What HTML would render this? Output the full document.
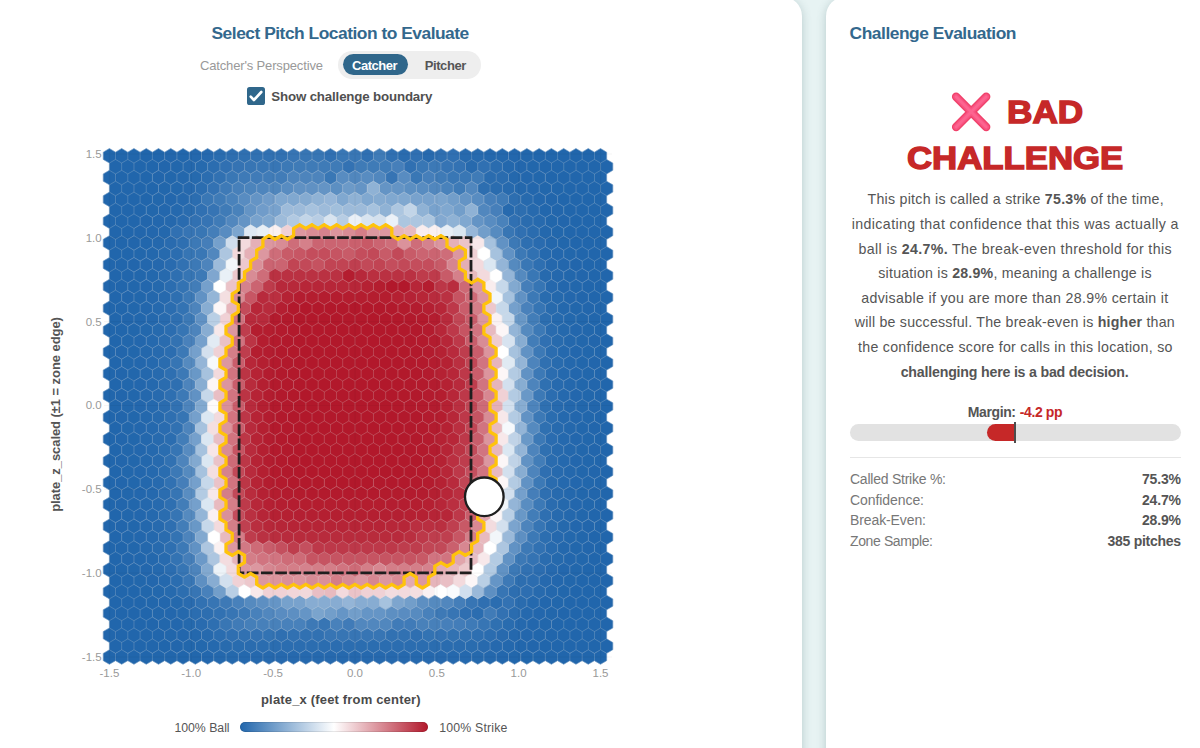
<!DOCTYPE html>
<html><head><meta charset="utf-8"><title>Challenge Evaluation</title>
<style>
html,body{margin:0;padding:0}
body{width:1200px;height:748px;overflow:hidden;position:relative;background:#e7f3f3;font-family:"Liberation Sans",sans-serif}
.card{position:absolute;background:#fff;border-radius:19px;box-shadow:0 2px 10px rgba(70,110,112,.3)}
#c1{left:-120px;top:-3px;width:922px;height:800px}
#c2{left:826px;top:-3px;width:420px;height:800px}
.t{position:absolute;white-space:nowrap;line-height:1;margin:0}
.t b{font-weight:700}
#pill{position:absolute;left:338.3px;top:51px;width:142.4px;height:27.6px;border-radius:14px;background:#eeeeee}
#act{position:absolute;left:342.7px;top:54px;width:65px;height:20.7px;border-radius:10.4px;background:#30678b}
#cb{position:absolute;left:247.1px;top:87.1px;width:17.6px;height:17.6px;border-radius:2.6px;background:#30678b}
#bar{position:absolute;left:850px;top:424px;width:331px;height:17px;border-radius:9px;background:#e2e2e2;overflow:hidden}
#fill{position:absolute;left:137px;top:0;width:28px;height:17px;border-radius:9px 0 0 9px;background:#c62828}
#mark{position:absolute;left:1013.9px;top:422.3px;width:2.2px;height:20.4px;background:#4d4d4d}
#hr{position:absolute;left:850px;top:457px;width:331px;height:1px;background:#e6e6e6}
#lg{position:absolute;left:240px;top:722px;width:188px;height:10.2px;border-radius:5.1px;box-shadow:inset 0 0 0 0.8px rgba(0,0,0,.13);background:linear-gradient(90deg,#2166ac,#ffffff 50%,#b2182b)}
svg{position:absolute;left:0;top:0}
</style></head><body>
<div class="card" id="c1"></div>
<div class="card" id="c2"></div>
<div id="pill"></div><div id="act"></div>
<div id="cb"></div>
<svg width="1200" height="748" viewBox="0 0 1200 748">
<g stroke-width="0.5" stroke-linejoin="round">
<path fill="#2166ac" stroke="#2166ac" d="M109.40 148.53l6.14 3.63v7.26l-6.14 3.63l-6.14 -3.63v-7.26zM121.68 148.53l6.14 3.63v7.26l-6.14 3.63l-6.14 -3.63v-7.26zM133.95 148.53l6.14 3.63v7.26l-6.14 3.63l-6.14 -3.63v-7.26zM146.23 148.53l6.14 3.63v7.26l-6.14 3.63l-6.14 -3.63v-7.26zM158.51 148.53l6.14 3.63v7.26l-6.14 3.63l-6.14 -3.63v-7.26zM539.11 148.53l6.14 3.63v7.26l-6.14 3.63l-6.14 -3.63v-7.26zM551.39 148.53l6.14 3.63v7.26l-6.14 3.63l-6.14 -3.63v-7.26zM563.67 148.53l6.14 3.63v7.26l-6.14 3.63l-6.14 -3.63v-7.26zM575.94 148.53l6.14 3.63v7.26l-6.14 3.63l-6.14 -3.63v-7.26zM588.22 148.53l6.14 3.63v7.26l-6.14 3.63l-6.14 -3.63v-7.26zM600.50 148.53l6.14 3.63v7.26l-6.14 3.63l-6.14 -3.63v-7.26zM115.54 159.43l6.14 3.63v7.26l-6.14 3.63l-6.14 -3.63v-7.26zM127.82 159.43l6.14 3.63v7.26l-6.14 3.63l-6.14 -3.63v-7.26zM140.09 159.43l6.14 3.63v7.26l-6.14 3.63l-6.14 -3.63v-7.26zM152.37 159.43l6.14 3.63v7.26l-6.14 3.63l-6.14 -3.63v-7.26zM545.25 159.43l6.14 3.63v7.26l-6.14 3.63l-6.14 -3.63v-7.26zM557.53 159.43l6.14 3.63v7.26l-6.14 3.63l-6.14 -3.63v-7.26zM569.81 159.43l6.14 3.63v7.26l-6.14 3.63l-6.14 -3.63v-7.26zM582.08 159.43l6.14 3.63v7.26l-6.14 3.63l-6.14 -3.63v-7.26zM594.36 159.43l6.14 3.63v7.26l-6.14 3.63l-6.14 -3.63v-7.26zM606.64 159.43l6.14 3.63v7.26l-6.14 3.63l-6.14 -3.63v-7.26zM109.40 170.32l6.14 3.63v7.26l-6.14 3.63l-6.14 -3.63v-7.26zM121.68 170.32l6.14 3.63v7.26l-6.14 3.63l-6.14 -3.63v-7.26zM133.95 170.32l6.14 3.63v7.26l-6.14 3.63l-6.14 -3.63v-7.26zM146.23 170.32l6.14 3.63v7.26l-6.14 3.63l-6.14 -3.63v-7.26zM551.39 170.32l6.14 3.63v7.26l-6.14 3.63l-6.14 -3.63v-7.26zM563.67 170.32l6.14 3.63v7.26l-6.14 3.63l-6.14 -3.63v-7.26zM575.94 170.32l6.14 3.63v7.26l-6.14 3.63l-6.14 -3.63v-7.26zM588.22 170.32l6.14 3.63v7.26l-6.14 3.63l-6.14 -3.63v-7.26zM600.50 170.32l6.14 3.63v7.26l-6.14 3.63l-6.14 -3.63v-7.26zM115.54 181.22l6.14 3.63v7.26l-6.14 3.63l-6.14 -3.63v-7.26zM127.82 181.22l6.14 3.63v7.26l-6.14 3.63l-6.14 -3.63v-7.26zM140.09 181.22l6.14 3.63v7.26l-6.14 3.63l-6.14 -3.63v-7.26zM152.37 181.22l6.14 3.63v7.26l-6.14 3.63l-6.14 -3.63v-7.26zM557.53 181.22l6.14 3.63v7.26l-6.14 3.63l-6.14 -3.63v-7.26zM569.81 181.22l6.14 3.63v7.26l-6.14 3.63l-6.14 -3.63v-7.26zM582.08 181.22l6.14 3.63v7.26l-6.14 3.63l-6.14 -3.63v-7.26zM594.36 181.22l6.14 3.63v7.26l-6.14 3.63l-6.14 -3.63v-7.26zM606.64 181.22l6.14 3.63v7.26l-6.14 3.63l-6.14 -3.63v-7.26zM109.40 192.11l6.14 3.63v7.26l-6.14 3.63l-6.14 -3.63v-7.26zM121.68 192.11l6.14 3.63v7.26l-6.14 3.63l-6.14 -3.63v-7.26zM133.95 192.11l6.14 3.63v7.26l-6.14 3.63l-6.14 -3.63v-7.26zM146.23 192.11l6.14 3.63v7.26l-6.14 3.63l-6.14 -3.63v-7.26zM563.67 192.11l6.14 3.63v7.26l-6.14 3.63l-6.14 -3.63v-7.26zM575.94 192.11l6.14 3.63v7.26l-6.14 3.63l-6.14 -3.63v-7.26zM588.22 192.11l6.14 3.63v7.26l-6.14 3.63l-6.14 -3.63v-7.26zM600.50 192.11l6.14 3.63v7.26l-6.14 3.63l-6.14 -3.63v-7.26zM115.54 203.01l6.14 3.63v7.26l-6.14 3.63l-6.14 -3.63v-7.26zM127.82 203.01l6.14 3.63v7.26l-6.14 3.63l-6.14 -3.63v-7.26zM140.09 203.01l6.14 3.63v7.26l-6.14 3.63l-6.14 -3.63v-7.26zM569.81 203.01l6.14 3.63v7.26l-6.14 3.63l-6.14 -3.63v-7.26zM582.08 203.01l6.14 3.63v7.26l-6.14 3.63l-6.14 -3.63v-7.26zM594.36 203.01l6.14 3.63v7.26l-6.14 3.63l-6.14 -3.63v-7.26zM606.64 203.01l6.14 3.63v7.26l-6.14 3.63l-6.14 -3.63v-7.26zM109.40 213.91l6.14 3.63v7.26l-6.14 3.63l-6.14 -3.63v-7.26zM121.68 213.91l6.14 3.63v7.26l-6.14 3.63l-6.14 -3.63v-7.26zM133.95 213.91l6.14 3.63v7.26l-6.14 3.63l-6.14 -3.63v-7.26zM575.94 213.91l6.14 3.63v7.26l-6.14 3.63l-6.14 -3.63v-7.26zM588.22 213.91l6.14 3.63v7.26l-6.14 3.63l-6.14 -3.63v-7.26zM600.50 213.91l6.14 3.63v7.26l-6.14 3.63l-6.14 -3.63v-7.26zM115.54 224.80l6.14 3.63v7.26l-6.14 3.63l-6.14 -3.63v-7.26zM127.82 224.80l6.14 3.63v7.26l-6.14 3.63l-6.14 -3.63v-7.26zM569.81 224.80l6.14 3.63v7.26l-6.14 3.63l-6.14 -3.63v-7.26zM582.08 224.80l6.14 3.63v7.26l-6.14 3.63l-6.14 -3.63v-7.26zM594.36 224.80l6.14 3.63v7.26l-6.14 3.63l-6.14 -3.63v-7.26zM606.64 224.80l6.14 3.63v7.26l-6.14 3.63l-6.14 -3.63v-7.26zM109.40 235.70l6.14 3.63v7.26l-6.14 3.63l-6.14 -3.63v-7.26zM121.68 235.70l6.14 3.63v7.26l-6.14 3.63l-6.14 -3.63v-7.26zM575.94 235.70l6.14 3.63v7.26l-6.14 3.63l-6.14 -3.63v-7.26zM588.22 235.70l6.14 3.63v7.26l-6.14 3.63l-6.14 -3.63v-7.26zM600.50 235.70l6.14 3.63v7.26l-6.14 3.63l-6.14 -3.63v-7.26zM115.54 246.59l6.14 3.63v7.26l-6.14 3.63l-6.14 -3.63v-7.26zM127.82 246.59l6.14 3.63v7.26l-6.14 3.63l-6.14 -3.63v-7.26zM582.08 246.59l6.14 3.63v7.26l-6.14 3.63l-6.14 -3.63v-7.26zM594.36 246.59l6.14 3.63v7.26l-6.14 3.63l-6.14 -3.63v-7.26zM606.64 246.59l6.14 3.63v7.26l-6.14 3.63l-6.14 -3.63v-7.26zM109.40 257.49l6.14 3.63v7.26l-6.14 3.63l-6.14 -3.63v-7.26zM121.68 257.49l6.14 3.63v7.26l-6.14 3.63l-6.14 -3.63v-7.26zM588.22 257.49l6.14 3.63v7.26l-6.14 3.63l-6.14 -3.63v-7.26zM600.50 257.49l6.14 3.63v7.26l-6.14 3.63l-6.14 -3.63v-7.26zM115.54 268.39l6.14 3.63v7.26l-6.14 3.63l-6.14 -3.63v-7.26zM127.82 268.39l6.14 3.63v7.26l-6.14 3.63l-6.14 -3.63v-7.26zM594.36 268.39l6.14 3.63v7.26l-6.14 3.63l-6.14 -3.63v-7.26zM606.64 268.39l6.14 3.63v7.26l-6.14 3.63l-6.14 -3.63v-7.26zM109.40 279.28l6.14 3.63v7.26l-6.14 3.63l-6.14 -3.63v-7.26zM121.68 279.28l6.14 3.63v7.26l-6.14 3.63l-6.14 -3.63v-7.26zM588.22 279.28l6.14 3.63v7.26l-6.14 3.63l-6.14 -3.63v-7.26zM600.50 279.28l6.14 3.63v7.26l-6.14 3.63l-6.14 -3.63v-7.26zM115.54 290.18l6.14 3.63v7.26l-6.14 3.63l-6.14 -3.63v-7.26zM594.36 290.18l6.14 3.63v7.26l-6.14 3.63l-6.14 -3.63v-7.26zM606.64 290.18l6.14 3.63v7.26l-6.14 3.63l-6.14 -3.63v-7.26zM109.40 301.07l6.14 3.63v7.26l-6.14 3.63l-6.14 -3.63v-7.26zM121.68 301.07l6.14 3.63v7.26l-6.14 3.63l-6.14 -3.63v-7.26zM600.50 301.07l6.14 3.63v7.26l-6.14 3.63l-6.14 -3.63v-7.26zM115.54 311.97l6.14 3.63v7.26l-6.14 3.63l-6.14 -3.63v-7.26zM594.36 311.97l6.14 3.63v7.26l-6.14 3.63l-6.14 -3.63v-7.26zM606.64 311.97l6.14 3.63v7.26l-6.14 3.63l-6.14 -3.63v-7.26zM109.40 322.87l6.14 3.63v7.26l-6.14 3.63l-6.14 -3.63v-7.26zM121.68 322.87l6.14 3.63v7.26l-6.14 3.63l-6.14 -3.63v-7.26zM600.50 322.87l6.14 3.63v7.26l-6.14 3.63l-6.14 -3.63v-7.26zM115.54 333.76l6.14 3.63v7.26l-6.14 3.63l-6.14 -3.63v-7.26zM606.64 333.76l6.14 3.63v7.26l-6.14 3.63l-6.14 -3.63v-7.26zM109.40 344.66l6.14 3.63v7.26l-6.14 3.63l-6.14 -3.63v-7.26zM600.50 344.66l6.14 3.63v7.26l-6.14 3.63l-6.14 -3.63v-7.26zM115.54 355.55l6.14 3.63v7.26l-6.14 3.63l-6.14 -3.63v-7.26zM606.64 355.55l6.14 3.63v7.26l-6.14 3.63l-6.14 -3.63v-7.26zM109.40 366.45l6.14 3.63v7.26l-6.14 3.63l-6.14 -3.63v-7.26zM600.50 366.45l6.14 3.63v7.26l-6.14 3.63l-6.14 -3.63v-7.26zM115.54 377.35l6.14 3.63v7.26l-6.14 3.63l-6.14 -3.63v-7.26zM606.64 377.35l6.14 3.63v7.26l-6.14 3.63l-6.14 -3.63v-7.26zM109.40 388.24l6.14 3.63v7.26l-6.14 3.63l-6.14 -3.63v-7.26zM600.50 388.24l6.14 3.63v7.26l-6.14 3.63l-6.14 -3.63v-7.26zM115.54 399.14l6.14 3.63v7.26l-6.14 3.63l-6.14 -3.63v-7.26zM606.64 399.14l6.14 3.63v7.26l-6.14 3.63l-6.14 -3.63v-7.26zM109.40 410.03l6.14 3.63v7.26l-6.14 3.63l-6.14 -3.63v-7.26zM600.50 410.03l6.14 3.63v7.26l-6.14 3.63l-6.14 -3.63v-7.26zM115.54 420.93l6.14 3.63v7.26l-6.14 3.63l-6.14 -3.63v-7.26zM606.64 420.93l6.14 3.63v7.26l-6.14 3.63l-6.14 -3.63v-7.26zM109.40 431.83l6.14 3.63v7.26l-6.14 3.63l-6.14 -3.63v-7.26zM600.50 431.83l6.14 3.63v7.26l-6.14 3.63l-6.14 -3.63v-7.26zM115.54 442.72l6.14 3.63v7.26l-6.14 3.63l-6.14 -3.63v-7.26zM606.64 442.72l6.14 3.63v7.26l-6.14 3.63l-6.14 -3.63v-7.26zM109.40 453.62l6.14 3.63v7.26l-6.14 3.63l-6.14 -3.63v-7.26zM600.50 453.62l6.14 3.63v7.26l-6.14 3.63l-6.14 -3.63v-7.26zM115.54 464.51l6.14 3.63v7.26l-6.14 3.63l-6.14 -3.63v-7.26zM606.64 464.51l6.14 3.63v7.26l-6.14 3.63l-6.14 -3.63v-7.26zM109.40 475.41l6.14 3.63v7.26l-6.14 3.63l-6.14 -3.63v-7.26zM600.50 475.41l6.14 3.63v7.26l-6.14 3.63l-6.14 -3.63v-7.26zM115.54 486.31l6.14 3.63v7.26l-6.14 3.63l-6.14 -3.63v-7.26zM606.64 486.31l6.14 3.63v7.26l-6.14 3.63l-6.14 -3.63v-7.26zM109.40 497.20l6.14 3.63v7.26l-6.14 3.63l-6.14 -3.63v-7.26zM600.50 497.20l6.14 3.63v7.26l-6.14 3.63l-6.14 -3.63v-7.26zM115.54 508.10l6.14 3.63v7.26l-6.14 3.63l-6.14 -3.63v-7.26zM594.36 508.10l6.14 3.63v7.26l-6.14 3.63l-6.14 -3.63v-7.26zM606.64 508.10l6.14 3.63v7.26l-6.14 3.63l-6.14 -3.63v-7.26zM109.40 519.00l6.14 3.63v7.26l-6.14 3.63l-6.14 -3.63v-7.26zM600.50 519.00l6.14 3.63v7.26l-6.14 3.63l-6.14 -3.63v-7.26zM115.54 529.89l6.14 3.63v7.26l-6.14 3.63l-6.14 -3.63v-7.26zM594.36 529.89l6.14 3.63v7.26l-6.14 3.63l-6.14 -3.63v-7.26zM606.64 529.89l6.14 3.63v7.26l-6.14 3.63l-6.14 -3.63v-7.26zM109.40 540.79l6.14 3.63v7.26l-6.14 3.63l-6.14 -3.63v-7.26zM121.68 540.79l6.14 3.63v7.26l-6.14 3.63l-6.14 -3.63v-7.26zM600.50 540.79l6.14 3.63v7.26l-6.14 3.63l-6.14 -3.63v-7.26zM115.54 551.68l6.14 3.63v7.26l-6.14 3.63l-6.14 -3.63v-7.26zM594.36 551.68l6.14 3.63v7.26l-6.14 3.63l-6.14 -3.63v-7.26zM606.64 551.68l6.14 3.63v7.26l-6.14 3.63l-6.14 -3.63v-7.26zM109.40 562.58l6.14 3.63v7.26l-6.14 3.63l-6.14 -3.63v-7.26zM121.68 562.58l6.14 3.63v7.26l-6.14 3.63l-6.14 -3.63v-7.26zM588.22 562.58l6.14 3.63v7.26l-6.14 3.63l-6.14 -3.63v-7.26zM600.50 562.58l6.14 3.63v7.26l-6.14 3.63l-6.14 -3.63v-7.26zM115.54 573.47l6.14 3.63v7.26l-6.14 3.63l-6.14 -3.63v-7.26zM127.82 573.47l6.14 3.63v7.26l-6.14 3.63l-6.14 -3.63v-7.26zM582.08 573.47l6.14 3.63v7.26l-6.14 3.63l-6.14 -3.63v-7.26zM594.36 573.47l6.14 3.63v7.26l-6.14 3.63l-6.14 -3.63v-7.26zM606.64 573.47l6.14 3.63v7.26l-6.14 3.63l-6.14 -3.63v-7.26zM109.40 584.37l6.14 3.63v7.26l-6.14 3.63l-6.14 -3.63v-7.26zM121.68 584.37l6.14 3.63v7.26l-6.14 3.63l-6.14 -3.63v-7.26zM133.95 584.37l6.14 3.63v7.26l-6.14 3.63l-6.14 -3.63v-7.26zM575.94 584.37l6.14 3.63v7.26l-6.14 3.63l-6.14 -3.63v-7.26zM588.22 584.37l6.14 3.63v7.26l-6.14 3.63l-6.14 -3.63v-7.26zM600.50 584.37l6.14 3.63v7.26l-6.14 3.63l-6.14 -3.63v-7.26zM115.54 595.27l6.14 3.63v7.26l-6.14 3.63l-6.14 -3.63v-7.26zM127.82 595.27l6.14 3.63v7.26l-6.14 3.63l-6.14 -3.63v-7.26zM140.09 595.27l6.14 3.63v7.26l-6.14 3.63l-6.14 -3.63v-7.26zM569.81 595.27l6.14 3.63v7.26l-6.14 3.63l-6.14 -3.63v-7.26zM582.08 595.27l6.14 3.63v7.26l-6.14 3.63l-6.14 -3.63v-7.26zM594.36 595.27l6.14 3.63v7.26l-6.14 3.63l-6.14 -3.63v-7.26zM606.64 595.27l6.14 3.63v7.26l-6.14 3.63l-6.14 -3.63v-7.26zM109.40 606.16l6.14 3.63v7.26l-6.14 3.63l-6.14 -3.63v-7.26zM121.68 606.16l6.14 3.63v7.26l-6.14 3.63l-6.14 -3.63v-7.26zM133.95 606.16l6.14 3.63v7.26l-6.14 3.63l-6.14 -3.63v-7.26zM146.23 606.16l6.14 3.63v7.26l-6.14 3.63l-6.14 -3.63v-7.26zM563.67 606.16l6.14 3.63v7.26l-6.14 3.63l-6.14 -3.63v-7.26zM575.94 606.16l6.14 3.63v7.26l-6.14 3.63l-6.14 -3.63v-7.26zM588.22 606.16l6.14 3.63v7.26l-6.14 3.63l-6.14 -3.63v-7.26zM600.50 606.16l6.14 3.63v7.26l-6.14 3.63l-6.14 -3.63v-7.26zM115.54 617.06l6.14 3.63v7.26l-6.14 3.63l-6.14 -3.63v-7.26zM127.82 617.06l6.14 3.63v7.26l-6.14 3.63l-6.14 -3.63v-7.26zM140.09 617.06l6.14 3.63v7.26l-6.14 3.63l-6.14 -3.63v-7.26zM152.37 617.06l6.14 3.63v7.26l-6.14 3.63l-6.14 -3.63v-7.26zM557.53 617.06l6.14 3.63v7.26l-6.14 3.63l-6.14 -3.63v-7.26zM569.81 617.06l6.14 3.63v7.26l-6.14 3.63l-6.14 -3.63v-7.26zM582.08 617.06l6.14 3.63v7.26l-6.14 3.63l-6.14 -3.63v-7.26zM594.36 617.06l6.14 3.63v7.26l-6.14 3.63l-6.14 -3.63v-7.26zM606.64 617.06l6.14 3.63v7.26l-6.14 3.63l-6.14 -3.63v-7.26zM109.40 627.96l6.14 3.63v7.26l-6.14 3.63l-6.14 -3.63v-7.26zM121.68 627.96l6.14 3.63v7.26l-6.14 3.63l-6.14 -3.63v-7.26zM133.95 627.96l6.14 3.63v7.26l-6.14 3.63l-6.14 -3.63v-7.26zM146.23 627.96l6.14 3.63v7.26l-6.14 3.63l-6.14 -3.63v-7.26zM158.51 627.96l6.14 3.63v7.26l-6.14 3.63l-6.14 -3.63v-7.26zM551.39 627.96l6.14 3.63v7.26l-6.14 3.63l-6.14 -3.63v-7.26zM563.67 627.96l6.14 3.63v7.26l-6.14 3.63l-6.14 -3.63v-7.26zM575.94 627.96l6.14 3.63v7.26l-6.14 3.63l-6.14 -3.63v-7.26zM588.22 627.96l6.14 3.63v7.26l-6.14 3.63l-6.14 -3.63v-7.26zM600.50 627.96l6.14 3.63v7.26l-6.14 3.63l-6.14 -3.63v-7.26zM115.54 638.85l6.14 3.63v7.26l-6.14 3.63l-6.14 -3.63v-7.26zM127.82 638.85l6.14 3.63v7.26l-6.14 3.63l-6.14 -3.63v-7.26zM140.09 638.85l6.14 3.63v7.26l-6.14 3.63l-6.14 -3.63v-7.26zM152.37 638.85l6.14 3.63v7.26l-6.14 3.63l-6.14 -3.63v-7.26zM164.65 638.85l6.14 3.63v7.26l-6.14 3.63l-6.14 -3.63v-7.26zM545.25 638.85l6.14 3.63v7.26l-6.14 3.63l-6.14 -3.63v-7.26zM557.53 638.85l6.14 3.63v7.26l-6.14 3.63l-6.14 -3.63v-7.26zM569.81 638.85l6.14 3.63v7.26l-6.14 3.63l-6.14 -3.63v-7.26zM582.08 638.85l6.14 3.63v7.26l-6.14 3.63l-6.14 -3.63v-7.26zM594.36 638.85l6.14 3.63v7.26l-6.14 3.63l-6.14 -3.63v-7.26zM606.64 638.85l6.14 3.63v7.26l-6.14 3.63l-6.14 -3.63v-7.26zM109.40 649.75l6.14 3.63v7.26l-6.14 3.63l-6.14 -3.63v-7.26zM121.68 649.75l6.14 3.63v7.26l-6.14 3.63l-6.14 -3.63v-7.26zM133.95 649.75l6.14 3.63v7.26l-6.14 3.63l-6.14 -3.63v-7.26zM146.23 649.75l6.14 3.63v7.26l-6.14 3.63l-6.14 -3.63v-7.26zM158.51 649.75l6.14 3.63v7.26l-6.14 3.63l-6.14 -3.63v-7.26zM170.79 649.75l6.14 3.63v7.26l-6.14 3.63l-6.14 -3.63v-7.26zM183.06 649.75l6.14 3.63v7.26l-6.14 3.63l-6.14 -3.63v-7.26zM526.83 649.75l6.14 3.63v7.26l-6.14 3.63l-6.14 -3.63v-7.26zM539.11 649.75l6.14 3.63v7.26l-6.14 3.63l-6.14 -3.63v-7.26zM551.39 649.75l6.14 3.63v7.26l-6.14 3.63l-6.14 -3.63v-7.26zM563.67 649.75l6.14 3.63v7.26l-6.14 3.63l-6.14 -3.63v-7.26zM575.94 649.75l6.14 3.63v7.26l-6.14 3.63l-6.14 -3.63v-7.26zM588.22 649.75l6.14 3.63v7.26l-6.14 3.63l-6.14 -3.63v-7.26zM600.50 649.75l6.14 3.63v7.26l-6.14 3.63l-6.14 -3.63v-7.26z"/>
<path fill="#2266ac" stroke="#2266ac" d="M170.79 148.53l6.14 3.63v7.26l-6.14 3.63l-6.14 -3.63v-7.26zM164.65 159.43l6.14 3.63v7.26l-6.14 3.63l-6.14 -3.63v-7.26zM158.51 170.32l6.14 3.63v7.26l-6.14 3.63l-6.14 -3.63v-7.26zM551.39 192.11l6.14 3.63v7.26l-6.14 3.63l-6.14 -3.63v-7.26zM557.53 203.01l6.14 3.63v7.26l-6.14 3.63l-6.14 -3.63v-7.26zM146.23 213.91l6.14 3.63v7.26l-6.14 3.63l-6.14 -3.63v-7.26zM563.67 213.91l6.14 3.63v7.26l-6.14 3.63l-6.14 -3.63v-7.26zM140.09 224.80l6.14 3.63v7.26l-6.14 3.63l-6.14 -3.63v-7.26zM133.95 235.70l6.14 3.63v7.26l-6.14 3.63l-6.14 -3.63v-7.26zM133.95 257.49l6.14 3.63v7.26l-6.14 3.63l-6.14 -3.63v-7.26zM575.94 257.49l6.14 3.63v7.26l-6.14 3.63l-6.14 -3.63v-7.26zM582.08 268.39l6.14 3.63v7.26l-6.14 3.63l-6.14 -3.63v-7.26zM127.82 290.18l6.14 3.63v7.26l-6.14 3.63l-6.14 -3.63v-7.26zM582.08 290.18l6.14 3.63v7.26l-6.14 3.63l-6.14 -3.63v-7.26zM588.22 301.07l6.14 3.63v7.26l-6.14 3.63l-6.14 -3.63v-7.26zM127.82 311.97l6.14 3.63v7.26l-6.14 3.63l-6.14 -3.63v-7.26zM594.36 333.76l6.14 3.63v7.26l-6.14 3.63l-6.14 -3.63v-7.26zM121.68 344.66l6.14 3.63v7.26l-6.14 3.63l-6.14 -3.63v-7.26zM594.36 355.55l6.14 3.63v7.26l-6.14 3.63l-6.14 -3.63v-7.26zM121.68 366.45l6.14 3.63v7.26l-6.14 3.63l-6.14 -3.63v-7.26zM594.36 377.35l6.14 3.63v7.26l-6.14 3.63l-6.14 -3.63v-7.26zM121.68 388.24l6.14 3.63v7.26l-6.14 3.63l-6.14 -3.63v-7.26zM594.36 399.14l6.14 3.63v7.26l-6.14 3.63l-6.14 -3.63v-7.26zM121.68 410.03l6.14 3.63v7.26l-6.14 3.63l-6.14 -3.63v-7.26zM594.36 420.93l6.14 3.63v7.26l-6.14 3.63l-6.14 -3.63v-7.26zM121.68 431.83l6.14 3.63v7.26l-6.14 3.63l-6.14 -3.63v-7.26zM594.36 442.72l6.14 3.63v7.26l-6.14 3.63l-6.14 -3.63v-7.26zM121.68 453.62l6.14 3.63v7.26l-6.14 3.63l-6.14 -3.63v-7.26zM594.36 464.51l6.14 3.63v7.26l-6.14 3.63l-6.14 -3.63v-7.26zM121.68 475.41l6.14 3.63v7.26l-6.14 3.63l-6.14 -3.63v-7.26zM594.36 486.31l6.14 3.63v7.26l-6.14 3.63l-6.14 -3.63v-7.26zM121.68 497.20l6.14 3.63v7.26l-6.14 3.63l-6.14 -3.63v-7.26zM121.68 519.00l6.14 3.63v7.26l-6.14 3.63l-6.14 -3.63v-7.26zM588.22 519.00l6.14 3.63v7.26l-6.14 3.63l-6.14 -3.63v-7.26zM588.22 540.79l6.14 3.63v7.26l-6.14 3.63l-6.14 -3.63v-7.26zM127.82 551.68l6.14 3.63v7.26l-6.14 3.63l-6.14 -3.63v-7.26zM176.93 638.85l6.14 3.63v7.26l-6.14 3.63l-6.14 -3.63v-7.26zM532.97 638.85l6.14 3.63v7.26l-6.14 3.63l-6.14 -3.63v-7.26z"/>
<path fill="#2267ac" stroke="#2267ac" d="M183.06 148.53l6.14 3.63v7.26l-6.14 3.63l-6.14 -3.63v-7.26zM526.83 148.53l6.14 3.63v7.26l-6.14 3.63l-6.14 -3.63v-7.26zM176.93 159.43l6.14 3.63v7.26l-6.14 3.63l-6.14 -3.63v-7.26zM532.97 159.43l6.14 3.63v7.26l-6.14 3.63l-6.14 -3.63v-7.26zM170.79 170.32l6.14 3.63v7.26l-6.14 3.63l-6.14 -3.63v-7.26zM539.11 170.32l6.14 3.63v7.26l-6.14 3.63l-6.14 -3.63v-7.26zM164.65 181.22l6.14 3.63v7.26l-6.14 3.63l-6.14 -3.63v-7.26zM545.25 181.22l6.14 3.63v7.26l-6.14 3.63l-6.14 -3.63v-7.26zM158.51 192.11l6.14 3.63v7.26l-6.14 3.63l-6.14 -3.63v-7.26zM152.37 203.01l6.14 3.63v7.26l-6.14 3.63l-6.14 -3.63v-7.26zM551.39 213.91l6.14 3.63v7.26l-6.14 3.63l-6.14 -3.63v-7.26zM557.53 224.80l6.14 3.63v7.26l-6.14 3.63l-6.14 -3.63v-7.26zM563.67 235.70l6.14 3.63v7.26l-6.14 3.63l-6.14 -3.63v-7.26zM140.09 246.59l6.14 3.63v7.26l-6.14 3.63l-6.14 -3.63v-7.26zM569.81 246.59l6.14 3.63v7.26l-6.14 3.63l-6.14 -3.63v-7.26zM140.09 268.39l6.14 3.63v7.26l-6.14 3.63l-6.14 -3.63v-7.26zM569.81 268.39l6.14 3.63v7.26l-6.14 3.63l-6.14 -3.63v-7.26zM133.95 279.28l6.14 3.63v7.26l-6.14 3.63l-6.14 -3.63v-7.26zM575.94 279.28l6.14 3.63v7.26l-6.14 3.63l-6.14 -3.63v-7.26zM140.09 290.18l6.14 3.63v7.26l-6.14 3.63l-6.14 -3.63v-7.26zM133.95 301.07l6.14 3.63v7.26l-6.14 3.63l-6.14 -3.63v-7.26zM575.94 301.07l6.14 3.63v7.26l-6.14 3.63l-6.14 -3.63v-7.26zM582.08 311.97l6.14 3.63v7.26l-6.14 3.63l-6.14 -3.63v-7.26zM133.95 322.87l6.14 3.63v7.26l-6.14 3.63l-6.14 -3.63v-7.26zM588.22 322.87l6.14 3.63v7.26l-6.14 3.63l-6.14 -3.63v-7.26zM127.82 333.76l6.14 3.63v7.26l-6.14 3.63l-6.14 -3.63v-7.26zM582.08 333.76l6.14 3.63v7.26l-6.14 3.63l-6.14 -3.63v-7.26zM133.95 344.66l6.14 3.63v7.26l-6.14 3.63l-6.14 -3.63v-7.26zM588.22 344.66l6.14 3.63v7.26l-6.14 3.63l-6.14 -3.63v-7.26zM127.82 355.55l6.14 3.63v7.26l-6.14 3.63l-6.14 -3.63v-7.26zM582.08 355.55l6.14 3.63v7.26l-6.14 3.63l-6.14 -3.63v-7.26zM133.95 366.45l6.14 3.63v7.26l-6.14 3.63l-6.14 -3.63v-7.26zM588.22 366.45l6.14 3.63v7.26l-6.14 3.63l-6.14 -3.63v-7.26zM127.82 377.35l6.14 3.63v7.26l-6.14 3.63l-6.14 -3.63v-7.26zM582.08 377.35l6.14 3.63v7.26l-6.14 3.63l-6.14 -3.63v-7.26zM133.95 388.24l6.14 3.63v7.26l-6.14 3.63l-6.14 -3.63v-7.26zM588.22 388.24l6.14 3.63v7.26l-6.14 3.63l-6.14 -3.63v-7.26zM127.82 399.14l6.14 3.63v7.26l-6.14 3.63l-6.14 -3.63v-7.26zM582.08 399.14l6.14 3.63v7.26l-6.14 3.63l-6.14 -3.63v-7.26zM133.95 410.03l6.14 3.63v7.26l-6.14 3.63l-6.14 -3.63v-7.26zM588.22 410.03l6.14 3.63v7.26l-6.14 3.63l-6.14 -3.63v-7.26zM127.82 420.93l6.14 3.63v7.26l-6.14 3.63l-6.14 -3.63v-7.26zM582.08 420.93l6.14 3.63v7.26l-6.14 3.63l-6.14 -3.63v-7.26zM133.95 431.83l6.14 3.63v7.26l-6.14 3.63l-6.14 -3.63v-7.26zM588.22 431.83l6.14 3.63v7.26l-6.14 3.63l-6.14 -3.63v-7.26zM127.82 442.72l6.14 3.63v7.26l-6.14 3.63l-6.14 -3.63v-7.26zM582.08 442.72l6.14 3.63v7.26l-6.14 3.63l-6.14 -3.63v-7.26zM133.95 453.62l6.14 3.63v7.26l-6.14 3.63l-6.14 -3.63v-7.26zM588.22 453.62l6.14 3.63v7.26l-6.14 3.63l-6.14 -3.63v-7.26zM127.82 464.51l6.14 3.63v7.26l-6.14 3.63l-6.14 -3.63v-7.26zM582.08 464.51l6.14 3.63v7.26l-6.14 3.63l-6.14 -3.63v-7.26zM133.95 475.41l6.14 3.63v7.26l-6.14 3.63l-6.14 -3.63v-7.26zM588.22 475.41l6.14 3.63v7.26l-6.14 3.63l-6.14 -3.63v-7.26zM127.82 486.31l6.14 3.63v7.26l-6.14 3.63l-6.14 -3.63v-7.26zM582.08 486.31l6.14 3.63v7.26l-6.14 3.63l-6.14 -3.63v-7.26zM133.95 497.20l6.14 3.63v7.26l-6.14 3.63l-6.14 -3.63v-7.26zM588.22 497.20l6.14 3.63v7.26l-6.14 3.63l-6.14 -3.63v-7.26zM127.82 508.10l6.14 3.63v7.26l-6.14 3.63l-6.14 -3.63v-7.26zM582.08 508.10l6.14 3.63v7.26l-6.14 3.63l-6.14 -3.63v-7.26zM133.95 519.00l6.14 3.63v7.26l-6.14 3.63l-6.14 -3.63v-7.26zM127.82 529.89l6.14 3.63v7.26l-6.14 3.63l-6.14 -3.63v-7.26zM582.08 529.89l6.14 3.63v7.26l-6.14 3.63l-6.14 -3.63v-7.26zM133.95 540.79l6.14 3.63v7.26l-6.14 3.63l-6.14 -3.63v-7.26zM575.94 540.79l6.14 3.63v7.26l-6.14 3.63l-6.14 -3.63v-7.26zM582.08 551.68l6.14 3.63v7.26l-6.14 3.63l-6.14 -3.63v-7.26zM133.95 562.58l6.14 3.63v7.26l-6.14 3.63l-6.14 -3.63v-7.26zM575.94 562.58l6.14 3.63v7.26l-6.14 3.63l-6.14 -3.63v-7.26zM140.09 573.47l6.14 3.63v7.26l-6.14 3.63l-6.14 -3.63v-7.26zM569.81 573.47l6.14 3.63v7.26l-6.14 3.63l-6.14 -3.63v-7.26zM146.23 584.37l6.14 3.63v7.26l-6.14 3.63l-6.14 -3.63v-7.26zM563.67 584.37l6.14 3.63v7.26l-6.14 3.63l-6.14 -3.63v-7.26zM152.37 595.27l6.14 3.63v7.26l-6.14 3.63l-6.14 -3.63v-7.26zM557.53 595.27l6.14 3.63v7.26l-6.14 3.63l-6.14 -3.63v-7.26zM158.51 606.16l6.14 3.63v7.26l-6.14 3.63l-6.14 -3.63v-7.26zM551.39 606.16l6.14 3.63v7.26l-6.14 3.63l-6.14 -3.63v-7.26zM164.65 617.06l6.14 3.63v7.26l-6.14 3.63l-6.14 -3.63v-7.26zM545.25 617.06l6.14 3.63v7.26l-6.14 3.63l-6.14 -3.63v-7.26zM170.79 627.96l6.14 3.63v7.26l-6.14 3.63l-6.14 -3.63v-7.26zM539.11 627.96l6.14 3.63v7.26l-6.14 3.63l-6.14 -3.63v-7.26zM189.20 638.85l6.14 3.63v7.26l-6.14 3.63l-6.14 -3.63v-7.26zM195.34 649.75l6.14 3.63v7.26l-6.14 3.63l-6.14 -3.63v-7.26zM514.56 649.75l6.14 3.63v7.26l-6.14 3.63l-6.14 -3.63v-7.26z"/>
<path fill="#2468ad" stroke="#2468ad" d="M195.34 148.53l6.14 3.63v7.26l-6.14 3.63l-6.14 -3.63v-7.26zM490.00 148.53l6.14 3.63v7.26l-6.14 3.63l-6.14 -3.63v-7.26zM502.28 148.53l6.14 3.63v7.26l-6.14 3.63l-6.14 -3.63v-7.26zM189.20 159.43l6.14 3.63v7.26l-6.14 3.63l-6.14 -3.63v-7.26zM508.42 159.43l6.14 3.63v7.26l-6.14 3.63l-6.14 -3.63v-7.26zM183.06 170.32l6.14 3.63v7.26l-6.14 3.63l-6.14 -3.63v-7.26zM514.56 170.32l6.14 3.63v7.26l-6.14 3.63l-6.14 -3.63v-7.26zM520.70 181.22l6.14 3.63v7.26l-6.14 3.63l-6.14 -3.63v-7.26zM164.65 224.80l6.14 3.63v7.26l-6.14 3.63l-6.14 -3.63v-7.26zM545.25 224.80l6.14 3.63v7.26l-6.14 3.63l-6.14 -3.63v-7.26zM158.51 235.70l6.14 3.63v7.26l-6.14 3.63l-6.14 -3.63v-7.26zM551.39 235.70l6.14 3.63v7.26l-6.14 3.63l-6.14 -3.63v-7.26zM557.53 268.39l6.14 3.63v7.26l-6.14 3.63l-6.14 -3.63v-7.26zM152.37 290.18l6.14 3.63v7.26l-6.14 3.63l-6.14 -3.63v-7.26zM563.67 301.07l6.14 3.63v7.26l-6.14 3.63l-6.14 -3.63v-7.26zM152.37 311.97l6.14 3.63v7.26l-6.14 3.63l-6.14 -3.63v-7.26zM569.81 333.76l6.14 3.63v7.26l-6.14 3.63l-6.14 -3.63v-7.26zM146.23 344.66l6.14 3.63v7.26l-6.14 3.63l-6.14 -3.63v-7.26zM569.81 355.55l6.14 3.63v7.26l-6.14 3.63l-6.14 -3.63v-7.26zM146.23 366.45l6.14 3.63v7.26l-6.14 3.63l-6.14 -3.63v-7.26zM569.81 377.35l6.14 3.63v7.26l-6.14 3.63l-6.14 -3.63v-7.26zM146.23 388.24l6.14 3.63v7.26l-6.14 3.63l-6.14 -3.63v-7.26zM569.81 399.14l6.14 3.63v7.26l-6.14 3.63l-6.14 -3.63v-7.26zM146.23 410.03l6.14 3.63v7.26l-6.14 3.63l-6.14 -3.63v-7.26zM569.81 420.93l6.14 3.63v7.26l-6.14 3.63l-6.14 -3.63v-7.26zM146.23 431.83l6.14 3.63v7.26l-6.14 3.63l-6.14 -3.63v-7.26zM569.81 442.72l6.14 3.63v7.26l-6.14 3.63l-6.14 -3.63v-7.26zM146.23 453.62l6.14 3.63v7.26l-6.14 3.63l-6.14 -3.63v-7.26zM569.81 464.51l6.14 3.63v7.26l-6.14 3.63l-6.14 -3.63v-7.26zM146.23 475.41l6.14 3.63v7.26l-6.14 3.63l-6.14 -3.63v-7.26zM569.81 486.31l6.14 3.63v7.26l-6.14 3.63l-6.14 -3.63v-7.26zM146.23 497.20l6.14 3.63v7.26l-6.14 3.63l-6.14 -3.63v-7.26zM569.81 508.10l6.14 3.63v7.26l-6.14 3.63l-6.14 -3.63v-7.26zM146.23 519.00l6.14 3.63v7.26l-6.14 3.63l-6.14 -3.63v-7.26zM146.23 540.79l6.14 3.63v7.26l-6.14 3.63l-6.14 -3.63v-7.26zM563.67 540.79l6.14 3.63v7.26l-6.14 3.63l-6.14 -3.63v-7.26zM152.37 551.68l6.14 3.63v7.26l-6.14 3.63l-6.14 -3.63v-7.26zM551.39 584.37l6.14 3.63v7.26l-6.14 3.63l-6.14 -3.63v-7.26zM195.34 627.96l6.14 3.63v7.26l-6.14 3.63l-6.14 -3.63v-7.26zM508.42 638.85l6.14 3.63v7.26l-6.14 3.63l-6.14 -3.63v-7.26zM219.90 649.75l6.14 3.63v7.26l-6.14 3.63l-6.14 -3.63v-7.26zM490.00 649.75l6.14 3.63v7.26l-6.14 3.63l-6.14 -3.63v-7.26z"/>
<path fill="#2669ae" stroke="#2669ae" d="M207.62 148.53l6.14 3.63v7.26l-6.14 3.63l-6.14 -3.63v-7.26zM189.20 181.22l6.14 3.63v7.26l-6.14 3.63l-6.14 -3.63v-7.26zM183.06 192.11l6.14 3.63v7.26l-6.14 3.63l-6.14 -3.63v-7.26zM551.39 279.28l6.14 3.63v7.26l-6.14 3.63l-6.14 -3.63v-7.26zM557.53 529.89l6.14 3.63v7.26l-6.14 3.63l-6.14 -3.63v-7.26zM551.39 562.58l6.14 3.63v7.26l-6.14 3.63l-6.14 -3.63v-7.26zM545.25 573.47l6.14 3.63v7.26l-6.14 3.63l-6.14 -3.63v-7.26zM496.14 638.85l6.14 3.63v7.26l-6.14 3.63l-6.14 -3.63v-7.26zM256.73 649.75l6.14 3.63v7.26l-6.14 3.63l-6.14 -3.63v-7.26zM269.01 649.75l6.14 3.63v7.26l-6.14 3.63l-6.14 -3.63v-7.26zM281.28 649.75l6.14 3.63v7.26l-6.14 3.63l-6.14 -3.63v-7.26zM293.56 649.75l6.14 3.63v7.26l-6.14 3.63l-6.14 -3.63v-7.26zM305.84 649.75l6.14 3.63v7.26l-6.14 3.63l-6.14 -3.63v-7.26zM318.12 649.75l6.14 3.63v7.26l-6.14 3.63l-6.14 -3.63v-7.26zM330.39 649.75l6.14 3.63v7.26l-6.14 3.63l-6.14 -3.63v-7.26zM342.67 649.75l6.14 3.63v7.26l-6.14 3.63l-6.14 -3.63v-7.26zM354.95 649.75l6.14 3.63v7.26l-6.14 3.63l-6.14 -3.63v-7.26zM367.23 649.75l6.14 3.63v7.26l-6.14 3.63l-6.14 -3.63v-7.26zM379.50 649.75l6.14 3.63v7.26l-6.14 3.63l-6.14 -3.63v-7.26zM391.78 649.75l6.14 3.63v7.26l-6.14 3.63l-6.14 -3.63v-7.26zM404.06 649.75l6.14 3.63v7.26l-6.14 3.63l-6.14 -3.63v-7.26zM416.34 649.75l6.14 3.63v7.26l-6.14 3.63l-6.14 -3.63v-7.26zM428.62 649.75l6.14 3.63v7.26l-6.14 3.63l-6.14 -3.63v-7.26zM440.89 649.75l6.14 3.63v7.26l-6.14 3.63l-6.14 -3.63v-7.26zM453.17 649.75l6.14 3.63v7.26l-6.14 3.63l-6.14 -3.63v-7.26z"/>
<path fill="#296caf" stroke="#296caf" d="M219.90 148.53l6.14 3.63v7.26l-6.14 3.63l-6.14 -3.63v-7.26zM545.25 290.18l6.14 3.63v7.26l-6.14 3.63l-6.14 -3.63v-7.26zM551.39 519.00l6.14 3.63v7.26l-6.14 3.63l-6.14 -3.63v-7.26zM508.42 617.06l6.14 3.63v7.26l-6.14 3.63l-6.14 -3.63v-7.26zM238.31 638.85l6.14 3.63v7.26l-6.14 3.63l-6.14 -3.63v-7.26zM471.59 638.85l6.14 3.63v7.26l-6.14 3.63l-6.14 -3.63v-7.26z"/>
<path fill="#2d6eb0" stroke="#2d6eb0" d="M232.18 148.53l6.14 3.63v7.26l-6.14 3.63l-6.14 -3.63v-7.26zM483.86 181.22l6.14 3.63v7.26l-6.14 3.63l-6.14 -3.63v-7.26zM514.56 192.11l6.14 3.63v7.26l-6.14 3.63l-6.14 -3.63v-7.26zM520.70 203.01l6.14 3.63v7.26l-6.14 3.63l-6.14 -3.63v-7.26zM520.70 573.47l6.14 3.63v7.26l-6.14 3.63l-6.14 -3.63v-7.26zM514.56 584.37l6.14 3.63v7.26l-6.14 3.63l-6.14 -3.63v-7.26zM207.62 606.16l6.14 3.63v7.26l-6.14 3.63l-6.14 -3.63v-7.26z"/>
<path fill="#2f70b1" stroke="#2f70b1" d="M244.45 148.53l6.14 3.63v7.26l-6.14 3.63l-6.14 -3.63v-7.26zM545.25 377.35l6.14 3.63v7.26l-6.14 3.63l-6.14 -3.63v-7.26zM545.25 399.14l6.14 3.63v7.26l-6.14 3.63l-6.14 -3.63v-7.26zM545.25 420.93l6.14 3.63v7.26l-6.14 3.63l-6.14 -3.63v-7.26zM545.25 442.72l6.14 3.63v7.26l-6.14 3.63l-6.14 -3.63v-7.26zM496.14 617.06l6.14 3.63v7.26l-6.14 3.63l-6.14 -3.63v-7.26z"/>
<path fill="#3071b2" stroke="#3071b2" d="M256.73 148.53l6.14 3.63v7.26l-6.14 3.63l-6.14 -3.63v-7.26zM465.45 627.96l6.14 3.63v7.26l-6.14 3.63l-6.14 -3.63v-7.26z"/>
<path fill="#3171b2" stroke="#3171b2" d="M269.01 148.53l6.14 3.63v7.26l-6.14 3.63l-6.14 -3.63v-7.26zM281.28 148.53l6.14 3.63v7.26l-6.14 3.63l-6.14 -3.63v-7.26zM219.90 170.32l6.14 3.63v7.26l-6.14 3.63l-6.14 -3.63v-7.26zM532.97 246.59l6.14 3.63v7.26l-6.14 3.63l-6.14 -3.63v-7.26zM183.06 257.49l6.14 3.63v7.26l-6.14 3.63l-6.14 -3.63v-7.26zM176.93 399.14l6.14 3.63v7.26l-6.14 3.63l-6.14 -3.63v-7.26zM176.93 420.93l6.14 3.63v7.26l-6.14 3.63l-6.14 -3.63v-7.26zM170.79 453.62l6.14 3.63v7.26l-6.14 3.63l-6.14 -3.63v-7.26zM170.79 475.41l6.14 3.63v7.26l-6.14 3.63l-6.14 -3.63v-7.26zM539.11 540.79l6.14 3.63v7.26l-6.14 3.63l-6.14 -3.63v-7.26zM526.83 562.58l6.14 3.63v7.26l-6.14 3.63l-6.14 -3.63v-7.26zM201.48 595.27l6.14 3.63v7.26l-6.14 3.63l-6.14 -3.63v-7.26zM219.90 606.16l6.14 3.63v7.26l-6.14 3.63l-6.14 -3.63v-7.26zM244.45 627.96l6.14 3.63v7.26l-6.14 3.63l-6.14 -3.63v-7.26zM293.56 627.96l6.14 3.63v7.26l-6.14 3.63l-6.14 -3.63v-7.26zM305.84 627.96l6.14 3.63v7.26l-6.14 3.63l-6.14 -3.63v-7.26zM318.12 627.96l6.14 3.63v7.26l-6.14 3.63l-6.14 -3.63v-7.26zM391.78 627.96l6.14 3.63v7.26l-6.14 3.63l-6.14 -3.63v-7.26zM404.06 627.96l6.14 3.63v7.26l-6.14 3.63l-6.14 -3.63v-7.26z"/>
<path fill="#3775b4" stroke="#3775b4" d="M293.56 148.53l6.14 3.63v7.26l-6.14 3.63l-6.14 -3.63v-7.26zM250.59 159.43l6.14 3.63v7.26l-6.14 3.63l-6.14 -3.63v-7.26zM195.34 584.37l6.14 3.63v7.26l-6.14 3.63l-6.14 -3.63v-7.26zM502.28 584.37l6.14 3.63v7.26l-6.14 3.63l-6.14 -3.63v-7.26zM213.76 595.27l6.14 3.63v7.26l-6.14 3.63l-6.14 -3.63v-7.26zM471.59 595.27l6.14 3.63v7.26l-6.14 3.63l-6.14 -3.63v-7.26zM232.18 606.16l6.14 3.63v7.26l-6.14 3.63l-6.14 -3.63v-7.26zM453.17 606.16l6.14 3.63v7.26l-6.14 3.63l-6.14 -3.63v-7.26zM324.26 617.06l6.14 3.63v7.26l-6.14 3.63l-6.14 -3.63v-7.26zM483.86 617.06l6.14 3.63v7.26l-6.14 3.63l-6.14 -3.63v-7.26zM330.39 627.96l6.14 3.63v7.26l-6.14 3.63l-6.14 -3.63v-7.26zM342.67 627.96l6.14 3.63v7.26l-6.14 3.63l-6.14 -3.63v-7.26zM354.95 627.96l6.14 3.63v7.26l-6.14 3.63l-6.14 -3.63v-7.26zM367.23 627.96l6.14 3.63v7.26l-6.14 3.63l-6.14 -3.63v-7.26zM379.50 627.96l6.14 3.63v7.26l-6.14 3.63l-6.14 -3.63v-7.26z"/>
<path fill="#3876b4" stroke="#3876b4" d="M305.84 148.53l6.14 3.63v7.26l-6.14 3.63l-6.14 -3.63v-7.26zM318.12 148.53l6.14 3.63v7.26l-6.14 3.63l-6.14 -3.63v-7.26zM201.48 224.80l6.14 3.63v7.26l-6.14 3.63l-6.14 -3.63v-7.26zM508.42 224.80l6.14 3.63v7.26l-6.14 3.63l-6.14 -3.63v-7.26zM226.04 617.06l6.14 3.63v7.26l-6.14 3.63l-6.14 -3.63v-7.26z"/>
<path fill="#3070b2" stroke="#3070b2" d="M330.39 148.53l6.14 3.63v7.26l-6.14 3.63l-6.14 -3.63v-7.26zM367.23 148.53l6.14 3.63v7.26l-6.14 3.63l-6.14 -3.63v-7.26zM391.78 148.53l6.14 3.63v7.26l-6.14 3.63l-6.14 -3.63v-7.26zM416.34 148.53l6.14 3.63v7.26l-6.14 3.63l-6.14 -3.63v-7.26zM453.17 148.53l6.14 3.63v7.26l-6.14 3.63l-6.14 -3.63v-7.26zM226.04 159.43l6.14 3.63v7.26l-6.14 3.63l-6.14 -3.63v-7.26zM410.20 159.43l6.14 3.63v7.26l-6.14 3.63l-6.14 -3.63v-7.26zM483.86 159.43l6.14 3.63v7.26l-6.14 3.63l-6.14 -3.63v-7.26zM201.48 203.01l6.14 3.63v7.26l-6.14 3.63l-6.14 -3.63v-7.26zM514.56 213.91l6.14 3.63v7.26l-6.14 3.63l-6.14 -3.63v-7.26zM176.93 224.80l6.14 3.63v7.26l-6.14 3.63l-6.14 -3.63v-7.26zM520.70 224.80l6.14 3.63v7.26l-6.14 3.63l-6.14 -3.63v-7.26zM545.25 333.76l6.14 3.63v7.26l-6.14 3.63l-6.14 -3.63v-7.26z"/>
<path fill="#3977b5" stroke="#3977b5" d="M342.67 148.53l6.14 3.63v7.26l-6.14 3.63l-6.14 -3.63v-7.26zM354.95 148.53l6.14 3.63v7.26l-6.14 3.63l-6.14 -3.63v-7.26zM422.48 159.43l6.14 3.63v7.26l-6.14 3.63l-6.14 -3.63v-7.26zM232.18 170.32l6.14 3.63v7.26l-6.14 3.63l-6.14 -3.63v-7.26zM330.39 170.32l6.14 3.63v7.26l-6.14 3.63l-6.14 -3.63v-7.26zM416.34 170.32l6.14 3.63v7.26l-6.14 3.63l-6.14 -3.63v-7.26zM453.17 170.32l6.14 3.63v7.26l-6.14 3.63l-6.14 -3.63v-7.26zM465.45 170.32l6.14 3.63v7.26l-6.14 3.63l-6.14 -3.63v-7.26zM207.62 192.11l6.14 3.63v7.26l-6.14 3.63l-6.14 -3.63v-7.26zM201.48 246.59l6.14 3.63v7.26l-6.14 3.63l-6.14 -3.63v-7.26zM526.83 257.49l6.14 3.63v7.26l-6.14 3.63l-6.14 -3.63v-7.26zM532.97 268.39l6.14 3.63v7.26l-6.14 3.63l-6.14 -3.63v-7.26z"/>
<path fill="#3f7bb7" stroke="#3f7bb7" d="M379.50 148.53l6.14 3.63v7.26l-6.14 3.63l-6.14 -3.63v-7.26zM299.70 159.43l6.14 3.63v7.26l-6.14 3.63l-6.14 -3.63v-7.26zM311.98 159.43l6.14 3.63v7.26l-6.14 3.63l-6.14 -3.63v-7.26zM324.26 159.43l6.14 3.63v7.26l-6.14 3.63l-6.14 -3.63v-7.26zM336.53 159.43l6.14 3.63v7.26l-6.14 3.63l-6.14 -3.63v-7.26zM361.09 159.43l6.14 3.63v7.26l-6.14 3.63l-6.14 -3.63v-7.26zM373.37 159.43l6.14 3.63v7.26l-6.14 3.63l-6.14 -3.63v-7.26zM385.64 159.43l6.14 3.63v7.26l-6.14 3.63l-6.14 -3.63v-7.26zM440.89 170.32l6.14 3.63v7.26l-6.14 3.63l-6.14 -3.63v-7.26zM477.72 170.32l6.14 3.63v7.26l-6.14 3.63l-6.14 -3.63v-7.26zM459.31 181.22l6.14 3.63v7.26l-6.14 3.63l-6.14 -3.63v-7.26zM219.90 192.11l6.14 3.63v7.26l-6.14 3.63l-6.14 -3.63v-7.26zM502.28 192.11l6.14 3.63v7.26l-6.14 3.63l-6.14 -3.63v-7.26zM226.04 203.01l6.14 3.63v7.26l-6.14 3.63l-6.14 -3.63v-7.26zM219.90 213.91l6.14 3.63v7.26l-6.14 3.63l-6.14 -3.63v-7.26z"/>
<path fill="#2a6caf" stroke="#2a6caf" d="M404.06 148.53l6.14 3.63v7.26l-6.14 3.63l-6.14 -3.63v-7.26zM496.14 159.43l6.14 3.63v7.26l-6.14 3.63l-6.14 -3.63v-7.26zM490.00 170.32l6.14 3.63v7.26l-6.14 3.63l-6.14 -3.63v-7.26zM502.28 170.32l6.14 3.63v7.26l-6.14 3.63l-6.14 -3.63v-7.26zM496.14 181.22l6.14 3.63v7.26l-6.14 3.63l-6.14 -3.63v-7.26zM189.20 203.01l6.14 3.63v7.26l-6.14 3.63l-6.14 -3.63v-7.26zM526.83 213.91l6.14 3.63v7.26l-6.14 3.63l-6.14 -3.63v-7.26zM532.97 224.80l6.14 3.63v7.26l-6.14 3.63l-6.14 -3.63v-7.26zM551.39 322.87l6.14 3.63v7.26l-6.14 3.63l-6.14 -3.63v-7.26zM164.65 333.76l6.14 3.63v7.26l-6.14 3.63l-6.14 -3.63v-7.26zM164.65 355.55l6.14 3.63v7.26l-6.14 3.63l-6.14 -3.63v-7.26zM164.65 377.35l6.14 3.63v7.26l-6.14 3.63l-6.14 -3.63v-7.26zM164.65 399.14l6.14 3.63v7.26l-6.14 3.63l-6.14 -3.63v-7.26zM551.39 453.62l6.14 3.63v7.26l-6.14 3.63l-6.14 -3.63v-7.26zM551.39 475.41l6.14 3.63v7.26l-6.14 3.63l-6.14 -3.63v-7.26zM551.39 497.20l6.14 3.63v7.26l-6.14 3.63l-6.14 -3.63v-7.26zM164.65 529.89l6.14 3.63v7.26l-6.14 3.63l-6.14 -3.63v-7.26zM545.25 551.68l6.14 3.63v7.26l-6.14 3.63l-6.14 -3.63v-7.26zM520.70 595.27l6.14 3.63v7.26l-6.14 3.63l-6.14 -3.63v-7.26zM514.56 606.16l6.14 3.63v7.26l-6.14 3.63l-6.14 -3.63v-7.26zM250.59 638.85l6.14 3.63v7.26l-6.14 3.63l-6.14 -3.63v-7.26zM447.03 638.85l6.14 3.63v7.26l-6.14 3.63l-6.14 -3.63v-7.26zM459.31 638.85l6.14 3.63v7.26l-6.14 3.63l-6.14 -3.63v-7.26z"/>
<path fill="#276aae" stroke="#276aae" d="M428.62 148.53l6.14 3.63v7.26l-6.14 3.63l-6.14 -3.63v-7.26zM465.45 148.53l6.14 3.63v7.26l-6.14 3.63l-6.14 -3.63v-7.26zM477.72 148.53l6.14 3.63v7.26l-6.14 3.63l-6.14 -3.63v-7.26zM471.59 159.43l6.14 3.63v7.26l-6.14 3.63l-6.14 -3.63v-7.26zM508.42 181.22l6.14 3.63v7.26l-6.14 3.63l-6.14 -3.63v-7.26zM526.83 192.11l6.14 3.63v7.26l-6.14 3.63l-6.14 -3.63v-7.26zM508.42 203.01l6.14 3.63v7.26l-6.14 3.63l-6.14 -3.63v-7.26zM532.97 203.01l6.14 3.63v7.26l-6.14 3.63l-6.14 -3.63v-7.26zM539.11 213.91l6.14 3.63v7.26l-6.14 3.63l-6.14 -3.63v-7.26zM164.65 268.39l6.14 3.63v7.26l-6.14 3.63l-6.14 -3.63v-7.26zM545.25 268.39l6.14 3.63v7.26l-6.14 3.63l-6.14 -3.63v-7.26zM164.65 290.18l6.14 3.63v7.26l-6.14 3.63l-6.14 -3.63v-7.26zM158.51 344.66l6.14 3.63v7.26l-6.14 3.63l-6.14 -3.63v-7.26zM158.51 366.45l6.14 3.63v7.26l-6.14 3.63l-6.14 -3.63v-7.26zM557.53 377.35l6.14 3.63v7.26l-6.14 3.63l-6.14 -3.63v-7.26zM158.51 388.24l6.14 3.63v7.26l-6.14 3.63l-6.14 -3.63v-7.26zM557.53 399.14l6.14 3.63v7.26l-6.14 3.63l-6.14 -3.63v-7.26zM158.51 410.03l6.14 3.63v7.26l-6.14 3.63l-6.14 -3.63v-7.26zM557.53 420.93l6.14 3.63v7.26l-6.14 3.63l-6.14 -3.63v-7.26zM158.51 431.83l6.14 3.63v7.26l-6.14 3.63l-6.14 -3.63v-7.26zM557.53 442.72l6.14 3.63v7.26l-6.14 3.63l-6.14 -3.63v-7.26zM158.51 453.62l6.14 3.63v7.26l-6.14 3.63l-6.14 -3.63v-7.26zM557.53 464.51l6.14 3.63v7.26l-6.14 3.63l-6.14 -3.63v-7.26zM158.51 475.41l6.14 3.63v7.26l-6.14 3.63l-6.14 -3.63v-7.26zM557.53 486.31l6.14 3.63v7.26l-6.14 3.63l-6.14 -3.63v-7.26zM158.51 497.20l6.14 3.63v7.26l-6.14 3.63l-6.14 -3.63v-7.26zM557.53 508.10l6.14 3.63v7.26l-6.14 3.63l-6.14 -3.63v-7.26zM158.51 519.00l6.14 3.63v7.26l-6.14 3.63l-6.14 -3.63v-7.26zM158.51 540.79l6.14 3.63v7.26l-6.14 3.63l-6.14 -3.63v-7.26zM539.11 584.37l6.14 3.63v7.26l-6.14 3.63l-6.14 -3.63v-7.26zM207.62 627.96l6.14 3.63v7.26l-6.14 3.63l-6.14 -3.63v-7.26z"/>
<path fill="#2e6fb1" stroke="#2e6fb1" d="M440.89 148.53l6.14 3.63v7.26l-6.14 3.63l-6.14 -3.63v-7.26zM183.06 235.70l6.14 3.63v7.26l-6.14 3.63l-6.14 -3.63v-7.26zM526.83 235.70l6.14 3.63v7.26l-6.14 3.63l-6.14 -3.63v-7.26zM539.11 257.49l6.14 3.63v7.26l-6.14 3.63l-6.14 -3.63v-7.26zM176.93 268.39l6.14 3.63v7.26l-6.14 3.63l-6.14 -3.63v-7.26zM176.93 290.18l6.14 3.63v7.26l-6.14 3.63l-6.14 -3.63v-7.26zM176.93 311.97l6.14 3.63v7.26l-6.14 3.63l-6.14 -3.63v-7.26zM170.79 366.45l6.14 3.63v7.26l-6.14 3.63l-6.14 -3.63v-7.26zM176.93 377.35l6.14 3.63v7.26l-6.14 3.63l-6.14 -3.63v-7.26zM170.79 388.24l6.14 3.63v7.26l-6.14 3.63l-6.14 -3.63v-7.26zM170.79 410.03l6.14 3.63v7.26l-6.14 3.63l-6.14 -3.63v-7.26zM545.25 486.31l6.14 3.63v7.26l-6.14 3.63l-6.14 -3.63v-7.26zM170.79 497.20l6.14 3.63v7.26l-6.14 3.63l-6.14 -3.63v-7.26zM545.25 508.10l6.14 3.63v7.26l-6.14 3.63l-6.14 -3.63v-7.26zM170.79 519.00l6.14 3.63v7.26l-6.14 3.63l-6.14 -3.63v-7.26zM170.79 540.79l6.14 3.63v7.26l-6.14 3.63l-6.14 -3.63v-7.26zM213.76 617.06l6.14 3.63v7.26l-6.14 3.63l-6.14 -3.63v-7.26zM477.72 627.96l6.14 3.63v7.26l-6.14 3.63l-6.14 -3.63v-7.26z"/>
<path fill="#2367ad" stroke="#2367ad" d="M514.56 148.53l6.14 3.63v7.26l-6.14 3.63l-6.14 -3.63v-7.26zM520.70 159.43l6.14 3.63v7.26l-6.14 3.63l-6.14 -3.63v-7.26zM526.83 170.32l6.14 3.63v7.26l-6.14 3.63l-6.14 -3.63v-7.26zM532.97 181.22l6.14 3.63v7.26l-6.14 3.63l-6.14 -3.63v-7.26zM170.79 192.11l6.14 3.63v7.26l-6.14 3.63l-6.14 -3.63v-7.26zM539.11 192.11l6.14 3.63v7.26l-6.14 3.63l-6.14 -3.63v-7.26zM164.65 203.01l6.14 3.63v7.26l-6.14 3.63l-6.14 -3.63v-7.26zM158.51 213.91l6.14 3.63v7.26l-6.14 3.63l-6.14 -3.63v-7.26zM152.37 224.80l6.14 3.63v7.26l-6.14 3.63l-6.14 -3.63v-7.26zM557.53 246.59l6.14 3.63v7.26l-6.14 3.63l-6.14 -3.63v-7.26zM146.23 257.49l6.14 3.63v7.26l-6.14 3.63l-6.14 -3.63v-7.26zM563.67 257.49l6.14 3.63v7.26l-6.14 3.63l-6.14 -3.63v-7.26zM146.23 279.28l6.14 3.63v7.26l-6.14 3.63l-6.14 -3.63v-7.26zM563.67 279.28l6.14 3.63v7.26l-6.14 3.63l-6.14 -3.63v-7.26zM569.81 290.18l6.14 3.63v7.26l-6.14 3.63l-6.14 -3.63v-7.26zM146.23 301.07l6.14 3.63v7.26l-6.14 3.63l-6.14 -3.63v-7.26zM575.94 322.87l6.14 3.63v7.26l-6.14 3.63l-6.14 -3.63v-7.26zM140.09 333.76l6.14 3.63v7.26l-6.14 3.63l-6.14 -3.63v-7.26zM575.94 344.66l6.14 3.63v7.26l-6.14 3.63l-6.14 -3.63v-7.26zM140.09 355.55l6.14 3.63v7.26l-6.14 3.63l-6.14 -3.63v-7.26zM575.94 366.45l6.14 3.63v7.26l-6.14 3.63l-6.14 -3.63v-7.26zM140.09 377.35l6.14 3.63v7.26l-6.14 3.63l-6.14 -3.63v-7.26zM575.94 388.24l6.14 3.63v7.26l-6.14 3.63l-6.14 -3.63v-7.26zM140.09 399.14l6.14 3.63v7.26l-6.14 3.63l-6.14 -3.63v-7.26zM575.94 410.03l6.14 3.63v7.26l-6.14 3.63l-6.14 -3.63v-7.26zM140.09 420.93l6.14 3.63v7.26l-6.14 3.63l-6.14 -3.63v-7.26zM575.94 431.83l6.14 3.63v7.26l-6.14 3.63l-6.14 -3.63v-7.26zM140.09 442.72l6.14 3.63v7.26l-6.14 3.63l-6.14 -3.63v-7.26zM575.94 453.62l6.14 3.63v7.26l-6.14 3.63l-6.14 -3.63v-7.26zM140.09 464.51l6.14 3.63v7.26l-6.14 3.63l-6.14 -3.63v-7.26zM575.94 475.41l6.14 3.63v7.26l-6.14 3.63l-6.14 -3.63v-7.26zM140.09 486.31l6.14 3.63v7.26l-6.14 3.63l-6.14 -3.63v-7.26zM575.94 497.20l6.14 3.63v7.26l-6.14 3.63l-6.14 -3.63v-7.26zM140.09 508.10l6.14 3.63v7.26l-6.14 3.63l-6.14 -3.63v-7.26zM575.94 519.00l6.14 3.63v7.26l-6.14 3.63l-6.14 -3.63v-7.26zM140.09 529.89l6.14 3.63v7.26l-6.14 3.63l-6.14 -3.63v-7.26zM569.81 551.68l6.14 3.63v7.26l-6.14 3.63l-6.14 -3.63v-7.26zM146.23 562.58l6.14 3.63v7.26l-6.14 3.63l-6.14 -3.63v-7.26zM563.67 562.58l6.14 3.63v7.26l-6.14 3.63l-6.14 -3.63v-7.26zM152.37 573.47l6.14 3.63v7.26l-6.14 3.63l-6.14 -3.63v-7.26zM557.53 573.47l6.14 3.63v7.26l-6.14 3.63l-6.14 -3.63v-7.26zM164.65 595.27l6.14 3.63v7.26l-6.14 3.63l-6.14 -3.63v-7.26zM545.25 595.27l6.14 3.63v7.26l-6.14 3.63l-6.14 -3.63v-7.26zM170.79 606.16l6.14 3.63v7.26l-6.14 3.63l-6.14 -3.63v-7.26zM539.11 606.16l6.14 3.63v7.26l-6.14 3.63l-6.14 -3.63v-7.26zM176.93 617.06l6.14 3.63v7.26l-6.14 3.63l-6.14 -3.63v-7.26zM532.97 617.06l6.14 3.63v7.26l-6.14 3.63l-6.14 -3.63v-7.26zM183.06 627.96l6.14 3.63v7.26l-6.14 3.63l-6.14 -3.63v-7.26zM526.83 627.96l6.14 3.63v7.26l-6.14 3.63l-6.14 -3.63v-7.26zM207.62 649.75l6.14 3.63v7.26l-6.14 3.63l-6.14 -3.63v-7.26zM502.28 649.75l6.14 3.63v7.26l-6.14 3.63l-6.14 -3.63v-7.26z"/>
<path fill="#266aae" stroke="#266aae" d="M201.48 159.43l6.14 3.63v7.26l-6.14 3.63l-6.14 -3.63v-7.26zM195.34 170.32l6.14 3.63v7.26l-6.14 3.63l-6.14 -3.63v-7.26zM164.65 246.59l6.14 3.63v7.26l-6.14 3.63l-6.14 -3.63v-7.26zM557.53 311.97l6.14 3.63v7.26l-6.14 3.63l-6.14 -3.63v-7.26zM158.51 322.87l6.14 3.63v7.26l-6.14 3.63l-6.14 -3.63v-7.26zM170.79 584.37l6.14 3.63v7.26l-6.14 3.63l-6.14 -3.63v-7.26z"/>
<path fill="#2b6db0" stroke="#2b6db0" d="M213.76 159.43l6.14 3.63v7.26l-6.14 3.63l-6.14 -3.63v-7.26zM207.62 170.32l6.14 3.63v7.26l-6.14 3.63l-6.14 -3.63v-7.26zM201.48 181.22l6.14 3.63v7.26l-6.14 3.63l-6.14 -3.63v-7.26zM195.34 192.11l6.14 3.63v7.26l-6.14 3.63l-6.14 -3.63v-7.26zM176.93 246.59l6.14 3.63v7.26l-6.14 3.63l-6.14 -3.63v-7.26zM170.79 279.28l6.14 3.63v7.26l-6.14 3.63l-6.14 -3.63v-7.26zM170.79 301.07l6.14 3.63v7.26l-6.14 3.63l-6.14 -3.63v-7.26zM170.79 322.87l6.14 3.63v7.26l-6.14 3.63l-6.14 -3.63v-7.26zM170.79 344.66l6.14 3.63v7.26l-6.14 3.63l-6.14 -3.63v-7.26zM551.39 344.66l6.14 3.63v7.26l-6.14 3.63l-6.14 -3.63v-7.26zM551.39 366.45l6.14 3.63v7.26l-6.14 3.63l-6.14 -3.63v-7.26zM551.39 388.24l6.14 3.63v7.26l-6.14 3.63l-6.14 -3.63v-7.26zM170.79 431.83l6.14 3.63v7.26l-6.14 3.63l-6.14 -3.63v-7.26zM164.65 486.31l6.14 3.63v7.26l-6.14 3.63l-6.14 -3.63v-7.26zM170.79 562.58l6.14 3.63v7.26l-6.14 3.63l-6.14 -3.63v-7.26zM496.14 595.27l6.14 3.63v7.26l-6.14 3.63l-6.14 -3.63v-7.26zM195.34 606.16l6.14 3.63v7.26l-6.14 3.63l-6.14 -3.63v-7.26zM477.72 606.16l6.14 3.63v7.26l-6.14 3.63l-6.14 -3.63v-7.26zM219.90 627.96l6.14 3.63v7.26l-6.14 3.63l-6.14 -3.63v-7.26zM490.00 627.96l6.14 3.63v7.26l-6.14 3.63l-6.14 -3.63v-7.26zM262.87 638.85l6.14 3.63v7.26l-6.14 3.63l-6.14 -3.63v-7.26zM275.15 638.85l6.14 3.63v7.26l-6.14 3.63l-6.14 -3.63v-7.26zM287.42 638.85l6.14 3.63v7.26l-6.14 3.63l-6.14 -3.63v-7.26zM299.70 638.85l6.14 3.63v7.26l-6.14 3.63l-6.14 -3.63v-7.26zM311.98 638.85l6.14 3.63v7.26l-6.14 3.63l-6.14 -3.63v-7.26zM324.26 638.85l6.14 3.63v7.26l-6.14 3.63l-6.14 -3.63v-7.26zM336.53 638.85l6.14 3.63v7.26l-6.14 3.63l-6.14 -3.63v-7.26zM348.81 638.85l6.14 3.63v7.26l-6.14 3.63l-6.14 -3.63v-7.26zM361.09 638.85l6.14 3.63v7.26l-6.14 3.63l-6.14 -3.63v-7.26zM373.37 638.85l6.14 3.63v7.26l-6.14 3.63l-6.14 -3.63v-7.26zM385.64 638.85l6.14 3.63v7.26l-6.14 3.63l-6.14 -3.63v-7.26zM397.92 638.85l6.14 3.63v7.26l-6.14 3.63l-6.14 -3.63v-7.26zM410.20 638.85l6.14 3.63v7.26l-6.14 3.63l-6.14 -3.63v-7.26zM422.48 638.85l6.14 3.63v7.26l-6.14 3.63l-6.14 -3.63v-7.26zM434.75 638.85l6.14 3.63v7.26l-6.14 3.63l-6.14 -3.63v-7.26z"/>
<path fill="#3573b3" stroke="#3573b3" d="M238.31 159.43l6.14 3.63v7.26l-6.14 3.63l-6.14 -3.63v-7.26z"/>
<path fill="#3876b5" stroke="#3876b5" d="M262.87 159.43l6.14 3.63v7.26l-6.14 3.63l-6.14 -3.63v-7.26zM275.15 159.43l6.14 3.63v7.26l-6.14 3.63l-6.14 -3.63v-7.26zM189.20 573.47l6.14 3.63v7.26l-6.14 3.63l-6.14 -3.63v-7.26z"/>
<path fill="#3c79b6" stroke="#3c79b6" d="M287.42 159.43l6.14 3.63v7.26l-6.14 3.63l-6.14 -3.63v-7.26zM434.75 159.43l6.14 3.63v7.26l-6.14 3.63l-6.14 -3.63v-7.26zM195.34 235.70l6.14 3.63v7.26l-6.14 3.63l-6.14 -3.63v-7.26zM514.56 235.70l6.14 3.63v7.26l-6.14 3.63l-6.14 -3.63v-7.26zM520.70 246.59l6.14 3.63v7.26l-6.14 3.63l-6.14 -3.63v-7.26zM195.34 257.49l6.14 3.63v7.26l-6.14 3.63l-6.14 -3.63v-7.26zM201.48 268.39l6.14 3.63v7.26l-6.14 3.63l-6.14 -3.63v-7.26zM189.20 290.18l6.14 3.63v7.26l-6.14 3.63l-6.14 -3.63v-7.26zM532.97 290.18l6.14 3.63v7.26l-6.14 3.63l-6.14 -3.63v-7.26zM189.20 311.97l6.14 3.63v7.26l-6.14 3.63l-6.14 -3.63v-7.26zM539.11 322.87l6.14 3.63v7.26l-6.14 3.63l-6.14 -3.63v-7.26zM183.06 344.66l6.14 3.63v7.26l-6.14 3.63l-6.14 -3.63v-7.26zM539.11 344.66l6.14 3.63v7.26l-6.14 3.63l-6.14 -3.63v-7.26zM183.06 366.45l6.14 3.63v7.26l-6.14 3.63l-6.14 -3.63v-7.26zM539.11 366.45l6.14 3.63v7.26l-6.14 3.63l-6.14 -3.63v-7.26zM183.06 388.24l6.14 3.63v7.26l-6.14 3.63l-6.14 -3.63v-7.26zM539.11 388.24l6.14 3.63v7.26l-6.14 3.63l-6.14 -3.63v-7.26zM539.11 410.03l6.14 3.63v7.26l-6.14 3.63l-6.14 -3.63v-7.26zM539.11 431.83l6.14 3.63v7.26l-6.14 3.63l-6.14 -3.63v-7.26zM176.93 464.51l6.14 3.63v7.26l-6.14 3.63l-6.14 -3.63v-7.26zM539.11 475.41l6.14 3.63v7.26l-6.14 3.63l-6.14 -3.63v-7.26zM539.11 497.20l6.14 3.63v7.26l-6.14 3.63l-6.14 -3.63v-7.26zM532.97 529.89l6.14 3.63v7.26l-6.14 3.63l-6.14 -3.63v-7.26zM183.06 540.79l6.14 3.63v7.26l-6.14 3.63l-6.14 -3.63v-7.26zM526.83 540.79l6.14 3.63v7.26l-6.14 3.63l-6.14 -3.63v-7.26zM520.70 551.68l6.14 3.63v7.26l-6.14 3.63l-6.14 -3.63v-7.26zM514.56 562.58l6.14 3.63v7.26l-6.14 3.63l-6.14 -3.63v-7.26z"/>
<path fill="#3372b3" stroke="#3372b3" d="M348.81 159.43l6.14 3.63v7.26l-6.14 3.63l-6.14 -3.63v-7.26zM459.31 159.43l6.14 3.63v7.26l-6.14 3.63l-6.14 -3.63v-7.26zM213.76 181.22l6.14 3.63v7.26l-6.14 3.63l-6.14 -3.63v-7.26zM508.42 595.27l6.14 3.63v7.26l-6.14 3.63l-6.14 -3.63v-7.26zM256.73 627.96l6.14 3.63v7.26l-6.14 3.63l-6.14 -3.63v-7.26zM440.89 627.96l6.14 3.63v7.26l-6.14 3.63l-6.14 -3.63v-7.26z"/>
<path fill="#467fba" stroke="#467fba" d="M397.92 159.43l6.14 3.63v7.26l-6.14 3.63l-6.14 -3.63v-7.26zM428.62 170.32l6.14 3.63v7.26l-6.14 3.63l-6.14 -3.63v-7.26zM490.00 192.11l6.14 3.63v7.26l-6.14 3.63l-6.14 -3.63v-7.26zM496.14 203.01l6.14 3.63v7.26l-6.14 3.63l-6.14 -3.63v-7.26zM447.03 617.06l6.14 3.63v7.26l-6.14 3.63l-6.14 -3.63v-7.26z"/>
<path fill="#3674b4" stroke="#3674b4" d="M447.03 159.43l6.14 3.63v7.26l-6.14 3.63l-6.14 -3.63v-7.26zM391.78 170.32l6.14 3.63v7.26l-6.14 3.63l-6.14 -3.63v-7.26zM213.76 203.01l6.14 3.63v7.26l-6.14 3.63l-6.14 -3.63v-7.26zM207.62 213.91l6.14 3.63v7.26l-6.14 3.63l-6.14 -3.63v-7.26zM189.20 224.80l6.14 3.63v7.26l-6.14 3.63l-6.14 -3.63v-7.26z"/>
<path fill="#3e7ab7" stroke="#3e7ab7" d="M244.45 170.32l6.14 3.63v7.26l-6.14 3.63l-6.14 -3.63v-7.26zM226.04 181.22l6.14 3.63v7.26l-6.14 3.63l-6.14 -3.63v-7.26zM471.59 617.06l6.14 3.63v7.26l-6.14 3.63l-6.14 -3.63v-7.26z"/>
<path fill="#407bb8" stroke="#407bb8" d="M256.73 170.32l6.14 3.63v7.26l-6.14 3.63l-6.14 -3.63v-7.26zM348.81 617.06l6.14 3.63v7.26l-6.14 3.63l-6.14 -3.63v-7.26zM397.92 617.06l6.14 3.63v7.26l-6.14 3.63l-6.14 -3.63v-7.26zM410.20 617.06l6.14 3.63v7.26l-6.14 3.63l-6.14 -3.63v-7.26z"/>
<path fill="#417cb8" stroke="#417cb8" d="M269.01 170.32l6.14 3.63v7.26l-6.14 3.63l-6.14 -3.63v-7.26zM281.28 170.32l6.14 3.63v7.26l-6.14 3.63l-6.14 -3.63v-7.26z"/>
<path fill="#4d84bc" stroke="#4d84bc" d="M293.56 170.32l6.14 3.63v7.26l-6.14 3.63l-6.14 -3.63v-7.26zM305.84 170.32l6.14 3.63v7.26l-6.14 3.63l-6.14 -3.63v-7.26zM318.12 170.32l6.14 3.63v7.26l-6.14 3.63l-6.14 -3.63v-7.26zM207.62 257.49l6.14 3.63v7.26l-6.14 3.63l-6.14 -3.63v-7.26zM195.34 301.07l6.14 3.63v7.26l-6.14 3.63l-6.14 -3.63v-7.26zM195.34 322.87l6.14 3.63v7.26l-6.14 3.63l-6.14 -3.63v-7.26zM532.97 355.55l6.14 3.63v7.26l-6.14 3.63l-6.14 -3.63v-7.26zM189.20 377.35l6.14 3.63v7.26l-6.14 3.63l-6.14 -3.63v-7.26zM532.97 377.35l6.14 3.63v7.26l-6.14 3.63l-6.14 -3.63v-7.26zM189.20 399.14l6.14 3.63v7.26l-6.14 3.63l-6.14 -3.63v-7.26zM532.97 399.14l6.14 3.63v7.26l-6.14 3.63l-6.14 -3.63v-7.26zM189.20 420.93l6.14 3.63v7.26l-6.14 3.63l-6.14 -3.63v-7.26zM532.97 442.72l6.14 3.63v7.26l-6.14 3.63l-6.14 -3.63v-7.26zM183.06 453.62l6.14 3.63v7.26l-6.14 3.63l-6.14 -3.63v-7.26zM532.97 464.51l6.14 3.63v7.26l-6.14 3.63l-6.14 -3.63v-7.26zM526.83 519.00l6.14 3.63v7.26l-6.14 3.63l-6.14 -3.63v-7.26zM189.20 529.89l6.14 3.63v7.26l-6.14 3.63l-6.14 -3.63v-7.26zM195.34 562.58l6.14 3.63v7.26l-6.14 3.63l-6.14 -3.63v-7.26z"/>
<path fill="#588cc1" stroke="#588cc1" d="M342.67 170.32l6.14 3.63v7.26l-6.14 3.63l-6.14 -3.63v-7.26zM367.23 170.32l6.14 3.63v7.26l-6.14 3.63l-6.14 -3.63v-7.26zM404.06 170.32l6.14 3.63v7.26l-6.14 3.63l-6.14 -3.63v-7.26zM287.42 181.22l6.14 3.63v7.26l-6.14 3.63l-6.14 -3.63v-7.26zM422.48 181.22l6.14 3.63v7.26l-6.14 3.63l-6.14 -3.63v-7.26zM244.45 192.11l6.14 3.63v7.26l-6.14 3.63l-6.14 -3.63v-7.26zM477.72 192.11l6.14 3.63v7.26l-6.14 3.63l-6.14 -3.63v-7.26zM490.00 213.91l6.14 3.63v7.26l-6.14 3.63l-6.14 -3.63v-7.26zM226.04 224.80l6.14 3.63v7.26l-6.14 3.63l-6.14 -3.63v-7.26z"/>
<path fill="#5187be" stroke="#5187be" d="M354.95 170.32l6.14 3.63v7.26l-6.14 3.63l-6.14 -3.63v-7.26zM379.50 170.32l6.14 3.63v7.26l-6.14 3.63l-6.14 -3.63v-7.26zM434.75 181.22l6.14 3.63v7.26l-6.14 3.63l-6.14 -3.63v-7.26zM471.59 181.22l6.14 3.63v7.26l-6.14 3.63l-6.14 -3.63v-7.26zM483.86 203.01l6.14 3.63v7.26l-6.14 3.63l-6.14 -3.63v-7.26zM232.18 213.91l6.14 3.63v7.26l-6.14 3.63l-6.14 -3.63v-7.26zM213.76 246.59l6.14 3.63v7.26l-6.14 3.63l-6.14 -3.63v-7.26zM447.03 595.27l6.14 3.63v7.26l-6.14 3.63l-6.14 -3.63v-7.26zM269.01 606.16l6.14 3.63v7.26l-6.14 3.63l-6.14 -3.63v-7.26zM361.09 617.06l6.14 3.63v7.26l-6.14 3.63l-6.14 -3.63v-7.26zM373.37 617.06l6.14 3.63v7.26l-6.14 3.63l-6.14 -3.63v-7.26zM385.64 617.06l6.14 3.63v7.26l-6.14 3.63l-6.14 -3.63v-7.26z"/>
<path fill="#2368ad" stroke="#2368ad" d="M176.93 181.22l6.14 3.63v7.26l-6.14 3.63l-6.14 -3.63v-7.26zM152.37 246.59l6.14 3.63v7.26l-6.14 3.63l-6.14 -3.63v-7.26zM152.37 268.39l6.14 3.63v7.26l-6.14 3.63l-6.14 -3.63v-7.26zM569.81 311.97l6.14 3.63v7.26l-6.14 3.63l-6.14 -3.63v-7.26zM146.23 322.87l6.14 3.63v7.26l-6.14 3.63l-6.14 -3.63v-7.26zM569.81 529.89l6.14 3.63v7.26l-6.14 3.63l-6.14 -3.63v-7.26zM158.51 584.37l6.14 3.63v7.26l-6.14 3.63l-6.14 -3.63v-7.26zM201.48 638.85l6.14 3.63v7.26l-6.14 3.63l-6.14 -3.63v-7.26z"/>
<path fill="#4780ba" stroke="#4780ba" d="M238.31 181.22l6.14 3.63v7.26l-6.14 3.63l-6.14 -3.63v-7.26zM262.87 617.06l6.14 3.63v7.26l-6.14 3.63l-6.14 -3.63v-7.26zM434.75 617.06l6.14 3.63v7.26l-6.14 3.63l-6.14 -3.63v-7.26z"/>
<path fill="#4c84bc" stroke="#4c84bc" d="M250.59 181.22l6.14 3.63v7.26l-6.14 3.63l-6.14 -3.63v-7.26z"/>
<path fill="#4e85bd" stroke="#4e85bd" d="M262.87 181.22l6.14 3.63v7.26l-6.14 3.63l-6.14 -3.63v-7.26z"/>
<path fill="#4f86bd" stroke="#4f86bd" d="M275.15 181.22l6.14 3.63v7.26l-6.14 3.63l-6.14 -3.63v-7.26z"/>
<path fill="#6091c3" stroke="#6091c3" d="M299.70 181.22l6.14 3.63v7.26l-6.14 3.63l-6.14 -3.63v-7.26zM311.98 181.22l6.14 3.63v7.26l-6.14 3.63l-6.14 -3.63v-7.26z"/>
<path fill="#6494c5" stroke="#6494c5" d="M324.26 181.22l6.14 3.63v7.26l-6.14 3.63l-6.14 -3.63v-7.26zM361.09 181.22l6.14 3.63v7.26l-6.14 3.63l-6.14 -3.63v-7.26zM385.64 181.22l6.14 3.63v7.26l-6.14 3.63l-6.14 -3.63v-7.26zM397.92 181.22l6.14 3.63v7.26l-6.14 3.63l-6.14 -3.63v-7.26zM256.73 192.11l6.14 3.63v7.26l-6.14 3.63l-6.14 -3.63v-7.26zM465.45 192.11l6.14 3.63v7.26l-6.14 3.63l-6.14 -3.63v-7.26zM250.59 203.01l6.14 3.63v7.26l-6.14 3.63l-6.14 -3.63v-7.26zM244.45 213.91l6.14 3.63v7.26l-6.14 3.63l-6.14 -3.63v-7.26zM477.72 213.91l6.14 3.63v7.26l-6.14 3.63l-6.14 -3.63v-7.26z"/>
<path fill="#5c8fc2" stroke="#5c8fc2" d="M336.53 181.22l6.14 3.63v7.26l-6.14 3.63l-6.14 -3.63v-7.26zM410.20 181.22l6.14 3.63v7.26l-6.14 3.63l-6.14 -3.63v-7.26z"/>
<path fill="#6c9ac8" stroke="#6c9ac8" d="M348.81 181.22l6.14 3.63v7.26l-6.14 3.63l-6.14 -3.63v-7.26z"/>
<path fill="#8fb2d5" stroke="#8fb2d5" d="M373.37 181.22l6.14 3.63v7.26l-6.14 3.63l-6.14 -3.63v-7.26zM318.12 192.11l6.14 3.63v7.26l-6.14 3.63l-6.14 -3.63v-7.26zM354.95 192.11l6.14 3.63v7.26l-6.14 3.63l-6.14 -3.63v-7.26zM385.64 203.01l6.14 3.63v7.26l-6.14 3.63l-6.14 -3.63v-7.26zM422.48 203.01l6.14 3.63v7.26l-6.14 3.63l-6.14 -3.63v-7.26zM471.59 203.01l6.14 3.63v7.26l-6.14 3.63l-6.14 -3.63v-7.26zM453.17 213.91l6.14 3.63v7.26l-6.14 3.63l-6.14 -3.63v-7.26z"/>
<path fill="#4982bb" stroke="#4982bb" d="M447.03 181.22l6.14 3.63v7.26l-6.14 3.63l-6.14 -3.63v-7.26zM232.18 192.11l6.14 3.63v7.26l-6.14 3.63l-6.14 -3.63v-7.26zM238.31 203.01l6.14 3.63v7.26l-6.14 3.63l-6.14 -3.63v-7.26zM502.28 213.91l6.14 3.63v7.26l-6.14 3.63l-6.14 -3.63v-7.26z"/>
<path fill="#709cca" stroke="#709cca" d="M269.01 192.11l6.14 3.63v7.26l-6.14 3.63l-6.14 -3.63v-7.26zM262.87 203.01l6.14 3.63v7.26l-6.14 3.63l-6.14 -3.63v-7.26z"/>
<path fill="#80a8d0" stroke="#80a8d0" d="M281.28 192.11l6.14 3.63v7.26l-6.14 3.63l-6.14 -3.63v-7.26zM293.56 192.11l6.14 3.63v7.26l-6.14 3.63l-6.14 -3.63v-7.26zM342.67 192.11l6.14 3.63v7.26l-6.14 3.63l-6.14 -3.63v-7.26zM367.23 192.11l6.14 3.63v7.26l-6.14 3.63l-6.14 -3.63v-7.26zM391.78 192.11l6.14 3.63v7.26l-6.14 3.63l-6.14 -3.63v-7.26zM404.06 192.11l6.14 3.63v7.26l-6.14 3.63l-6.14 -3.63v-7.26zM447.03 203.01l6.14 3.63v7.26l-6.14 3.63l-6.14 -3.63v-7.26zM269.01 213.91l6.14 3.63v7.26l-6.14 3.63l-6.14 -3.63v-7.26zM465.45 213.91l6.14 3.63v7.26l-6.14 3.63l-6.14 -3.63v-7.26z"/>
<path fill="#85abd1" stroke="#85abd1" d="M305.84 192.11l6.14 3.63v7.26l-6.14 3.63l-6.14 -3.63v-7.26zM379.50 192.11l6.14 3.63v7.26l-6.14 3.63l-6.14 -3.63v-7.26z"/>
<path fill="#96b6d8" stroke="#96b6d8" d="M330.39 192.11l6.14 3.63v7.26l-6.14 3.63l-6.14 -3.63v-7.26zM471.59 224.80l6.14 3.63v7.26l-6.14 3.63l-6.14 -3.63v-7.26z"/>
<path fill="#78a2cd" stroke="#78a2cd" d="M416.34 192.11l6.14 3.63v7.26l-6.14 3.63l-6.14 -3.63v-7.26zM428.62 192.11l6.14 3.63v7.26l-6.14 3.63l-6.14 -3.63v-7.26zM275.15 203.01l6.14 3.63v7.26l-6.14 3.63l-6.14 -3.63v-7.26zM434.75 203.01l6.14 3.63v7.26l-6.14 3.63l-6.14 -3.63v-7.26zM256.73 213.91l6.14 3.63v7.26l-6.14 3.63l-6.14 -3.63v-7.26zM299.70 595.27l6.14 3.63v7.26l-6.14 3.63l-6.14 -3.63v-7.26z"/>
<path fill="#7ca5ce" stroke="#7ca5ce" d="M440.89 192.11l6.14 3.63v7.26l-6.14 3.63l-6.14 -3.63v-7.26zM238.31 224.80l6.14 3.63v7.26l-6.14 3.63l-6.14 -3.63v-7.26z"/>
<path fill="#729eca" stroke="#729eca" d="M453.17 192.11l6.14 3.63v7.26l-6.14 3.63l-6.14 -3.63v-7.26zM459.31 203.01l6.14 3.63v7.26l-6.14 3.63l-6.14 -3.63v-7.26zM483.86 224.80l6.14 3.63v7.26l-6.14 3.63l-6.14 -3.63v-7.26zM219.90 584.37l6.14 3.63v7.26l-6.14 3.63l-6.14 -3.63v-7.26zM410.20 595.27l6.14 3.63v7.26l-6.14 3.63l-6.14 -3.63v-7.26zM330.39 606.16l6.14 3.63v7.26l-6.14 3.63l-6.14 -3.63v-7.26zM354.95 606.16l6.14 3.63v7.26l-6.14 3.63l-6.14 -3.63v-7.26z"/>
<path fill="#2569ae" stroke="#2569ae" d="M176.93 203.01l6.14 3.63v7.26l-6.14 3.63l-6.14 -3.63v-7.26zM545.25 246.59l6.14 3.63v7.26l-6.14 3.63l-6.14 -3.63v-7.26zM158.51 301.07l6.14 3.63v7.26l-6.14 3.63l-6.14 -3.63v-7.26zM152.37 333.76l6.14 3.63v7.26l-6.14 3.63l-6.14 -3.63v-7.26zM563.67 344.66l6.14 3.63v7.26l-6.14 3.63l-6.14 -3.63v-7.26zM152.37 355.55l6.14 3.63v7.26l-6.14 3.63l-6.14 -3.63v-7.26zM563.67 366.45l6.14 3.63v7.26l-6.14 3.63l-6.14 -3.63v-7.26zM152.37 377.35l6.14 3.63v7.26l-6.14 3.63l-6.14 -3.63v-7.26zM563.67 388.24l6.14 3.63v7.26l-6.14 3.63l-6.14 -3.63v-7.26zM152.37 399.14l6.14 3.63v7.26l-6.14 3.63l-6.14 -3.63v-7.26zM563.67 410.03l6.14 3.63v7.26l-6.14 3.63l-6.14 -3.63v-7.26zM152.37 420.93l6.14 3.63v7.26l-6.14 3.63l-6.14 -3.63v-7.26zM563.67 431.83l6.14 3.63v7.26l-6.14 3.63l-6.14 -3.63v-7.26zM152.37 442.72l6.14 3.63v7.26l-6.14 3.63l-6.14 -3.63v-7.26zM563.67 453.62l6.14 3.63v7.26l-6.14 3.63l-6.14 -3.63v-7.26zM152.37 464.51l6.14 3.63v7.26l-6.14 3.63l-6.14 -3.63v-7.26zM563.67 475.41l6.14 3.63v7.26l-6.14 3.63l-6.14 -3.63v-7.26zM152.37 486.31l6.14 3.63v7.26l-6.14 3.63l-6.14 -3.63v-7.26zM152.37 508.10l6.14 3.63v7.26l-6.14 3.63l-6.14 -3.63v-7.26zM152.37 529.89l6.14 3.63v7.26l-6.14 3.63l-6.14 -3.63v-7.26zM158.51 562.58l6.14 3.63v7.26l-6.14 3.63l-6.14 -3.63v-7.26zM164.65 573.47l6.14 3.63v7.26l-6.14 3.63l-6.14 -3.63v-7.26zM532.97 595.27l6.14 3.63v7.26l-6.14 3.63l-6.14 -3.63v-7.26zM526.83 606.16l6.14 3.63v7.26l-6.14 3.63l-6.14 -3.63v-7.26zM520.70 617.06l6.14 3.63v7.26l-6.14 3.63l-6.14 -3.63v-7.26zM213.76 638.85l6.14 3.63v7.26l-6.14 3.63l-6.14 -3.63v-7.26zM244.45 649.75l6.14 3.63v7.26l-6.14 3.63l-6.14 -3.63v-7.26zM465.45 649.75l6.14 3.63v7.26l-6.14 3.63l-6.14 -3.63v-7.26z"/>
<path fill="#9dbbda" stroke="#9dbbda" d="M287.42 203.01l6.14 3.63v7.26l-6.14 3.63l-6.14 -3.63v-7.26zM299.70 203.01l6.14 3.63v7.26l-6.14 3.63l-6.14 -3.63v-7.26zM324.26 203.01l6.14 3.63v7.26l-6.14 3.63l-6.14 -3.63v-7.26zM348.81 203.01l6.14 3.63v7.26l-6.14 3.63l-6.14 -3.63v-7.26zM361.09 203.01l6.14 3.63v7.26l-6.14 3.63l-6.14 -3.63v-7.26zM281.28 213.91l6.14 3.63v7.26l-6.14 3.63l-6.14 -3.63v-7.26zM219.90 257.49l6.14 3.63v7.26l-6.14 3.63l-6.14 -3.63v-7.26z"/>
<path fill="#a6c2de" stroke="#a6c2de" d="M311.98 203.01l6.14 3.63v7.26l-6.14 3.63l-6.14 -3.63v-7.26zM373.37 203.01l6.14 3.63v7.26l-6.14 3.63l-6.14 -3.63v-7.26zM490.00 235.70l6.14 3.63v7.26l-6.14 3.63l-6.14 -3.63v-7.26zM496.14 246.59l6.14 3.63v7.26l-6.14 3.63l-6.14 -3.63v-7.26zM508.42 290.18l6.14 3.63v7.26l-6.14 3.63l-6.14 -3.63v-7.26zM514.56 344.66l6.14 3.63v7.26l-6.14 3.63l-6.14 -3.63v-7.26zM207.62 366.45l6.14 3.63v7.26l-6.14 3.63l-6.14 -3.63v-7.26zM201.48 420.93l6.14 3.63v7.26l-6.14 3.63l-6.14 -3.63v-7.26zM201.48 442.72l6.14 3.63v7.26l-6.14 3.63l-6.14 -3.63v-7.26zM201.48 464.51l6.14 3.63v7.26l-6.14 3.63l-6.14 -3.63v-7.26zM385.64 595.27l6.14 3.63v7.26l-6.14 3.63l-6.14 -3.63v-7.26z"/>
<path fill="#a1bfdc" stroke="#a1bfdc" d="M336.53 203.01l6.14 3.63v7.26l-6.14 3.63l-6.14 -3.63v-7.26z"/>
<path fill="#acc6e0" stroke="#acc6e0" d="M397.92 203.01l6.14 3.63v7.26l-6.14 3.63l-6.14 -3.63v-7.26zM404.06 213.91l6.14 3.63v7.26l-6.14 3.63l-6.14 -3.63v-7.26zM416.34 213.91l6.14 3.63v7.26l-6.14 3.63l-6.14 -3.63v-7.26zM428.62 213.91l6.14 3.63v7.26l-6.14 3.63l-6.14 -3.63v-7.26z"/>
<path fill="#c2d5e8" stroke="#c2d5e8" d="M410.20 203.01l6.14 3.63v7.26l-6.14 3.63l-6.14 -3.63v-7.26zM305.84 213.91l6.14 3.63v7.26l-6.14 3.63l-6.14 -3.63v-7.26z"/>
<path fill="#2267ad" stroke="#2267ad" d="M545.25 203.01l6.14 3.63v7.26l-6.14 3.63l-6.14 -3.63v-7.26zM146.23 235.70l6.14 3.63v7.26l-6.14 3.63l-6.14 -3.63v-7.26zM140.09 311.97l6.14 3.63v7.26l-6.14 3.63l-6.14 -3.63v-7.26zM140.09 551.68l6.14 3.63v7.26l-6.14 3.63l-6.14 -3.63v-7.26zM520.70 638.85l6.14 3.63v7.26l-6.14 3.63l-6.14 -3.63v-7.26z"/>
<path fill="#2568ad" stroke="#2568ad" d="M170.79 213.91l6.14 3.63v7.26l-6.14 3.63l-6.14 -3.63v-7.26zM158.51 257.49l6.14 3.63v7.26l-6.14 3.63l-6.14 -3.63v-7.26zM551.39 257.49l6.14 3.63v7.26l-6.14 3.63l-6.14 -3.63v-7.26zM514.56 627.96l6.14 3.63v7.26l-6.14 3.63l-6.14 -3.63v-7.26z"/>
<path fill="#296baf" stroke="#296baf" d="M183.06 213.91l6.14 3.63v7.26l-6.14 3.63l-6.14 -3.63v-7.26zM170.79 235.70l6.14 3.63v7.26l-6.14 3.63l-6.14 -3.63v-7.26zM539.11 235.70l6.14 3.63v7.26l-6.14 3.63l-6.14 -3.63v-7.26zM170.79 257.49l6.14 3.63v7.26l-6.14 3.63l-6.14 -3.63v-7.26zM189.20 595.27l6.14 3.63v7.26l-6.14 3.63l-6.14 -3.63v-7.26zM201.48 617.06l6.14 3.63v7.26l-6.14 3.63l-6.14 -3.63v-7.26z"/>
<path fill="#3271b2" stroke="#3271b2" d="M195.34 213.91l6.14 3.63v7.26l-6.14 3.63l-6.14 -3.63v-7.26zM502.28 606.16l6.14 3.63v7.26l-6.14 3.63l-6.14 -3.63v-7.26z"/>
<path fill="#b1c9e2" stroke="#b1c9e2" d="M293.56 213.91l6.14 3.63v7.26l-6.14 3.63l-6.14 -3.63v-7.26z"/>
<path fill="#b7cde4" stroke="#b7cde4" d="M318.12 213.91l6.14 3.63v7.26l-6.14 3.63l-6.14 -3.63v-7.26zM342.67 213.91l6.14 3.63v7.26l-6.14 3.63l-6.14 -3.63v-7.26z"/>
<path fill="#d8e4f0" stroke="#d8e4f0" d="M330.39 213.91l6.14 3.63v7.26l-6.14 3.63l-6.14 -3.63v-7.26zM367.23 213.91l6.14 3.63v7.26l-6.14 3.63l-6.14 -3.63v-7.26z"/>
<path fill="#ebf1f8" stroke="#ebf1f8" d="M354.95 213.91l6.14 3.63v7.26l-6.14 3.63l-6.14 -3.63v-7.26zM391.78 213.91l6.14 3.63v7.26l-6.14 3.63l-6.14 -3.63v-7.26z"/>
<path fill="#d3e0ee" stroke="#d3e0ee" d="M379.50 213.91l6.14 3.63v7.26l-6.14 3.63l-6.14 -3.63v-7.26zM207.62 344.66l6.14 3.63v7.26l-6.14 3.63l-6.14 -3.63v-7.26zM508.42 377.35l6.14 3.63v7.26l-6.14 3.63l-6.14 -3.63v-7.26zM508.42 399.14l6.14 3.63v7.26l-6.14 3.63l-6.14 -3.63v-7.26zM508.42 464.51l6.14 3.63v7.26l-6.14 3.63l-6.14 -3.63v-7.26zM508.42 486.31l6.14 3.63v7.26l-6.14 3.63l-6.14 -3.63v-7.26zM502.28 519.00l6.14 3.63v7.26l-6.14 3.63l-6.14 -3.63v-7.26z"/>
<path fill="#83a9d1" stroke="#83a9d1" d="M440.89 213.91l6.14 3.63v7.26l-6.14 3.63l-6.14 -3.63v-7.26z"/>
<path fill="#447eb9" stroke="#447eb9" d="M213.76 224.80l6.14 3.63v7.26l-6.14 3.63l-6.14 -3.63v-7.26zM459.31 595.27l6.14 3.63v7.26l-6.14 3.63l-6.14 -3.63v-7.26z"/>
<path fill="#dee8f3" stroke="#dee8f3" d="M250.59 224.80l6.14 3.63v7.26l-6.14 3.63l-6.14 -3.63v-7.26z"/>
<path fill="#e8eff6" stroke="#e8eff6" d="M262.87 224.80l6.14 3.63v7.26l-6.14 3.63l-6.14 -3.63v-7.26z"/>
<path fill="#faf1f2" stroke="#faf1f2" d="M275.15 224.80l6.14 3.63v7.26l-6.14 3.63l-6.14 -3.63v-7.26zM434.75 224.80l6.14 3.63v7.26l-6.14 3.63l-6.14 -3.63v-7.26zM496.14 311.97l6.14 3.63v7.26l-6.14 3.63l-6.14 -3.63v-7.26zM213.76 508.10l6.14 3.63v7.26l-6.14 3.63l-6.14 -3.63v-7.26zM219.90 540.79l6.14 3.63v7.26l-6.14 3.63l-6.14 -3.63v-7.26zM428.62 584.37l6.14 3.63v7.26l-6.14 3.63l-6.14 -3.63v-7.26z"/>
<path fill="#f0d1d5" stroke="#f0d1d5" d="M287.42 224.80l6.14 3.63v7.26l-6.14 3.63l-6.14 -3.63v-7.26zM471.59 246.59l6.14 3.63v7.26l-6.14 3.63l-6.14 -3.63v-7.26zM226.04 311.97l6.14 3.63v7.26l-6.14 3.63l-6.14 -3.63v-7.26zM219.90 344.66l6.14 3.63v7.26l-6.14 3.63l-6.14 -3.63v-7.26zM502.28 388.24l6.14 3.63v7.26l-6.14 3.63l-6.14 -3.63v-7.26zM238.31 573.47l6.14 3.63v7.26l-6.14 3.63l-6.14 -3.63v-7.26zM269.01 584.37l6.14 3.63v7.26l-6.14 3.63l-6.14 -3.63v-7.26zM281.28 584.37l6.14 3.63v7.26l-6.14 3.63l-6.14 -3.63v-7.26zM367.23 584.37l6.14 3.63v7.26l-6.14 3.63l-6.14 -3.63v-7.26zM379.50 584.37l6.14 3.63v7.26l-6.14 3.63l-6.14 -3.63v-7.26z"/>
<path fill="#dc97a0" stroke="#dc97a0" d="M299.70 224.80l6.14 3.63v7.26l-6.14 3.63l-6.14 -3.63v-7.26zM373.37 224.80l6.14 3.63v7.26l-6.14 3.63l-6.14 -3.63v-7.26zM385.64 224.80l6.14 3.63v7.26l-6.14 3.63l-6.14 -3.63v-7.26zM269.01 235.70l6.14 3.63v7.26l-6.14 3.63l-6.14 -3.63v-7.26zM262.87 246.59l6.14 3.63v7.26l-6.14 3.63l-6.14 -3.63v-7.26zM459.31 246.59l6.14 3.63v7.26l-6.14 3.63l-6.14 -3.63v-7.26zM477.72 279.28l6.14 3.63v7.26l-6.14 3.63l-6.14 -3.63v-7.26zM483.86 290.18l6.14 3.63v7.26l-6.14 3.63l-6.14 -3.63v-7.26zM483.86 311.97l6.14 3.63v7.26l-6.14 3.63l-6.14 -3.63v-7.26zM232.18 322.87l6.14 3.63v7.26l-6.14 3.63l-6.14 -3.63v-7.26zM226.04 355.55l6.14 3.63v7.26l-6.14 3.63l-6.14 -3.63v-7.26zM490.00 453.62l6.14 3.63v7.26l-6.14 3.63l-6.14 -3.63v-7.26zM490.00 475.41l6.14 3.63v7.26l-6.14 3.63l-6.14 -3.63v-7.26zM232.18 540.79l6.14 3.63v7.26l-6.14 3.63l-6.14 -3.63v-7.26zM244.45 562.58l6.14 3.63v7.26l-6.14 3.63l-6.14 -3.63v-7.26zM256.73 562.58l6.14 3.63v7.26l-6.14 3.63l-6.14 -3.63v-7.26zM262.87 573.47l6.14 3.63v7.26l-6.14 3.63l-6.14 -3.63v-7.26zM361.09 573.47l6.14 3.63v7.26l-6.14 3.63l-6.14 -3.63v-7.26zM385.64 573.47l6.14 3.63v7.26l-6.14 3.63l-6.14 -3.63v-7.26zM422.48 573.47l6.14 3.63v7.26l-6.14 3.63l-6.14 -3.63v-7.26z"/>
<path fill="#d88c95" stroke="#d88c95" d="M311.98 224.80l6.14 3.63v7.26l-6.14 3.63l-6.14 -3.63v-7.26zM348.81 224.80l6.14 3.63v7.26l-6.14 3.63l-6.14 -3.63v-7.26zM281.28 235.70l6.14 3.63v7.26l-6.14 3.63l-6.14 -3.63v-7.26zM250.59 268.39l6.14 3.63v7.26l-6.14 3.63l-6.14 -3.63v-7.26zM238.31 290.18l6.14 3.63v7.26l-6.14 3.63l-6.14 -3.63v-7.26zM483.86 333.76l6.14 3.63v7.26l-6.14 3.63l-6.14 -3.63v-7.26zM490.00 410.03l6.14 3.63v7.26l-6.14 3.63l-6.14 -3.63v-7.26zM226.04 442.72l6.14 3.63v7.26l-6.14 3.63l-6.14 -3.63v-7.26zM311.98 573.47l6.14 3.63v7.26l-6.14 3.63l-6.14 -3.63v-7.26zM348.81 573.47l6.14 3.63v7.26l-6.14 3.63l-6.14 -3.63v-7.26zM397.92 573.47l6.14 3.63v7.26l-6.14 3.63l-6.14 -3.63v-7.26z"/>
<path fill="#d5828d" stroke="#d5828d" d="M324.26 224.80l6.14 3.63v7.26l-6.14 3.63l-6.14 -3.63v-7.26zM428.62 235.70l6.14 3.63v7.26l-6.14 3.63l-6.14 -3.63v-7.26zM244.45 279.28l6.14 3.63v7.26l-6.14 3.63l-6.14 -3.63v-7.26zM226.04 464.51l6.14 3.63v7.26l-6.14 3.63l-6.14 -3.63v-7.26zM305.84 562.58l6.14 3.63v7.26l-6.14 3.63l-6.14 -3.63v-7.26zM428.62 562.58l6.14 3.63v7.26l-6.14 3.63l-6.14 -3.63v-7.26z"/>
<path fill="#dc959d" stroke="#dc959d" d="M336.53 224.80l6.14 3.63v7.26l-6.14 3.63l-6.14 -3.63v-7.26zM490.00 344.66l6.14 3.63v7.26l-6.14 3.63l-6.14 -3.63v-7.26zM490.00 366.45l6.14 3.63v7.26l-6.14 3.63l-6.14 -3.63v-7.26zM226.04 377.35l6.14 3.63v7.26l-6.14 3.63l-6.14 -3.63v-7.26zM226.04 420.93l6.14 3.63v7.26l-6.14 3.63l-6.14 -3.63v-7.26zM490.00 431.83l6.14 3.63v7.26l-6.14 3.63l-6.14 -3.63v-7.26zM275.15 573.47l6.14 3.63v7.26l-6.14 3.63l-6.14 -3.63v-7.26zM299.70 573.47l6.14 3.63v7.26l-6.14 3.63l-6.14 -3.63v-7.26z"/>
<path fill="#d47e88" stroke="#d47e88" d="M361.09 224.80l6.14 3.63v7.26l-6.14 3.63l-6.14 -3.63v-7.26zM477.72 301.07l6.14 3.63v7.26l-6.14 3.63l-6.14 -3.63v-7.26zM232.18 344.66l6.14 3.63v7.26l-6.14 3.63l-6.14 -3.63v-7.26zM226.04 486.31l6.14 3.63v7.26l-6.14 3.63l-6.14 -3.63v-7.26zM232.18 497.20l6.14 3.63v7.26l-6.14 3.63l-6.14 -3.63v-7.26zM232.18 519.00l6.14 3.63v7.26l-6.14 3.63l-6.14 -3.63v-7.26zM238.31 529.89l6.14 3.63v7.26l-6.14 3.63l-6.14 -3.63v-7.26zM471.59 529.89l6.14 3.63v7.26l-6.14 3.63l-6.14 -3.63v-7.26zM250.59 551.68l6.14 3.63v7.26l-6.14 3.63l-6.14 -3.63v-7.26zM281.28 562.58l6.14 3.63v7.26l-6.14 3.63l-6.14 -3.63v-7.26zM293.56 562.58l6.14 3.63v7.26l-6.14 3.63l-6.14 -3.63v-7.26zM318.12 562.58l6.14 3.63v7.26l-6.14 3.63l-6.14 -3.63v-7.26zM330.39 562.58l6.14 3.63v7.26l-6.14 3.63l-6.14 -3.63v-7.26zM367.23 562.58l6.14 3.63v7.26l-6.14 3.63l-6.14 -3.63v-7.26zM391.78 562.58l6.14 3.63v7.26l-6.14 3.63l-6.14 -3.63v-7.26zM404.06 562.58l6.14 3.63v7.26l-6.14 3.63l-6.14 -3.63v-7.26zM416.34 562.58l6.14 3.63v7.26l-6.14 3.63l-6.14 -3.63v-7.26zM336.53 573.47l6.14 3.63v7.26l-6.14 3.63l-6.14 -3.63v-7.26z"/>
<path fill="#e6b5bb" stroke="#e6b5bb" d="M397.92 224.80l6.14 3.63v7.26l-6.14 3.63l-6.14 -3.63v-7.26zM232.18 301.07l6.14 3.63v7.26l-6.14 3.63l-6.14 -3.63v-7.26zM496.14 355.55l6.14 3.63v7.26l-6.14 3.63l-6.14 -3.63v-7.26zM496.14 377.35l6.14 3.63v7.26l-6.14 3.63l-6.14 -3.63v-7.26zM477.72 540.79l6.14 3.63v7.26l-6.14 3.63l-6.14 -3.63v-7.26zM453.17 562.58l6.14 3.63v7.26l-6.14 3.63l-6.14 -3.63v-7.26zM434.75 573.47l6.14 3.63v7.26l-6.14 3.63l-6.14 -3.63v-7.26z"/>
<path fill="#e8babf" stroke="#e8babf" d="M410.20 224.80l6.14 3.63v7.26l-6.14 3.63l-6.14 -3.63v-7.26zM471.59 268.39l6.14 3.63v7.26l-6.14 3.63l-6.14 -3.63v-7.26zM490.00 322.87l6.14 3.63v7.26l-6.14 3.63l-6.14 -3.63v-7.26zM496.14 420.93l6.14 3.63v7.26l-6.14 3.63l-6.14 -3.63v-7.26zM496.14 464.51l6.14 3.63v7.26l-6.14 3.63l-6.14 -3.63v-7.26zM219.90 497.20l6.14 3.63v7.26l-6.14 3.63l-6.14 -3.63v-7.26zM226.04 529.89l6.14 3.63v7.26l-6.14 3.63l-6.14 -3.63v-7.26zM483.86 529.89l6.14 3.63v7.26l-6.14 3.63l-6.14 -3.63v-7.26zM330.39 584.37l6.14 3.63v7.26l-6.14 3.63l-6.14 -3.63v-7.26z"/>
<path fill="#f9edee" stroke="#f9edee" d="M422.48 224.80l6.14 3.63v7.26l-6.14 3.63l-6.14 -3.63v-7.26zM490.00 279.28l6.14 3.63v7.26l-6.14 3.63l-6.14 -3.63v-7.26z"/>
<path fill="#e7eef6" stroke="#e7eef6" d="M447.03 224.80l6.14 3.63v7.26l-6.14 3.63l-6.14 -3.63v-7.26z"/>
<path fill="#dae6f1" stroke="#dae6f1" d="M459.31 224.80l6.14 3.63v7.26l-6.14 3.63l-6.14 -3.63v-7.26z"/>
<path fill="#568bc0" stroke="#568bc0" d="M496.14 224.80l6.14 3.63v7.26l-6.14 3.63l-6.14 -3.63v-7.26z"/>
<path fill="#457eb9" stroke="#457eb9" d="M207.62 235.70l6.14 3.63v7.26l-6.14 3.63l-6.14 -3.63v-7.26zM526.83 279.28l6.14 3.63v7.26l-6.14 3.63l-6.14 -3.63v-7.26zM183.06 475.41l6.14 3.63v7.26l-6.14 3.63l-6.14 -3.63v-7.26zM532.97 486.31l6.14 3.63v7.26l-6.14 3.63l-6.14 -3.63v-7.26zM189.20 551.68l6.14 3.63v7.26l-6.14 3.63l-6.14 -3.63v-7.26z"/>
<path fill="#75a0cc" stroke="#75a0cc" d="M219.90 235.70l6.14 3.63v7.26l-6.14 3.63l-6.14 -3.63v-7.26zM207.62 279.28l6.14 3.63v7.26l-6.14 3.63l-6.14 -3.63v-7.26zM514.56 301.07l6.14 3.63v7.26l-6.14 3.63l-6.14 -3.63v-7.26zM201.48 333.76l6.14 3.63v7.26l-6.14 3.63l-6.14 -3.63v-7.26zM195.34 344.66l6.14 3.63v7.26l-6.14 3.63l-6.14 -3.63v-7.26zM195.34 410.03l6.14 3.63v7.26l-6.14 3.63l-6.14 -3.63v-7.26zM195.34 431.83l6.14 3.63v7.26l-6.14 3.63l-6.14 -3.63v-7.26zM195.34 475.41l6.14 3.63v7.26l-6.14 3.63l-6.14 -3.63v-7.26zM520.70 486.31l6.14 3.63v7.26l-6.14 3.63l-6.14 -3.63v-7.26zM195.34 497.20l6.14 3.63v7.26l-6.14 3.63l-6.14 -3.63v-7.26z"/>
<path fill="#d0deed" stroke="#d0deed" d="M232.18 235.70l6.14 3.63v7.26l-6.14 3.63l-6.14 -3.63v-7.26z"/>
<path fill="#f3dadd" stroke="#f3dadd" d="M244.45 235.70l6.14 3.63v7.26l-6.14 3.63l-6.14 -3.63v-7.26zM238.31 246.59l6.14 3.63v7.26l-6.14 3.63l-6.14 -3.63v-7.26zM477.72 257.49l6.14 3.63v7.26l-6.14 3.63l-6.14 -3.63v-7.26zM483.86 268.39l6.14 3.63v7.26l-6.14 3.63l-6.14 -3.63v-7.26zM219.90 366.45l6.14 3.63v7.26l-6.14 3.63l-6.14 -3.63v-7.26zM219.90 410.03l6.14 3.63v7.26l-6.14 3.63l-6.14 -3.63v-7.26zM219.90 519.00l6.14 3.63v7.26l-6.14 3.63l-6.14 -3.63v-7.26zM232.18 562.58l6.14 3.63v7.26l-6.14 3.63l-6.14 -3.63v-7.26zM459.31 573.47l6.14 3.63v7.26l-6.14 3.63l-6.14 -3.63v-7.26zM342.67 584.37l6.14 3.63v7.26l-6.14 3.63l-6.14 -3.63v-7.26zM404.06 584.37l6.14 3.63v7.26l-6.14 3.63l-6.14 -3.63v-7.26z"/>
<path fill="#e5b0b7" stroke="#e5b0b7" d="M256.73 235.70l6.14 3.63v7.26l-6.14 3.63l-6.14 -3.63v-7.26zM453.17 235.70l6.14 3.63v7.26l-6.14 3.63l-6.14 -3.63v-7.26zM250.59 246.59l6.14 3.63v7.26l-6.14 3.63l-6.14 -3.63v-7.26zM496.14 399.14l6.14 3.63v7.26l-6.14 3.63l-6.14 -3.63v-7.26z"/>
<path fill="#ce6d79" stroke="#ce6d79" d="M293.56 235.70l6.14 3.63v7.26l-6.14 3.63l-6.14 -3.63v-7.26zM391.78 235.70l6.14 3.63v7.26l-6.14 3.63l-6.14 -3.63v-7.26zM416.34 235.70l6.14 3.63v7.26l-6.14 3.63l-6.14 -3.63v-7.26zM275.15 246.59l6.14 3.63v7.26l-6.14 3.63l-6.14 -3.63v-7.26zM447.03 246.59l6.14 3.63v7.26l-6.14 3.63l-6.14 -3.63v-7.26zM262.87 268.39l6.14 3.63v7.26l-6.14 3.63l-6.14 -3.63v-7.26z"/>
<path fill="#d5808a" stroke="#d5808a" d="M305.84 235.70l6.14 3.63v7.26l-6.14 3.63l-6.14 -3.63v-7.26zM459.31 268.39l6.14 3.63v7.26l-6.14 3.63l-6.14 -3.63v-7.26z"/>
<path fill="#cb6471" stroke="#cb6471" d="M318.12 235.70l6.14 3.63v7.26l-6.14 3.63l-6.14 -3.63v-7.26zM330.39 235.70l6.14 3.63v7.26l-6.14 3.63l-6.14 -3.63v-7.26zM342.67 235.70l6.14 3.63v7.26l-6.14 3.63l-6.14 -3.63v-7.26zM379.50 235.70l6.14 3.63v7.26l-6.14 3.63l-6.14 -3.63v-7.26zM422.48 246.59l6.14 3.63v7.26l-6.14 3.63l-6.14 -3.63v-7.26zM434.75 246.59l6.14 3.63v7.26l-6.14 3.63l-6.14 -3.63v-7.26zM269.01 257.49l6.14 3.63v7.26l-6.14 3.63l-6.14 -3.63v-7.26zM281.28 257.49l6.14 3.63v7.26l-6.14 3.63l-6.14 -3.63v-7.26zM256.73 279.28l6.14 3.63v7.26l-6.14 3.63l-6.14 -3.63v-7.26z"/>
<path fill="#ca606d" stroke="#ca606d" d="M354.95 235.70l6.14 3.63v7.26l-6.14 3.63l-6.14 -3.63v-7.26zM477.72 475.41l6.14 3.63v7.26l-6.14 3.63l-6.14 -3.63v-7.26zM453.17 540.79l6.14 3.63v7.26l-6.14 3.63l-6.14 -3.63v-7.26z"/>
<path fill="#c85966" stroke="#c85966" d="M367.23 235.70l6.14 3.63v7.26l-6.14 3.63l-6.14 -3.63v-7.26zM465.45 519.00l6.14 3.63v7.26l-6.14 3.63l-6.14 -3.63v-7.26zM422.48 551.68l6.14 3.63v7.26l-6.14 3.63l-6.14 -3.63v-7.26z"/>
<path fill="#db929b" stroke="#db929b" d="M404.06 235.70l6.14 3.63v7.26l-6.14 3.63l-6.14 -3.63v-7.26z"/>
<path fill="#dc969f" stroke="#dc969f" d="M440.89 235.70l6.14 3.63v7.26l-6.14 3.63l-6.14 -3.63v-7.26z"/>
<path fill="#ebc4c9" stroke="#ebc4c9" d="M465.45 235.70l6.14 3.63v7.26l-6.14 3.63l-6.14 -3.63v-7.26z"/>
<path fill="#f7e8ea" stroke="#f7e8ea" d="M477.72 235.70l6.14 3.63v7.26l-6.14 3.63l-6.14 -3.63v-7.26zM219.90 322.87l6.14 3.63v7.26l-6.14 3.63l-6.14 -3.63v-7.26zM502.28 410.03l6.14 3.63v7.26l-6.14 3.63l-6.14 -3.63v-7.26zM502.28 431.83l6.14 3.63v7.26l-6.14 3.63l-6.14 -3.63v-7.26zM213.76 486.31l6.14 3.63v7.26l-6.14 3.63l-6.14 -3.63v-7.26zM483.86 551.68l6.14 3.63v7.26l-6.14 3.63l-6.14 -3.63v-7.26zM256.73 584.37l6.14 3.63v7.26l-6.14 3.63l-6.14 -3.63v-7.26z"/>
<path fill="#6192c4" stroke="#6192c4" d="M502.28 235.70l6.14 3.63v7.26l-6.14 3.63l-6.14 -3.63v-7.26zM508.42 246.59l6.14 3.63v7.26l-6.14 3.63l-6.14 -3.63v-7.26zM201.48 290.18l6.14 3.63v7.26l-6.14 3.63l-6.14 -3.63v-7.26zM520.70 290.18l6.14 3.63v7.26l-6.14 3.63l-6.14 -3.63v-7.26zM201.48 311.97l6.14 3.63v7.26l-6.14 3.63l-6.14 -3.63v-7.26zM526.83 344.66l6.14 3.63v7.26l-6.14 3.63l-6.14 -3.63v-7.26zM526.83 366.45l6.14 3.63v7.26l-6.14 3.63l-6.14 -3.63v-7.26zM195.34 388.24l6.14 3.63v7.26l-6.14 3.63l-6.14 -3.63v-7.26zM526.83 410.03l6.14 3.63v7.26l-6.14 3.63l-6.14 -3.63v-7.26zM526.83 453.62l6.14 3.63v7.26l-6.14 3.63l-6.14 -3.63v-7.26zM526.83 475.41l6.14 3.63v7.26l-6.14 3.63l-6.14 -3.63v-7.26zM195.34 540.79l6.14 3.63v7.26l-6.14 3.63l-6.14 -3.63v-7.26zM514.56 540.79l6.14 3.63v7.26l-6.14 3.63l-6.14 -3.63v-7.26zM508.42 551.68l6.14 3.63v7.26l-6.14 3.63l-6.14 -3.63v-7.26zM502.28 562.58l6.14 3.63v7.26l-6.14 3.63l-6.14 -3.63v-7.26z"/>
<path fill="#3675b4" stroke="#3675b4" d="M189.20 246.59l6.14 3.63v7.26l-6.14 3.63l-6.14 -3.63v-7.26zM189.20 268.39l6.14 3.63v7.26l-6.14 3.63l-6.14 -3.63v-7.26zM539.11 279.28l6.14 3.63v7.26l-6.14 3.63l-6.14 -3.63v-7.26zM539.11 301.07l6.14 3.63v7.26l-6.14 3.63l-6.14 -3.63v-7.26zM183.06 322.87l6.14 3.63v7.26l-6.14 3.63l-6.14 -3.63v-7.26zM176.93 355.55l6.14 3.63v7.26l-6.14 3.63l-6.14 -3.63v-7.26zM183.06 410.03l6.14 3.63v7.26l-6.14 3.63l-6.14 -3.63v-7.26zM176.93 442.72l6.14 3.63v7.26l-6.14 3.63l-6.14 -3.63v-7.26zM176.93 486.31l6.14 3.63v7.26l-6.14 3.63l-6.14 -3.63v-7.26zM176.93 508.10l6.14 3.63v7.26l-6.14 3.63l-6.14 -3.63v-7.26zM539.11 519.00l6.14 3.63v7.26l-6.14 3.63l-6.14 -3.63v-7.26zM183.06 562.58l6.14 3.63v7.26l-6.14 3.63l-6.14 -3.63v-7.26z"/>
<path fill="#adc6e0" stroke="#adc6e0" d="M226.04 246.59l6.14 3.63v7.26l-6.14 3.63l-6.14 -3.63v-7.26zM207.62 540.79l6.14 3.63v7.26l-6.14 3.63l-6.14 -3.63v-7.26zM502.28 540.79l6.14 3.63v7.26l-6.14 3.63l-6.14 -3.63v-7.26zM213.76 551.68l6.14 3.63v7.26l-6.14 3.63l-6.14 -3.63v-7.26z"/>
<path fill="#c85b68" stroke="#c85b68" d="M287.42 246.59l6.14 3.63v7.26l-6.14 3.63l-6.14 -3.63v-7.26zM348.81 246.59l6.14 3.63v7.26l-6.14 3.63l-6.14 -3.63v-7.26zM385.64 246.59l6.14 3.63v7.26l-6.14 3.63l-6.14 -3.63v-7.26zM410.20 246.59l6.14 3.63v7.26l-6.14 3.63l-6.14 -3.63v-7.26zM440.89 257.49l6.14 3.63v7.26l-6.14 3.63l-6.14 -3.63v-7.26zM447.03 268.39l6.14 3.63v7.26l-6.14 3.63l-6.14 -3.63v-7.26z"/>
<path fill="#c75664" stroke="#c75664" d="M299.70 246.59l6.14 3.63v7.26l-6.14 3.63l-6.14 -3.63v-7.26zM250.59 290.18l6.14 3.63v7.26l-6.14 3.63l-6.14 -3.63v-7.26zM459.31 529.89l6.14 3.63v7.26l-6.14 3.63l-6.14 -3.63v-7.26z"/>
<path fill="#c44d5c" stroke="#c44d5c" d="M311.98 246.59l6.14 3.63v7.26l-6.14 3.63l-6.14 -3.63v-7.26zM324.26 246.59l6.14 3.63v7.26l-6.14 3.63l-6.14 -3.63v-7.26zM361.09 246.59l6.14 3.63v7.26l-6.14 3.63l-6.14 -3.63v-7.26zM391.78 257.49l6.14 3.63v7.26l-6.14 3.63l-6.14 -3.63v-7.26zM416.34 257.49l6.14 3.63v7.26l-6.14 3.63l-6.14 -3.63v-7.26zM428.62 257.49l6.14 3.63v7.26l-6.14 3.63l-6.14 -3.63v-7.26zM238.31 508.10l6.14 3.63v7.26l-6.14 3.63l-6.14 -3.63v-7.26z"/>
<path fill="#c65462" stroke="#c65462" d="M336.53 246.59l6.14 3.63v7.26l-6.14 3.63l-6.14 -3.63v-7.26zM459.31 290.18l6.14 3.63v7.26l-6.14 3.63l-6.14 -3.63v-7.26zM465.45 322.87l6.14 3.63v7.26l-6.14 3.63l-6.14 -3.63v-7.26zM477.72 388.24l6.14 3.63v7.26l-6.14 3.63l-6.14 -3.63v-7.26zM477.72 410.03l6.14 3.63v7.26l-6.14 3.63l-6.14 -3.63v-7.26zM238.31 442.72l6.14 3.63v7.26l-6.14 3.63l-6.14 -3.63v-7.26zM311.98 551.68l6.14 3.63v7.26l-6.14 3.63l-6.14 -3.63v-7.26zM324.26 551.68l6.14 3.63v7.26l-6.14 3.63l-6.14 -3.63v-7.26zM336.53 551.68l6.14 3.63v7.26l-6.14 3.63l-6.14 -3.63v-7.26zM348.81 551.68l6.14 3.63v7.26l-6.14 3.63l-6.14 -3.63v-7.26zM361.09 551.68l6.14 3.63v7.26l-6.14 3.63l-6.14 -3.63v-7.26zM373.37 551.68l6.14 3.63v7.26l-6.14 3.63l-6.14 -3.63v-7.26zM385.64 551.68l6.14 3.63v7.26l-6.14 3.63l-6.14 -3.63v-7.26zM397.92 551.68l6.14 3.63v7.26l-6.14 3.63l-6.14 -3.63v-7.26zM410.20 551.68l6.14 3.63v7.26l-6.14 3.63l-6.14 -3.63v-7.26z"/>
<path fill="#c24958" stroke="#c24958" d="M373.37 246.59l6.14 3.63v7.26l-6.14 3.63l-6.14 -3.63v-7.26zM397.92 246.59l6.14 3.63v7.26l-6.14 3.63l-6.14 -3.63v-7.26zM305.84 257.49l6.14 3.63v7.26l-6.14 3.63l-6.14 -3.63v-7.26zM367.23 257.49l6.14 3.63v7.26l-6.14 3.63l-6.14 -3.63v-7.26zM404.06 257.49l6.14 3.63v7.26l-6.14 3.63l-6.14 -3.63v-7.26zM238.31 486.31l6.14 3.63v7.26l-6.14 3.63l-6.14 -3.63v-7.26zM440.89 540.79l6.14 3.63v7.26l-6.14 3.63l-6.14 -3.63v-7.26z"/>
<path fill="#ffffff" stroke="#ffffff" d="M483.86 246.59l6.14 3.63v7.26l-6.14 3.63l-6.14 -3.63v-7.26zM496.14 268.39l6.14 3.63v7.26l-6.14 3.63l-6.14 -3.63v-7.26zM219.90 279.28l6.14 3.63v7.26l-6.14 3.63l-6.14 -3.63v-7.26zM502.28 344.66l6.14 3.63v7.26l-6.14 3.63l-6.14 -3.63v-7.26zM213.76 529.89l6.14 3.63v7.26l-6.14 3.63l-6.14 -3.63v-7.26zM490.00 540.79l6.14 3.63v7.26l-6.14 3.63l-6.14 -3.63v-7.26zM477.72 562.58l6.14 3.63v7.26l-6.14 3.63l-6.14 -3.63v-7.26zM244.45 584.37l6.14 3.63v7.26l-6.14 3.63l-6.14 -3.63v-7.26zM440.89 584.37l6.14 3.63v7.26l-6.14 3.63l-6.14 -3.63v-7.26z"/>
<path fill="#f2f6fa" stroke="#f2f6fa" d="M232.18 257.49l6.14 3.63v7.26l-6.14 3.63l-6.14 -3.63v-7.26zM496.14 290.18l6.14 3.63v7.26l-6.14 3.63l-6.14 -3.63v-7.26zM502.28 497.20l6.14 3.63v7.26l-6.14 3.63l-6.14 -3.63v-7.26zM496.14 529.89l6.14 3.63v7.26l-6.14 3.63l-6.14 -3.63v-7.26z"/>
<path fill="#edc8cc" stroke="#edc8cc" d="M244.45 257.49l6.14 3.63v7.26l-6.14 3.63l-6.14 -3.63v-7.26zM238.31 268.39l6.14 3.63v7.26l-6.14 3.63l-6.14 -3.63v-7.26zM490.00 301.07l6.14 3.63v7.26l-6.14 3.63l-6.14 -3.63v-7.26zM465.45 562.58l6.14 3.63v7.26l-6.14 3.63l-6.14 -3.63v-7.26zM250.59 573.47l6.14 3.63v7.26l-6.14 3.63l-6.14 -3.63v-7.26z"/>
<path fill="#da9099" stroke="#da9099" d="M256.73 257.49l6.14 3.63v7.26l-6.14 3.63l-6.14 -3.63v-7.26zM226.04 399.14l6.14 3.63v7.26l-6.14 3.63l-6.14 -3.63v-7.26zM226.04 508.10l6.14 3.63v7.26l-6.14 3.63l-6.14 -3.63v-7.26zM287.42 573.47l6.14 3.63v7.26l-6.14 3.63l-6.14 -3.63v-7.26zM324.26 573.47l6.14 3.63v7.26l-6.14 3.63l-6.14 -3.63v-7.26z"/>
<path fill="#c14453" stroke="#c14453" d="M293.56 257.49l6.14 3.63v7.26l-6.14 3.63l-6.14 -3.63v-7.26zM330.39 257.49l6.14 3.63v7.26l-6.14 3.63l-6.14 -3.63v-7.26zM342.67 257.49l6.14 3.63v7.26l-6.14 3.63l-6.14 -3.63v-7.26zM379.50 257.49l6.14 3.63v7.26l-6.14 3.63l-6.14 -3.63v-7.26z"/>
<path fill="#c55260" stroke="#c55260" d="M318.12 257.49l6.14 3.63v7.26l-6.14 3.63l-6.14 -3.63v-7.26z"/>
<path fill="#bf3f4f" stroke="#bf3f4f" d="M354.95 257.49l6.14 3.63v7.26l-6.14 3.63l-6.14 -3.63v-7.26zM465.45 497.20l6.14 3.63v7.26l-6.14 3.63l-6.14 -3.63v-7.26zM453.17 519.00l6.14 3.63v7.26l-6.14 3.63l-6.14 -3.63v-7.26zM447.03 529.89l6.14 3.63v7.26l-6.14 3.63l-6.14 -3.63v-7.26z"/>
<path fill="#d6858f" stroke="#d6858f" d="M453.17 257.49l6.14 3.63v7.26l-6.14 3.63l-6.14 -3.63v-7.26z"/>
<path fill="#e4aeb5" stroke="#e4aeb5" d="M465.45 257.49l6.14 3.63v7.26l-6.14 3.63l-6.14 -3.63v-7.26z"/>
<path fill="#dbe7f2" stroke="#dbe7f2" d="M490.00 257.49l6.14 3.63v7.26l-6.14 3.63l-6.14 -3.63v-7.26zM207.62 410.03l6.14 3.63v7.26l-6.14 3.63l-6.14 -3.63v-7.26zM207.62 431.83l6.14 3.63v7.26l-6.14 3.63l-6.14 -3.63v-7.26zM508.42 442.72l6.14 3.63v7.26l-6.14 3.63l-6.14 -3.63v-7.26zM207.62 453.62l6.14 3.63v7.26l-6.14 3.63l-6.14 -3.63v-7.26zM207.62 497.20l6.14 3.63v7.26l-6.14 3.63l-6.14 -3.63v-7.26z"/>
<path fill="#94b5d7" stroke="#94b5d7" d="M502.28 257.49l6.14 3.63v7.26l-6.14 3.63l-6.14 -3.63v-7.26zM508.42 268.39l6.14 3.63v7.26l-6.14 3.63l-6.14 -3.63v-7.26zM213.76 290.18l6.14 3.63v7.26l-6.14 3.63l-6.14 -3.63v-7.26zM514.56 322.87l6.14 3.63v7.26l-6.14 3.63l-6.14 -3.63v-7.26zM201.48 355.55l6.14 3.63v7.26l-6.14 3.63l-6.14 -3.63v-7.26zM520.70 355.55l6.14 3.63v7.26l-6.14 3.63l-6.14 -3.63v-7.26zM520.70 420.93l6.14 3.63v7.26l-6.14 3.63l-6.14 -3.63v-7.26zM520.70 442.72l6.14 3.63v7.26l-6.14 3.63l-6.14 -3.63v-7.26zM514.56 497.20l6.14 3.63v7.26l-6.14 3.63l-6.14 -3.63v-7.26zM201.48 508.10l6.14 3.63v7.26l-6.14 3.63l-6.14 -3.63v-7.26zM348.81 595.27l6.14 3.63v7.26l-6.14 3.63l-6.14 -3.63v-7.26z"/>
<path fill="#558abf" stroke="#558abf" d="M514.56 257.49l6.14 3.63v7.26l-6.14 3.63l-6.14 -3.63v-7.26zM520.70 268.39l6.14 3.63v7.26l-6.14 3.63l-6.14 -3.63v-7.26zM526.83 322.87l6.14 3.63v7.26l-6.14 3.63l-6.14 -3.63v-7.26zM189.20 355.55l6.14 3.63v7.26l-6.14 3.63l-6.14 -3.63v-7.26zM532.97 420.93l6.14 3.63v7.26l-6.14 3.63l-6.14 -3.63v-7.26zM189.20 464.51l6.14 3.63v7.26l-6.14 3.63l-6.14 -3.63v-7.26zM189.20 508.10l6.14 3.63v7.26l-6.14 3.63l-6.14 -3.63v-7.26zM250.59 595.27l6.14 3.63v7.26l-6.14 3.63l-6.14 -3.63v-7.26zM434.75 595.27l6.14 3.63v7.26l-6.14 3.63l-6.14 -3.63v-7.26z"/>
<path fill="#7fa6cf" stroke="#7fa6cf" d="M213.76 268.39l6.14 3.63v7.26l-6.14 3.63l-6.14 -3.63v-7.26z"/>
<path fill="#e9f0f7" stroke="#e9f0f7" d="M226.04 268.39l6.14 3.63v7.26l-6.14 3.63l-6.14 -3.63v-7.26z"/>
<path fill="#ba3142" stroke="#ba3142" d="M275.15 268.39l6.14 3.63v7.26l-6.14 3.63l-6.14 -3.63v-7.26zM287.42 268.39l6.14 3.63v7.26l-6.14 3.63l-6.14 -3.63v-7.26zM299.70 268.39l6.14 3.63v7.26l-6.14 3.63l-6.14 -3.63v-7.26zM311.98 268.39l6.14 3.63v7.26l-6.14 3.63l-6.14 -3.63v-7.26zM324.26 268.39l6.14 3.63v7.26l-6.14 3.63l-6.14 -3.63v-7.26zM336.53 268.39l6.14 3.63v7.26l-6.14 3.63l-6.14 -3.63v-7.26zM385.64 268.39l6.14 3.63v7.26l-6.14 3.63l-6.14 -3.63v-7.26zM397.92 268.39l6.14 3.63v7.26l-6.14 3.63l-6.14 -3.63v-7.26zM410.20 268.39l6.14 3.63v7.26l-6.14 3.63l-6.14 -3.63v-7.26zM447.03 290.18l6.14 3.63v7.26l-6.14 3.63l-6.14 -3.63v-7.26zM262.87 529.89l6.14 3.63v7.26l-6.14 3.63l-6.14 -3.63v-7.26z"/>
<path fill="#b41d2f" stroke="#b41d2f" d="M348.81 268.39l6.14 3.63v7.26l-6.14 3.63l-6.14 -3.63v-7.26zM379.50 279.28l6.14 3.63v7.26l-6.14 3.63l-6.14 -3.63v-7.26zM428.62 279.28l6.14 3.63v7.26l-6.14 3.63l-6.14 -3.63v-7.26zM311.98 290.18l6.14 3.63v7.26l-6.14 3.63l-6.14 -3.63v-7.26zM324.26 290.18l6.14 3.63v7.26l-6.14 3.63l-6.14 -3.63v-7.26zM336.53 290.18l6.14 3.63v7.26l-6.14 3.63l-6.14 -3.63v-7.26zM348.81 290.18l6.14 3.63v7.26l-6.14 3.63l-6.14 -3.63v-7.26zM361.09 290.18l6.14 3.63v7.26l-6.14 3.63l-6.14 -3.63v-7.26zM373.37 290.18l6.14 3.63v7.26l-6.14 3.63l-6.14 -3.63v-7.26zM385.64 290.18l6.14 3.63v7.26l-6.14 3.63l-6.14 -3.63v-7.26zM256.73 322.87l6.14 3.63v7.26l-6.14 3.63l-6.14 -3.63v-7.26zM269.01 322.87l6.14 3.63v7.26l-6.14 3.63l-6.14 -3.63v-7.26zM262.87 333.76l6.14 3.63v7.26l-6.14 3.63l-6.14 -3.63v-7.26zM256.73 344.66l6.14 3.63v7.26l-6.14 3.63l-6.14 -3.63v-7.26zM440.89 388.24l6.14 3.63v7.26l-6.14 3.63l-6.14 -3.63v-7.26zM440.89 410.03l6.14 3.63v7.26l-6.14 3.63l-6.14 -3.63v-7.26zM434.75 464.51l6.14 3.63v7.26l-6.14 3.63l-6.14 -3.63v-7.26zM275.15 486.31l6.14 3.63v7.26l-6.14 3.63l-6.14 -3.63v-7.26zM305.84 497.20l6.14 3.63v7.26l-6.14 3.63l-6.14 -3.63v-7.26zM318.12 497.20l6.14 3.63v7.26l-6.14 3.63l-6.14 -3.63v-7.26zM330.39 497.20l6.14 3.63v7.26l-6.14 3.63l-6.14 -3.63v-7.26zM342.67 497.20l6.14 3.63v7.26l-6.14 3.63l-6.14 -3.63v-7.26zM354.95 497.20l6.14 3.63v7.26l-6.14 3.63l-6.14 -3.63v-7.26zM367.23 497.20l6.14 3.63v7.26l-6.14 3.63l-6.14 -3.63v-7.26zM379.50 497.20l6.14 3.63v7.26l-6.14 3.63l-6.14 -3.63v-7.26z"/>
<path fill="#b7283a" stroke="#b7283a" d="M361.09 268.39l6.14 3.63v7.26l-6.14 3.63l-6.14 -3.63v-7.26zM281.28 279.28l6.14 3.63v7.26l-6.14 3.63l-6.14 -3.63v-7.26zM293.56 279.28l6.14 3.63v7.26l-6.14 3.63l-6.14 -3.63v-7.26z"/>
<path fill="#ba2f40" stroke="#ba2f40" d="M373.37 268.39l6.14 3.63v7.26l-6.14 3.63l-6.14 -3.63v-7.26zM275.15 290.18l6.14 3.63v7.26l-6.14 3.63l-6.14 -3.63v-7.26zM459.31 355.55l6.14 3.63v7.26l-6.14 3.63l-6.14 -3.63v-7.26zM459.31 399.14l6.14 3.63v7.26l-6.14 3.63l-6.14 -3.63v-7.26zM459.31 420.93l6.14 3.63v7.26l-6.14 3.63l-6.14 -3.63v-7.26zM453.17 453.62l6.14 3.63v7.26l-6.14 3.63l-6.14 -3.63v-7.26zM459.31 486.31l6.14 3.63v7.26l-6.14 3.63l-6.14 -3.63v-7.26zM453.17 497.20l6.14 3.63v7.26l-6.14 3.63l-6.14 -3.63v-7.26zM416.34 519.00l6.14 3.63v7.26l-6.14 3.63l-6.14 -3.63v-7.26zM428.62 519.00l6.14 3.63v7.26l-6.14 3.63l-6.14 -3.63v-7.26zM440.89 519.00l6.14 3.63v7.26l-6.14 3.63l-6.14 -3.63v-7.26zM410.20 529.89l6.14 3.63v7.26l-6.14 3.63l-6.14 -3.63v-7.26z"/>
<path fill="#be3b4b" stroke="#be3b4b" d="M422.48 268.39l6.14 3.63v7.26l-6.14 3.63l-6.14 -3.63v-7.26zM434.75 268.39l6.14 3.63v7.26l-6.14 3.63l-6.14 -3.63v-7.26zM269.01 279.28l6.14 3.63v7.26l-6.14 3.63l-6.14 -3.63v-7.26z"/>
<path fill="#2569ad" stroke="#2569ad" d="M158.51 279.28l6.14 3.63v7.26l-6.14 3.63l-6.14 -3.63v-7.26zM557.53 290.18l6.14 3.63v7.26l-6.14 3.63l-6.14 -3.63v-7.26zM563.67 322.87l6.14 3.63v7.26l-6.14 3.63l-6.14 -3.63v-7.26zM563.67 497.20l6.14 3.63v7.26l-6.14 3.63l-6.14 -3.63v-7.26zM563.67 519.00l6.14 3.63v7.26l-6.14 3.63l-6.14 -3.63v-7.26zM557.53 551.68l6.14 3.63v7.26l-6.14 3.63l-6.14 -3.63v-7.26zM176.93 595.27l6.14 3.63v7.26l-6.14 3.63l-6.14 -3.63v-7.26zM183.06 606.16l6.14 3.63v7.26l-6.14 3.63l-6.14 -3.63v-7.26zM189.20 617.06l6.14 3.63v7.26l-6.14 3.63l-6.14 -3.63v-7.26zM232.18 649.75l6.14 3.63v7.26l-6.14 3.63l-6.14 -3.63v-7.26zM477.72 649.75l6.14 3.63v7.26l-6.14 3.63l-6.14 -3.63v-7.26z"/>
<path fill="#3373b3" stroke="#3373b3" d="M183.06 279.28l6.14 3.63v7.26l-6.14 3.63l-6.14 -3.63v-7.26zM183.06 301.07l6.14 3.63v7.26l-6.14 3.63l-6.14 -3.63v-7.26zM176.93 529.89l6.14 3.63v7.26l-6.14 3.63l-6.14 -3.63v-7.26zM176.93 551.68l6.14 3.63v7.26l-6.14 3.63l-6.14 -3.63v-7.26zM269.01 627.96l6.14 3.63v7.26l-6.14 3.63l-6.14 -3.63v-7.26zM428.62 627.96l6.14 3.63v7.26l-6.14 3.63l-6.14 -3.63v-7.26z"/>
<path fill="#427db8" stroke="#427db8" d="M195.34 279.28l6.14 3.63v7.26l-6.14 3.63l-6.14 -3.63v-7.26zM532.97 311.97l6.14 3.63v7.26l-6.14 3.63l-6.14 -3.63v-7.26zM532.97 333.76l6.14 3.63v7.26l-6.14 3.63l-6.14 -3.63v-7.26zM183.06 431.83l6.14 3.63v7.26l-6.14 3.63l-6.14 -3.63v-7.26zM539.11 453.62l6.14 3.63v7.26l-6.14 3.63l-6.14 -3.63v-7.26zM183.06 497.20l6.14 3.63v7.26l-6.14 3.63l-6.14 -3.63v-7.26zM532.97 508.10l6.14 3.63v7.26l-6.14 3.63l-6.14 -3.63v-7.26zM183.06 519.00l6.14 3.63v7.26l-6.14 3.63l-6.14 -3.63v-7.26z"/>
<path fill="#ebc3c8" stroke="#ebc3c8" d="M232.18 279.28l6.14 3.63v7.26l-6.14 3.63l-6.14 -3.63v-7.26zM219.90 453.62l6.14 3.63v7.26l-6.14 3.63l-6.14 -3.63v-7.26zM219.90 475.41l6.14 3.63v7.26l-6.14 3.63l-6.14 -3.63v-7.26zM354.95 584.37l6.14 3.63v7.26l-6.14 3.63l-6.14 -3.63v-7.26z"/>
<path fill="#b72638" stroke="#b72638" d="M305.84 279.28l6.14 3.63v7.26l-6.14 3.63l-6.14 -3.63v-7.26zM318.12 279.28l6.14 3.63v7.26l-6.14 3.63l-6.14 -3.63v-7.26zM330.39 279.28l6.14 3.63v7.26l-6.14 3.63l-6.14 -3.63v-7.26zM342.67 279.28l6.14 3.63v7.26l-6.14 3.63l-6.14 -3.63v-7.26zM354.95 279.28l6.14 3.63v7.26l-6.14 3.63l-6.14 -3.63v-7.26zM416.34 279.28l6.14 3.63v7.26l-6.14 3.63l-6.14 -3.63v-7.26zM256.73 301.07l6.14 3.63v7.26l-6.14 3.63l-6.14 -3.63v-7.26zM440.89 301.07l6.14 3.63v7.26l-6.14 3.63l-6.14 -3.63v-7.26zM440.89 322.87l6.14 3.63v7.26l-6.14 3.63l-6.14 -3.63v-7.26zM447.03 333.76l6.14 3.63v7.26l-6.14 3.63l-6.14 -3.63v-7.26zM250.59 355.55l6.14 3.63v7.26l-6.14 3.63l-6.14 -3.63v-7.26zM453.17 366.45l6.14 3.63v7.26l-6.14 3.63l-6.14 -3.63v-7.26zM453.17 388.24l6.14 3.63v7.26l-6.14 3.63l-6.14 -3.63v-7.26zM453.17 410.03l6.14 3.63v7.26l-6.14 3.63l-6.14 -3.63v-7.26zM453.17 431.83l6.14 3.63v7.26l-6.14 3.63l-6.14 -3.63v-7.26zM447.03 464.51l6.14 3.63v7.26l-6.14 3.63l-6.14 -3.63v-7.26zM447.03 486.31l6.14 3.63v7.26l-6.14 3.63l-6.14 -3.63v-7.26zM440.89 497.20l6.14 3.63v7.26l-6.14 3.63l-6.14 -3.63v-7.26zM447.03 508.10l6.14 3.63v7.26l-6.14 3.63l-6.14 -3.63v-7.26zM391.78 519.00l6.14 3.63v7.26l-6.14 3.63l-6.14 -3.63v-7.26zM404.06 519.00l6.14 3.63v7.26l-6.14 3.63l-6.14 -3.63v-7.26z"/>
<path fill="#b52133" stroke="#b52133" d="M367.23 279.28l6.14 3.63v7.26l-6.14 3.63l-6.14 -3.63v-7.26zM440.89 344.66l6.14 3.63v7.26l-6.14 3.63l-6.14 -3.63v-7.26zM447.03 355.55l6.14 3.63v7.26l-6.14 3.63l-6.14 -3.63v-7.26zM440.89 366.45l6.14 3.63v7.26l-6.14 3.63l-6.14 -3.63v-7.26zM447.03 377.35l6.14 3.63v7.26l-6.14 3.63l-6.14 -3.63v-7.26zM447.03 399.14l6.14 3.63v7.26l-6.14 3.63l-6.14 -3.63v-7.26zM447.03 420.93l6.14 3.63v7.26l-6.14 3.63l-6.14 -3.63v-7.26zM440.89 431.83l6.14 3.63v7.26l-6.14 3.63l-6.14 -3.63v-7.26zM440.89 453.62l6.14 3.63v7.26l-6.14 3.63l-6.14 -3.63v-7.26zM440.89 475.41l6.14 3.63v7.26l-6.14 3.63l-6.14 -3.63v-7.26zM262.87 486.31l6.14 3.63v7.26l-6.14 3.63l-6.14 -3.63v-7.26zM275.15 508.10l6.14 3.63v7.26l-6.14 3.63l-6.14 -3.63v-7.26zM422.48 508.10l6.14 3.63v7.26l-6.14 3.63l-6.14 -3.63v-7.26z"/>
<path fill="#b2182b" stroke="#b2182b" d="M391.78 279.28l6.14 3.63v7.26l-6.14 3.63l-6.14 -3.63v-7.26zM404.06 279.28l6.14 3.63v7.26l-6.14 3.63l-6.14 -3.63v-7.26zM305.84 301.07l6.14 3.63v7.26l-6.14 3.63l-6.14 -3.63v-7.26zM318.12 301.07l6.14 3.63v7.26l-6.14 3.63l-6.14 -3.63v-7.26zM330.39 301.07l6.14 3.63v7.26l-6.14 3.63l-6.14 -3.63v-7.26zM342.67 301.07l6.14 3.63v7.26l-6.14 3.63l-6.14 -3.63v-7.26zM354.95 301.07l6.14 3.63v7.26l-6.14 3.63l-6.14 -3.63v-7.26zM367.23 301.07l6.14 3.63v7.26l-6.14 3.63l-6.14 -3.63v-7.26zM379.50 301.07l6.14 3.63v7.26l-6.14 3.63l-6.14 -3.63v-7.26zM299.70 311.97l6.14 3.63v7.26l-6.14 3.63l-6.14 -3.63v-7.26zM311.98 311.97l6.14 3.63v7.26l-6.14 3.63l-6.14 -3.63v-7.26zM324.26 311.97l6.14 3.63v7.26l-6.14 3.63l-6.14 -3.63v-7.26zM336.53 311.97l6.14 3.63v7.26l-6.14 3.63l-6.14 -3.63v-7.26zM348.81 311.97l6.14 3.63v7.26l-6.14 3.63l-6.14 -3.63v-7.26zM361.09 311.97l6.14 3.63v7.26l-6.14 3.63l-6.14 -3.63v-7.26zM373.37 311.97l6.14 3.63v7.26l-6.14 3.63l-6.14 -3.63v-7.26zM385.64 311.97l6.14 3.63v7.26l-6.14 3.63l-6.14 -3.63v-7.26zM397.92 311.97l6.14 3.63v7.26l-6.14 3.63l-6.14 -3.63v-7.26zM305.84 322.87l6.14 3.63v7.26l-6.14 3.63l-6.14 -3.63v-7.26zM318.12 322.87l6.14 3.63v7.26l-6.14 3.63l-6.14 -3.63v-7.26zM330.39 322.87l6.14 3.63v7.26l-6.14 3.63l-6.14 -3.63v-7.26zM342.67 322.87l6.14 3.63v7.26l-6.14 3.63l-6.14 -3.63v-7.26zM354.95 322.87l6.14 3.63v7.26l-6.14 3.63l-6.14 -3.63v-7.26zM367.23 322.87l6.14 3.63v7.26l-6.14 3.63l-6.14 -3.63v-7.26zM379.50 322.87l6.14 3.63v7.26l-6.14 3.63l-6.14 -3.63v-7.26zM391.78 322.87l6.14 3.63v7.26l-6.14 3.63l-6.14 -3.63v-7.26zM299.70 333.76l6.14 3.63v7.26l-6.14 3.63l-6.14 -3.63v-7.26zM311.98 333.76l6.14 3.63v7.26l-6.14 3.63l-6.14 -3.63v-7.26zM324.26 333.76l6.14 3.63v7.26l-6.14 3.63l-6.14 -3.63v-7.26zM336.53 333.76l6.14 3.63v7.26l-6.14 3.63l-6.14 -3.63v-7.26zM348.81 333.76l6.14 3.63v7.26l-6.14 3.63l-6.14 -3.63v-7.26zM361.09 333.76l6.14 3.63v7.26l-6.14 3.63l-6.14 -3.63v-7.26zM373.37 333.76l6.14 3.63v7.26l-6.14 3.63l-6.14 -3.63v-7.26zM385.64 333.76l6.14 3.63v7.26l-6.14 3.63l-6.14 -3.63v-7.26zM397.92 333.76l6.14 3.63v7.26l-6.14 3.63l-6.14 -3.63v-7.26zM305.84 344.66l6.14 3.63v7.26l-6.14 3.63l-6.14 -3.63v-7.26zM318.12 344.66l6.14 3.63v7.26l-6.14 3.63l-6.14 -3.63v-7.26zM330.39 344.66l6.14 3.63v7.26l-6.14 3.63l-6.14 -3.63v-7.26zM342.67 344.66l6.14 3.63v7.26l-6.14 3.63l-6.14 -3.63v-7.26zM354.95 344.66l6.14 3.63v7.26l-6.14 3.63l-6.14 -3.63v-7.26zM367.23 344.66l6.14 3.63v7.26l-6.14 3.63l-6.14 -3.63v-7.26zM379.50 344.66l6.14 3.63v7.26l-6.14 3.63l-6.14 -3.63v-7.26zM391.78 344.66l6.14 3.63v7.26l-6.14 3.63l-6.14 -3.63v-7.26zM299.70 355.55l6.14 3.63v7.26l-6.14 3.63l-6.14 -3.63v-7.26zM311.98 355.55l6.14 3.63v7.26l-6.14 3.63l-6.14 -3.63v-7.26zM324.26 355.55l6.14 3.63v7.26l-6.14 3.63l-6.14 -3.63v-7.26zM336.53 355.55l6.14 3.63v7.26l-6.14 3.63l-6.14 -3.63v-7.26zM348.81 355.55l6.14 3.63v7.26l-6.14 3.63l-6.14 -3.63v-7.26zM361.09 355.55l6.14 3.63v7.26l-6.14 3.63l-6.14 -3.63v-7.26zM373.37 355.55l6.14 3.63v7.26l-6.14 3.63l-6.14 -3.63v-7.26zM385.64 355.55l6.14 3.63v7.26l-6.14 3.63l-6.14 -3.63v-7.26zM397.92 355.55l6.14 3.63v7.26l-6.14 3.63l-6.14 -3.63v-7.26zM305.84 366.45l6.14 3.63v7.26l-6.14 3.63l-6.14 -3.63v-7.26zM318.12 366.45l6.14 3.63v7.26l-6.14 3.63l-6.14 -3.63v-7.26zM330.39 366.45l6.14 3.63v7.26l-6.14 3.63l-6.14 -3.63v-7.26zM342.67 366.45l6.14 3.63v7.26l-6.14 3.63l-6.14 -3.63v-7.26zM354.95 366.45l6.14 3.63v7.26l-6.14 3.63l-6.14 -3.63v-7.26zM367.23 366.45l6.14 3.63v7.26l-6.14 3.63l-6.14 -3.63v-7.26zM379.50 366.45l6.14 3.63v7.26l-6.14 3.63l-6.14 -3.63v-7.26zM391.78 366.45l6.14 3.63v7.26l-6.14 3.63l-6.14 -3.63v-7.26zM299.70 377.35l6.14 3.63v7.26l-6.14 3.63l-6.14 -3.63v-7.26zM311.98 377.35l6.14 3.63v7.26l-6.14 3.63l-6.14 -3.63v-7.26zM324.26 377.35l6.14 3.63v7.26l-6.14 3.63l-6.14 -3.63v-7.26zM336.53 377.35l6.14 3.63v7.26l-6.14 3.63l-6.14 -3.63v-7.26zM348.81 377.35l6.14 3.63v7.26l-6.14 3.63l-6.14 -3.63v-7.26zM361.09 377.35l6.14 3.63v7.26l-6.14 3.63l-6.14 -3.63v-7.26zM373.37 377.35l6.14 3.63v7.26l-6.14 3.63l-6.14 -3.63v-7.26zM385.64 377.35l6.14 3.63v7.26l-6.14 3.63l-6.14 -3.63v-7.26zM397.92 377.35l6.14 3.63v7.26l-6.14 3.63l-6.14 -3.63v-7.26zM305.84 388.24l6.14 3.63v7.26l-6.14 3.63l-6.14 -3.63v-7.26zM318.12 388.24l6.14 3.63v7.26l-6.14 3.63l-6.14 -3.63v-7.26zM330.39 388.24l6.14 3.63v7.26l-6.14 3.63l-6.14 -3.63v-7.26zM342.67 388.24l6.14 3.63v7.26l-6.14 3.63l-6.14 -3.63v-7.26zM354.95 388.24l6.14 3.63v7.26l-6.14 3.63l-6.14 -3.63v-7.26zM367.23 388.24l6.14 3.63v7.26l-6.14 3.63l-6.14 -3.63v-7.26zM379.50 388.24l6.14 3.63v7.26l-6.14 3.63l-6.14 -3.63v-7.26zM391.78 388.24l6.14 3.63v7.26l-6.14 3.63l-6.14 -3.63v-7.26zM299.70 399.14l6.14 3.63v7.26l-6.14 3.63l-6.14 -3.63v-7.26zM311.98 399.14l6.14 3.63v7.26l-6.14 3.63l-6.14 -3.63v-7.26zM324.26 399.14l6.14 3.63v7.26l-6.14 3.63l-6.14 -3.63v-7.26zM336.53 399.14l6.14 3.63v7.26l-6.14 3.63l-6.14 -3.63v-7.26zM348.81 399.14l6.14 3.63v7.26l-6.14 3.63l-6.14 -3.63v-7.26zM361.09 399.14l6.14 3.63v7.26l-6.14 3.63l-6.14 -3.63v-7.26zM373.37 399.14l6.14 3.63v7.26l-6.14 3.63l-6.14 -3.63v-7.26zM385.64 399.14l6.14 3.63v7.26l-6.14 3.63l-6.14 -3.63v-7.26zM397.92 399.14l6.14 3.63v7.26l-6.14 3.63l-6.14 -3.63v-7.26zM293.56 410.03l6.14 3.63v7.26l-6.14 3.63l-6.14 -3.63v-7.26zM305.84 410.03l6.14 3.63v7.26l-6.14 3.63l-6.14 -3.63v-7.26zM318.12 410.03l6.14 3.63v7.26l-6.14 3.63l-6.14 -3.63v-7.26zM330.39 410.03l6.14 3.63v7.26l-6.14 3.63l-6.14 -3.63v-7.26zM342.67 410.03l6.14 3.63v7.26l-6.14 3.63l-6.14 -3.63v-7.26zM354.95 410.03l6.14 3.63v7.26l-6.14 3.63l-6.14 -3.63v-7.26zM367.23 410.03l6.14 3.63v7.26l-6.14 3.63l-6.14 -3.63v-7.26zM379.50 410.03l6.14 3.63v7.26l-6.14 3.63l-6.14 -3.63v-7.26zM391.78 410.03l6.14 3.63v7.26l-6.14 3.63l-6.14 -3.63v-7.26zM299.70 420.93l6.14 3.63v7.26l-6.14 3.63l-6.14 -3.63v-7.26zM311.98 420.93l6.14 3.63v7.26l-6.14 3.63l-6.14 -3.63v-7.26zM324.26 420.93l6.14 3.63v7.26l-6.14 3.63l-6.14 -3.63v-7.26zM336.53 420.93l6.14 3.63v7.26l-6.14 3.63l-6.14 -3.63v-7.26zM348.81 420.93l6.14 3.63v7.26l-6.14 3.63l-6.14 -3.63v-7.26zM361.09 420.93l6.14 3.63v7.26l-6.14 3.63l-6.14 -3.63v-7.26zM373.37 420.93l6.14 3.63v7.26l-6.14 3.63l-6.14 -3.63v-7.26zM385.64 420.93l6.14 3.63v7.26l-6.14 3.63l-6.14 -3.63v-7.26zM397.92 420.93l6.14 3.63v7.26l-6.14 3.63l-6.14 -3.63v-7.26zM293.56 431.83l6.14 3.63v7.26l-6.14 3.63l-6.14 -3.63v-7.26zM305.84 431.83l6.14 3.63v7.26l-6.14 3.63l-6.14 -3.63v-7.26zM318.12 431.83l6.14 3.63v7.26l-6.14 3.63l-6.14 -3.63v-7.26zM330.39 431.83l6.14 3.63v7.26l-6.14 3.63l-6.14 -3.63v-7.26zM342.67 431.83l6.14 3.63v7.26l-6.14 3.63l-6.14 -3.63v-7.26zM354.95 431.83l6.14 3.63v7.26l-6.14 3.63l-6.14 -3.63v-7.26zM367.23 431.83l6.14 3.63v7.26l-6.14 3.63l-6.14 -3.63v-7.26zM379.50 431.83l6.14 3.63v7.26l-6.14 3.63l-6.14 -3.63v-7.26zM391.78 431.83l6.14 3.63v7.26l-6.14 3.63l-6.14 -3.63v-7.26zM299.70 442.72l6.14 3.63v7.26l-6.14 3.63l-6.14 -3.63v-7.26zM311.98 442.72l6.14 3.63v7.26l-6.14 3.63l-6.14 -3.63v-7.26zM324.26 442.72l6.14 3.63v7.26l-6.14 3.63l-6.14 -3.63v-7.26zM336.53 442.72l6.14 3.63v7.26l-6.14 3.63l-6.14 -3.63v-7.26zM348.81 442.72l6.14 3.63v7.26l-6.14 3.63l-6.14 -3.63v-7.26zM361.09 442.72l6.14 3.63v7.26l-6.14 3.63l-6.14 -3.63v-7.26zM373.37 442.72l6.14 3.63v7.26l-6.14 3.63l-6.14 -3.63v-7.26zM385.64 442.72l6.14 3.63v7.26l-6.14 3.63l-6.14 -3.63v-7.26zM397.92 442.72l6.14 3.63v7.26l-6.14 3.63l-6.14 -3.63v-7.26zM293.56 453.62l6.14 3.63v7.26l-6.14 3.63l-6.14 -3.63v-7.26zM305.84 453.62l6.14 3.63v7.26l-6.14 3.63l-6.14 -3.63v-7.26zM318.12 453.62l6.14 3.63v7.26l-6.14 3.63l-6.14 -3.63v-7.26zM330.39 453.62l6.14 3.63v7.26l-6.14 3.63l-6.14 -3.63v-7.26zM342.67 453.62l6.14 3.63v7.26l-6.14 3.63l-6.14 -3.63v-7.26zM354.95 453.62l6.14 3.63v7.26l-6.14 3.63l-6.14 -3.63v-7.26zM367.23 453.62l6.14 3.63v7.26l-6.14 3.63l-6.14 -3.63v-7.26zM379.50 453.62l6.14 3.63v7.26l-6.14 3.63l-6.14 -3.63v-7.26zM391.78 453.62l6.14 3.63v7.26l-6.14 3.63l-6.14 -3.63v-7.26zM299.70 464.51l6.14 3.63v7.26l-6.14 3.63l-6.14 -3.63v-7.26zM311.98 464.51l6.14 3.63v7.26l-6.14 3.63l-6.14 -3.63v-7.26zM324.26 464.51l6.14 3.63v7.26l-6.14 3.63l-6.14 -3.63v-7.26zM336.53 464.51l6.14 3.63v7.26l-6.14 3.63l-6.14 -3.63v-7.26zM348.81 464.51l6.14 3.63v7.26l-6.14 3.63l-6.14 -3.63v-7.26zM361.09 464.51l6.14 3.63v7.26l-6.14 3.63l-6.14 -3.63v-7.26zM373.37 464.51l6.14 3.63v7.26l-6.14 3.63l-6.14 -3.63v-7.26zM385.64 464.51l6.14 3.63v7.26l-6.14 3.63l-6.14 -3.63v-7.26zM397.92 464.51l6.14 3.63v7.26l-6.14 3.63l-6.14 -3.63v-7.26zM330.39 475.41l6.14 3.63v7.26l-6.14 3.63l-6.14 -3.63v-7.26zM342.67 475.41l6.14 3.63v7.26l-6.14 3.63l-6.14 -3.63v-7.26zM354.95 475.41l6.14 3.63v7.26l-6.14 3.63l-6.14 -3.63v-7.26zM367.23 475.41l6.14 3.63v7.26l-6.14 3.63l-6.14 -3.63v-7.26z"/>
<path fill="#bc3647" stroke="#bc3647" d="M440.89 279.28l6.14 3.63v7.26l-6.14 3.63l-6.14 -3.63v-7.26zM244.45 410.03l6.14 3.63v7.26l-6.14 3.63l-6.14 -3.63v-7.26z"/>
<path fill="#b92d3e" stroke="#b92d3e" d="M453.17 279.28l6.14 3.63v7.26l-6.14 3.63l-6.14 -3.63v-7.26zM275.15 529.89l6.14 3.63v7.26l-6.14 3.63l-6.14 -3.63v-7.26z"/>
<path fill="#cd6975" stroke="#cd6975" d="M465.45 279.28l6.14 3.63v7.26l-6.14 3.63l-6.14 -3.63v-7.26z"/>
<path fill="#c6d8ea" stroke="#c6d8ea" d="M502.28 279.28l6.14 3.63v7.26l-6.14 3.63l-6.14 -3.63v-7.26zM502.28 301.07l6.14 3.63v7.26l-6.14 3.63l-6.14 -3.63v-7.26zM508.42 311.97l6.14 3.63v7.26l-6.14 3.63l-6.14 -3.63v-7.26zM207.62 388.24l6.14 3.63v7.26l-6.14 3.63l-6.14 -3.63v-7.26zM207.62 475.41l6.14 3.63v7.26l-6.14 3.63l-6.14 -3.63v-7.26zM207.62 519.00l6.14 3.63v7.26l-6.14 3.63l-6.14 -3.63v-7.26z"/>
<path fill="#82a9d0" stroke="#82a9d0" d="M514.56 279.28l6.14 3.63v7.26l-6.14 3.63l-6.14 -3.63v-7.26zM201.48 399.14l6.14 3.63v7.26l-6.14 3.63l-6.14 -3.63v-7.26zM195.34 453.62l6.14 3.63v7.26l-6.14 3.63l-6.14 -3.63v-7.26zM201.48 529.89l6.14 3.63v7.26l-6.14 3.63l-6.14 -3.63v-7.26zM207.62 562.58l6.14 3.63v7.26l-6.14 3.63l-6.14 -3.63v-7.26z"/>
<path fill="#f4dfe1" stroke="#f4dfe1" d="M226.04 290.18l6.14 3.63v7.26l-6.14 3.63l-6.14 -3.63v-7.26zM213.76 420.93l6.14 3.63v7.26l-6.14 3.63l-6.14 -3.63v-7.26zM213.76 464.51l6.14 3.63v7.26l-6.14 3.63l-6.14 -3.63v-7.26zM416.34 584.37l6.14 3.63v7.26l-6.14 3.63l-6.14 -3.63v-7.26z"/>
<path fill="#b82a3c" stroke="#b82a3c" d="M262.87 290.18l6.14 3.63v7.26l-6.14 3.63l-6.14 -3.63v-7.26zM269.01 301.07l6.14 3.63v7.26l-6.14 3.63l-6.14 -3.63v-7.26zM250.59 311.97l6.14 3.63v7.26l-6.14 3.63l-6.14 -3.63v-7.26zM262.87 311.97l6.14 3.63v7.26l-6.14 3.63l-6.14 -3.63v-7.26zM447.03 311.97l6.14 3.63v7.26l-6.14 3.63l-6.14 -3.63v-7.26zM453.17 344.66l6.14 3.63v7.26l-6.14 3.63l-6.14 -3.63v-7.26zM459.31 377.35l6.14 3.63v7.26l-6.14 3.63l-6.14 -3.63v-7.26zM250.59 399.14l6.14 3.63v7.26l-6.14 3.63l-6.14 -3.63v-7.26zM250.59 420.93l6.14 3.63v7.26l-6.14 3.63l-6.14 -3.63v-7.26zM250.59 442.72l6.14 3.63v7.26l-6.14 3.63l-6.14 -3.63v-7.26zM250.59 464.51l6.14 3.63v7.26l-6.14 3.63l-6.14 -3.63v-7.26zM453.17 475.41l6.14 3.63v7.26l-6.14 3.63l-6.14 -3.63v-7.26zM397.92 529.89l6.14 3.63v7.26l-6.14 3.63l-6.14 -3.63v-7.26z"/>
<path fill="#b52234" stroke="#b52234" d="M287.42 290.18l6.14 3.63v7.26l-6.14 3.63l-6.14 -3.63v-7.26z"/>
<path fill="#b41d30" stroke="#b41d30" d="M299.70 290.18l6.14 3.63v7.26l-6.14 3.63l-6.14 -3.63v-7.26zM434.75 311.97l6.14 3.63v7.26l-6.14 3.63l-6.14 -3.63v-7.26zM293.56 497.20l6.14 3.63v7.26l-6.14 3.63l-6.14 -3.63v-7.26zM391.78 497.20l6.14 3.63v7.26l-6.14 3.63l-6.14 -3.63v-7.26zM404.06 497.20l6.14 3.63v7.26l-6.14 3.63l-6.14 -3.63v-7.26z"/>
<path fill="#b52032" stroke="#b52032" d="M397.92 290.18l6.14 3.63v7.26l-6.14 3.63l-6.14 -3.63v-7.26zM428.62 497.20l6.14 3.63v7.26l-6.14 3.63l-6.14 -3.63v-7.26zM287.42 508.10l6.14 3.63v7.26l-6.14 3.63l-6.14 -3.63v-7.26zM410.20 508.10l6.14 3.63v7.26l-6.14 3.63l-6.14 -3.63v-7.26z"/>
<path fill="#b52235" stroke="#b52235" d="M410.20 290.18l6.14 3.63v7.26l-6.14 3.63l-6.14 -3.63v-7.26z"/>
<path fill="#b72637" stroke="#b72637" d="M422.48 290.18l6.14 3.63v7.26l-6.14 3.63l-6.14 -3.63v-7.26z"/>
<path fill="#b82b3d" stroke="#b82b3d" d="M434.75 290.18l6.14 3.63v7.26l-6.14 3.63l-6.14 -3.63v-7.26zM287.42 529.89l6.14 3.63v7.26l-6.14 3.63l-6.14 -3.63v-7.26z"/>
<path fill="#ce6b77" stroke="#ce6b77" d="M471.59 290.18l6.14 3.63v7.26l-6.14 3.63l-6.14 -3.63v-7.26zM483.86 399.14l6.14 3.63v7.26l-6.14 3.63l-6.14 -3.63v-7.26zM232.18 453.62l6.14 3.63v7.26l-6.14 3.63l-6.14 -3.63v-7.26zM256.73 540.79l6.14 3.63v7.26l-6.14 3.63l-6.14 -3.63v-7.26zM287.42 551.68l6.14 3.63v7.26l-6.14 3.63l-6.14 -3.63v-7.26zM299.70 551.68l6.14 3.63v7.26l-6.14 3.63l-6.14 -3.63v-7.26zM354.95 562.58l6.14 3.63v7.26l-6.14 3.63l-6.14 -3.63v-7.26z"/>
<path fill="#88add2" stroke="#88add2" d="M207.62 301.07l6.14 3.63v7.26l-6.14 3.63l-6.14 -3.63v-7.26zM207.62 322.87l6.14 3.63v7.26l-6.14 3.63l-6.14 -3.63v-7.26zM520.70 333.76l6.14 3.63v7.26l-6.14 3.63l-6.14 -3.63v-7.26zM201.48 377.35l6.14 3.63v7.26l-6.14 3.63l-6.14 -3.63v-7.26zM520.70 377.35l6.14 3.63v7.26l-6.14 3.63l-6.14 -3.63v-7.26zM520.70 399.14l6.14 3.63v7.26l-6.14 3.63l-6.14 -3.63v-7.26zM520.70 464.51l6.14 3.63v7.26l-6.14 3.63l-6.14 -3.63v-7.26z"/>
<path fill="#fcf6f7" stroke="#fcf6f7" d="M219.90 301.07l6.14 3.63v7.26l-6.14 3.63l-6.14 -3.63v-7.26zM502.28 322.87l6.14 3.63v7.26l-6.14 3.63l-6.14 -3.63v-7.26zM502.28 366.45l6.14 3.63v7.26l-6.14 3.63l-6.14 -3.63v-7.26zM213.76 377.35l6.14 3.63v7.26l-6.14 3.63l-6.14 -3.63v-7.26zM502.28 453.62l6.14 3.63v7.26l-6.14 3.63l-6.14 -3.63v-7.26zM502.28 475.41l6.14 3.63v7.26l-6.14 3.63l-6.14 -3.63v-7.26zM496.14 508.10l6.14 3.63v7.26l-6.14 3.63l-6.14 -3.63v-7.26zM471.59 573.47l6.14 3.63v7.26l-6.14 3.63l-6.14 -3.63v-7.26z"/>
<path fill="#c34b5a" stroke="#c34b5a" d="M244.45 301.07l6.14 3.63v7.26l-6.14 3.63l-6.14 -3.63v-7.26zM471.59 442.72l6.14 3.63v7.26l-6.14 3.63l-6.14 -3.63v-7.26z"/>
<path fill="#b41e31" stroke="#b41e31" d="M281.28 301.07l6.14 3.63v7.26l-6.14 3.63l-6.14 -3.63v-7.26zM281.28 497.20l6.14 3.63v7.26l-6.14 3.63l-6.14 -3.63v-7.26z"/>
<path fill="#b2192c" stroke="#b2192c" d="M293.56 301.07l6.14 3.63v7.26l-6.14 3.63l-6.14 -3.63v-7.26zM391.78 301.07l6.14 3.63v7.26l-6.14 3.63l-6.14 -3.63v-7.26zM287.42 311.97l6.14 3.63v7.26l-6.14 3.63l-6.14 -3.63v-7.26zM410.20 311.97l6.14 3.63v7.26l-6.14 3.63l-6.14 -3.63v-7.26zM293.56 322.87l6.14 3.63v7.26l-6.14 3.63l-6.14 -3.63v-7.26zM404.06 322.87l6.14 3.63v7.26l-6.14 3.63l-6.14 -3.63v-7.26zM416.34 322.87l6.14 3.63v7.26l-6.14 3.63l-6.14 -3.63v-7.26zM287.42 333.76l6.14 3.63v7.26l-6.14 3.63l-6.14 -3.63v-7.26zM410.20 333.76l6.14 3.63v7.26l-6.14 3.63l-6.14 -3.63v-7.26zM281.28 344.66l6.14 3.63v7.26l-6.14 3.63l-6.14 -3.63v-7.26zM416.34 344.66l6.14 3.63v7.26l-6.14 3.63l-6.14 -3.63v-7.26zM287.42 355.55l6.14 3.63v7.26l-6.14 3.63l-6.14 -3.63v-7.26zM410.20 355.55l6.14 3.63v7.26l-6.14 3.63l-6.14 -3.63v-7.26zM281.28 366.45l6.14 3.63v7.26l-6.14 3.63l-6.14 -3.63v-7.26zM416.34 366.45l6.14 3.63v7.26l-6.14 3.63l-6.14 -3.63v-7.26zM287.42 377.35l6.14 3.63v7.26l-6.14 3.63l-6.14 -3.63v-7.26zM410.20 377.35l6.14 3.63v7.26l-6.14 3.63l-6.14 -3.63v-7.26zM281.28 388.24l6.14 3.63v7.26l-6.14 3.63l-6.14 -3.63v-7.26zM416.34 388.24l6.14 3.63v7.26l-6.14 3.63l-6.14 -3.63v-7.26zM287.42 399.14l6.14 3.63v7.26l-6.14 3.63l-6.14 -3.63v-7.26zM410.20 399.14l6.14 3.63v7.26l-6.14 3.63l-6.14 -3.63v-7.26zM281.28 410.03l6.14 3.63v7.26l-6.14 3.63l-6.14 -3.63v-7.26zM404.06 410.03l6.14 3.63v7.26l-6.14 3.63l-6.14 -3.63v-7.26zM416.34 410.03l6.14 3.63v7.26l-6.14 3.63l-6.14 -3.63v-7.26zM287.42 420.93l6.14 3.63v7.26l-6.14 3.63l-6.14 -3.63v-7.26zM410.20 420.93l6.14 3.63v7.26l-6.14 3.63l-6.14 -3.63v-7.26zM281.28 431.83l6.14 3.63v7.26l-6.14 3.63l-6.14 -3.63v-7.26zM404.06 431.83l6.14 3.63v7.26l-6.14 3.63l-6.14 -3.63v-7.26zM416.34 431.83l6.14 3.63v7.26l-6.14 3.63l-6.14 -3.63v-7.26zM287.42 442.72l6.14 3.63v7.26l-6.14 3.63l-6.14 -3.63v-7.26zM410.20 442.72l6.14 3.63v7.26l-6.14 3.63l-6.14 -3.63v-7.26zM281.28 453.62l6.14 3.63v7.26l-6.14 3.63l-6.14 -3.63v-7.26zM404.06 453.62l6.14 3.63v7.26l-6.14 3.63l-6.14 -3.63v-7.26zM416.34 453.62l6.14 3.63v7.26l-6.14 3.63l-6.14 -3.63v-7.26zM287.42 464.51l6.14 3.63v7.26l-6.14 3.63l-6.14 -3.63v-7.26zM410.20 464.51l6.14 3.63v7.26l-6.14 3.63l-6.14 -3.63v-7.26zM293.56 475.41l6.14 3.63v7.26l-6.14 3.63l-6.14 -3.63v-7.26zM305.84 475.41l6.14 3.63v7.26l-6.14 3.63l-6.14 -3.63v-7.26zM379.50 475.41l6.14 3.63v7.26l-6.14 3.63l-6.14 -3.63v-7.26zM391.78 475.41l6.14 3.63v7.26l-6.14 3.63l-6.14 -3.63v-7.26zM404.06 475.41l6.14 3.63v7.26l-6.14 3.63l-6.14 -3.63v-7.26z"/>
<path fill="#b31b2d" stroke="#b31b2d" d="M404.06 301.07l6.14 3.63v7.26l-6.14 3.63l-6.14 -3.63v-7.26zM299.70 486.31l6.14 3.63v7.26l-6.14 3.63l-6.14 -3.63v-7.26zM385.64 486.31l6.14 3.63v7.26l-6.14 3.63l-6.14 -3.63v-7.26zM397.92 486.31l6.14 3.63v7.26l-6.14 3.63l-6.14 -3.63v-7.26z"/>
<path fill="#b31c2f" stroke="#b31c2f" d="M416.34 301.07l6.14 3.63v7.26l-6.14 3.63l-6.14 -3.63v-7.26zM434.75 333.76l6.14 3.63v7.26l-6.14 3.63l-6.14 -3.63v-7.26zM269.01 344.66l6.14 3.63v7.26l-6.14 3.63l-6.14 -3.63v-7.26zM434.75 355.55l6.14 3.63v7.26l-6.14 3.63l-6.14 -3.63v-7.26zM269.01 366.45l6.14 3.63v7.26l-6.14 3.63l-6.14 -3.63v-7.26zM434.75 377.35l6.14 3.63v7.26l-6.14 3.63l-6.14 -3.63v-7.26zM269.01 388.24l6.14 3.63v7.26l-6.14 3.63l-6.14 -3.63v-7.26zM434.75 399.14l6.14 3.63v7.26l-6.14 3.63l-6.14 -3.63v-7.26zM269.01 410.03l6.14 3.63v7.26l-6.14 3.63l-6.14 -3.63v-7.26zM434.75 420.93l6.14 3.63v7.26l-6.14 3.63l-6.14 -3.63v-7.26zM269.01 431.83l6.14 3.63v7.26l-6.14 3.63l-6.14 -3.63v-7.26zM434.75 442.72l6.14 3.63v7.26l-6.14 3.63l-6.14 -3.63v-7.26zM269.01 453.62l6.14 3.63v7.26l-6.14 3.63l-6.14 -3.63v-7.26zM269.01 475.41l6.14 3.63v7.26l-6.14 3.63l-6.14 -3.63v-7.26zM422.48 486.31l6.14 3.63v7.26l-6.14 3.63l-6.14 -3.63v-7.26z"/>
<path fill="#b41f32" stroke="#b41f32" d="M428.62 301.07l6.14 3.63v7.26l-6.14 3.63l-6.14 -3.63v-7.26zM299.70 508.10l6.14 3.63v7.26l-6.14 3.63l-6.14 -3.63v-7.26zM385.64 508.10l6.14 3.63v7.26l-6.14 3.63l-6.14 -3.63v-7.26zM397.92 508.10l6.14 3.63v7.26l-6.14 3.63l-6.14 -3.63v-7.26z"/>
<path fill="#bd3849" stroke="#bd3849" d="M453.17 301.07l6.14 3.63v7.26l-6.14 3.63l-6.14 -3.63v-7.26zM453.17 322.87l6.14 3.63v7.26l-6.14 3.63l-6.14 -3.63v-7.26zM459.31 333.76l6.14 3.63v7.26l-6.14 3.63l-6.14 -3.63v-7.26zM465.45 366.45l6.14 3.63v7.26l-6.14 3.63l-6.14 -3.63v-7.26zM465.45 388.24l6.14 3.63v7.26l-6.14 3.63l-6.14 -3.63v-7.26zM465.45 410.03l6.14 3.63v7.26l-6.14 3.63l-6.14 -3.63v-7.26zM465.45 431.83l6.14 3.63v7.26l-6.14 3.63l-6.14 -3.63v-7.26zM459.31 464.51l6.14 3.63v7.26l-6.14 3.63l-6.14 -3.63v-7.26zM459.31 508.10l6.14 3.63v7.26l-6.14 3.63l-6.14 -3.63v-7.26zM422.48 529.89l6.14 3.63v7.26l-6.14 3.63l-6.14 -3.63v-7.26zM318.12 540.79l6.14 3.63v7.26l-6.14 3.63l-6.14 -3.63v-7.26zM330.39 540.79l6.14 3.63v7.26l-6.14 3.63l-6.14 -3.63v-7.26zM342.67 540.79l6.14 3.63v7.26l-6.14 3.63l-6.14 -3.63v-7.26zM354.95 540.79l6.14 3.63v7.26l-6.14 3.63l-6.14 -3.63v-7.26zM367.23 540.79l6.14 3.63v7.26l-6.14 3.63l-6.14 -3.63v-7.26zM379.50 540.79l6.14 3.63v7.26l-6.14 3.63l-6.14 -3.63v-7.26zM391.78 540.79l6.14 3.63v7.26l-6.14 3.63l-6.14 -3.63v-7.26z"/>
<path fill="#c95d6b" stroke="#c95d6b" d="M465.45 301.07l6.14 3.63v7.26l-6.14 3.63l-6.14 -3.63v-7.26zM471.59 311.97l6.14 3.63v7.26l-6.14 3.63l-6.14 -3.63v-7.26zM471.59 333.76l6.14 3.63v7.26l-6.14 3.63l-6.14 -3.63v-7.26zM477.72 344.66l6.14 3.63v7.26l-6.14 3.63l-6.14 -3.63v-7.26zM238.31 355.55l6.14 3.63v7.26l-6.14 3.63l-6.14 -3.63v-7.26zM477.72 366.45l6.14 3.63v7.26l-6.14 3.63l-6.14 -3.63v-7.26zM238.31 377.35l6.14 3.63v7.26l-6.14 3.63l-6.14 -3.63v-7.26zM238.31 399.14l6.14 3.63v7.26l-6.14 3.63l-6.14 -3.63v-7.26zM238.31 420.93l6.14 3.63v7.26l-6.14 3.63l-6.14 -3.63v-7.26zM477.72 431.83l6.14 3.63v7.26l-6.14 3.63l-6.14 -3.63v-7.26zM477.72 453.62l6.14 3.63v7.26l-6.14 3.63l-6.14 -3.63v-7.26zM471.59 508.10l6.14 3.63v7.26l-6.14 3.63l-6.14 -3.63v-7.26zM269.01 540.79l6.14 3.63v7.26l-6.14 3.63l-6.14 -3.63v-7.26z"/>
<path fill="#4981bb" stroke="#4981bb" d="M526.83 301.07l6.14 3.63v7.26l-6.14 3.63l-6.14 -3.63v-7.26zM189.20 333.76l6.14 3.63v7.26l-6.14 3.63l-6.14 -3.63v-7.26z"/>
<path fill="#286bae" stroke="#286bae" d="M551.39 301.07l6.14 3.63v7.26l-6.14 3.63l-6.14 -3.63v-7.26zM557.53 333.76l6.14 3.63v7.26l-6.14 3.63l-6.14 -3.63v-7.26zM557.53 355.55l6.14 3.63v7.26l-6.14 3.63l-6.14 -3.63v-7.26zM226.04 638.85l6.14 3.63v7.26l-6.14 3.63l-6.14 -3.63v-7.26z"/>
<path fill="#286baf" stroke="#286baf" d="M164.65 311.97l6.14 3.63v7.26l-6.14 3.63l-6.14 -3.63v-7.26zM551.39 540.79l6.14 3.63v7.26l-6.14 3.63l-6.14 -3.63v-7.26zM164.65 551.68l6.14 3.63v7.26l-6.14 3.63l-6.14 -3.63v-7.26z"/>
<path fill="#b9cfe5" stroke="#b9cfe5" d="M213.76 311.97l6.14 3.63v7.26l-6.14 3.63l-6.14 -3.63v-7.26zM508.42 508.10l6.14 3.63v7.26l-6.14 3.63l-6.14 -3.63v-7.26zM483.86 573.47l6.14 3.63v7.26l-6.14 3.63l-6.14 -3.63v-7.26zM232.18 584.37l6.14 3.63v7.26l-6.14 3.63l-6.14 -3.63v-7.26z"/>
<path fill="#d17480" stroke="#d17480" d="M238.31 311.97l6.14 3.63v7.26l-6.14 3.63l-6.14 -3.63v-7.26zM477.72 322.87l6.14 3.63v7.26l-6.14 3.63l-6.14 -3.63v-7.26zM238.31 333.76l6.14 3.63v7.26l-6.14 3.63l-6.14 -3.63v-7.26zM483.86 355.55l6.14 3.63v7.26l-6.14 3.63l-6.14 -3.63v-7.26zM232.18 366.45l6.14 3.63v7.26l-6.14 3.63l-6.14 -3.63v-7.26zM483.86 377.35l6.14 3.63v7.26l-6.14 3.63l-6.14 -3.63v-7.26zM232.18 388.24l6.14 3.63v7.26l-6.14 3.63l-6.14 -3.63v-7.26zM232.18 410.03l6.14 3.63v7.26l-6.14 3.63l-6.14 -3.63v-7.26zM483.86 420.93l6.14 3.63v7.26l-6.14 3.63l-6.14 -3.63v-7.26zM232.18 431.83l6.14 3.63v7.26l-6.14 3.63l-6.14 -3.63v-7.26zM483.86 442.72l6.14 3.63v7.26l-6.14 3.63l-6.14 -3.63v-7.26zM483.86 464.51l6.14 3.63v7.26l-6.14 3.63l-6.14 -3.63v-7.26zM232.18 475.41l6.14 3.63v7.26l-6.14 3.63l-6.14 -3.63v-7.26zM262.87 551.68l6.14 3.63v7.26l-6.14 3.63l-6.14 -3.63v-7.26zM275.15 551.68l6.14 3.63v7.26l-6.14 3.63l-6.14 -3.63v-7.26zM434.75 551.68l6.14 3.63v7.26l-6.14 3.63l-6.14 -3.63v-7.26zM447.03 551.68l6.14 3.63v7.26l-6.14 3.63l-6.14 -3.63v-7.26zM342.67 562.58l6.14 3.63v7.26l-6.14 3.63l-6.14 -3.63v-7.26z"/>
<path fill="#b31b2e" stroke="#b31b2e" d="M275.15 311.97l6.14 3.63v7.26l-6.14 3.63l-6.14 -3.63v-7.26zM428.62 322.87l6.14 3.63v7.26l-6.14 3.63l-6.14 -3.63v-7.26zM428.62 344.66l6.14 3.63v7.26l-6.14 3.63l-6.14 -3.63v-7.26zM428.62 366.45l6.14 3.63v7.26l-6.14 3.63l-6.14 -3.63v-7.26zM428.62 388.24l6.14 3.63v7.26l-6.14 3.63l-6.14 -3.63v-7.26zM428.62 410.03l6.14 3.63v7.26l-6.14 3.63l-6.14 -3.63v-7.26zM428.62 431.83l6.14 3.63v7.26l-6.14 3.63l-6.14 -3.63v-7.26zM428.62 453.62l6.14 3.63v7.26l-6.14 3.63l-6.14 -3.63v-7.26zM428.62 475.41l6.14 3.63v7.26l-6.14 3.63l-6.14 -3.63v-7.26zM287.42 486.31l6.14 3.63v7.26l-6.14 3.63l-6.14 -3.63v-7.26zM410.20 486.31l6.14 3.63v7.26l-6.14 3.63l-6.14 -3.63v-7.26z"/>
<path fill="#b31a2d" stroke="#b31a2d" d="M422.48 311.97l6.14 3.63v7.26l-6.14 3.63l-6.14 -3.63v-7.26zM281.28 322.87l6.14 3.63v7.26l-6.14 3.63l-6.14 -3.63v-7.26zM275.15 333.76l6.14 3.63v7.26l-6.14 3.63l-6.14 -3.63v-7.26zM422.48 333.76l6.14 3.63v7.26l-6.14 3.63l-6.14 -3.63v-7.26zM275.15 355.55l6.14 3.63v7.26l-6.14 3.63l-6.14 -3.63v-7.26zM422.48 355.55l6.14 3.63v7.26l-6.14 3.63l-6.14 -3.63v-7.26zM275.15 377.35l6.14 3.63v7.26l-6.14 3.63l-6.14 -3.63v-7.26zM422.48 377.35l6.14 3.63v7.26l-6.14 3.63l-6.14 -3.63v-7.26zM275.15 399.14l6.14 3.63v7.26l-6.14 3.63l-6.14 -3.63v-7.26zM422.48 399.14l6.14 3.63v7.26l-6.14 3.63l-6.14 -3.63v-7.26zM275.15 420.93l6.14 3.63v7.26l-6.14 3.63l-6.14 -3.63v-7.26zM422.48 420.93l6.14 3.63v7.26l-6.14 3.63l-6.14 -3.63v-7.26zM275.15 442.72l6.14 3.63v7.26l-6.14 3.63l-6.14 -3.63v-7.26zM422.48 442.72l6.14 3.63v7.26l-6.14 3.63l-6.14 -3.63v-7.26zM275.15 464.51l6.14 3.63v7.26l-6.14 3.63l-6.14 -3.63v-7.26zM422.48 464.51l6.14 3.63v7.26l-6.14 3.63l-6.14 -3.63v-7.26zM281.28 475.41l6.14 3.63v7.26l-6.14 3.63l-6.14 -3.63v-7.26zM416.34 475.41l6.14 3.63v7.26l-6.14 3.63l-6.14 -3.63v-7.26zM311.98 486.31l6.14 3.63v7.26l-6.14 3.63l-6.14 -3.63v-7.26zM324.26 486.31l6.14 3.63v7.26l-6.14 3.63l-6.14 -3.63v-7.26zM336.53 486.31l6.14 3.63v7.26l-6.14 3.63l-6.14 -3.63v-7.26zM348.81 486.31l6.14 3.63v7.26l-6.14 3.63l-6.14 -3.63v-7.26zM361.09 486.31l6.14 3.63v7.26l-6.14 3.63l-6.14 -3.63v-7.26zM373.37 486.31l6.14 3.63v7.26l-6.14 3.63l-6.14 -3.63v-7.26z"/>
<path fill="#c14655" stroke="#c14655" d="M459.31 311.97l6.14 3.63v7.26l-6.14 3.63l-6.14 -3.63v-7.26zM471.59 355.55l6.14 3.63v7.26l-6.14 3.63l-6.14 -3.63v-7.26zM471.59 399.14l6.14 3.63v7.26l-6.14 3.63l-6.14 -3.63v-7.26zM471.59 420.93l6.14 3.63v7.26l-6.14 3.63l-6.14 -3.63v-7.26zM465.45 475.41l6.14 3.63v7.26l-6.14 3.63l-6.14 -3.63v-7.26zM428.62 540.79l6.14 3.63v7.26l-6.14 3.63l-6.14 -3.63v-7.26z"/>
<path fill="#6998c7" stroke="#6998c7" d="M520.70 311.97l6.14 3.63v7.26l-6.14 3.63l-6.14 -3.63v-7.26zM195.34 366.45l6.14 3.63v7.26l-6.14 3.63l-6.14 -3.63v-7.26zM526.83 388.24l6.14 3.63v7.26l-6.14 3.63l-6.14 -3.63v-7.26zM526.83 431.83l6.14 3.63v7.26l-6.14 3.63l-6.14 -3.63v-7.26zM520.70 508.10l6.14 3.63v7.26l-6.14 3.63l-6.14 -3.63v-7.26zM195.34 519.00l6.14 3.63v7.26l-6.14 3.63l-6.14 -3.63v-7.26z"/>
<path fill="#2c6eb0" stroke="#2c6eb0" d="M545.25 311.97l6.14 3.63v7.26l-6.14 3.63l-6.14 -3.63v-7.26zM545.25 529.89l6.14 3.63v7.26l-6.14 3.63l-6.14 -3.63v-7.26zM183.06 584.37l6.14 3.63v7.26l-6.14 3.63l-6.14 -3.63v-7.26z"/>
<path fill="#be3d4d" stroke="#be3d4d" d="M244.45 322.87l6.14 3.63v7.26l-6.14 3.63l-6.14 -3.63v-7.26zM244.45 344.66l6.14 3.63v7.26l-6.14 3.63l-6.14 -3.63v-7.26zM465.45 344.66l6.14 3.63v7.26l-6.14 3.63l-6.14 -3.63v-7.26zM471.59 377.35l6.14 3.63v7.26l-6.14 3.63l-6.14 -3.63v-7.26zM465.45 453.62l6.14 3.63v7.26l-6.14 3.63l-6.14 -3.63v-7.26zM434.75 529.89l6.14 3.63v7.26l-6.14 3.63l-6.14 -3.63v-7.26zM293.56 540.79l6.14 3.63v7.26l-6.14 3.63l-6.14 -3.63v-7.26zM404.06 540.79l6.14 3.63v7.26l-6.14 3.63l-6.14 -3.63v-7.26zM416.34 540.79l6.14 3.63v7.26l-6.14 3.63l-6.14 -3.63v-7.26z"/>
<path fill="#3272b2" stroke="#3272b2" d="M176.93 333.76l6.14 3.63v7.26l-6.14 3.63l-6.14 -3.63v-7.26zM453.17 627.96l6.14 3.63v7.26l-6.14 3.63l-6.14 -3.63v-7.26z"/>
<path fill="#e2ebf4" stroke="#e2ebf4" d="M213.76 333.76l6.14 3.63v7.26l-6.14 3.63l-6.14 -3.63v-7.26z"/>
<path fill="#eac1c6" stroke="#eac1c6" d="M226.04 333.76l6.14 3.63v7.26l-6.14 3.63l-6.14 -3.63v-7.26z"/>
<path fill="#bb3444" stroke="#bb3444" d="M250.59 333.76l6.14 3.63v7.26l-6.14 3.63l-6.14 -3.63v-7.26zM244.45 366.45l6.14 3.63v7.26l-6.14 3.63l-6.14 -3.63v-7.26zM244.45 388.24l6.14 3.63v7.26l-6.14 3.63l-6.14 -3.63v-7.26zM459.31 442.72l6.14 3.63v7.26l-6.14 3.63l-6.14 -3.63v-7.26z"/>
<path fill="#eeccd0" stroke="#eeccd0" d="M496.14 333.76l6.14 3.63v7.26l-6.14 3.63l-6.14 -3.63v-7.26z"/>
<path fill="#d7e3f0" stroke="#d7e3f0" d="M508.42 333.76l6.14 3.63v7.26l-6.14 3.63l-6.14 -3.63v-7.26z"/>
<path fill="#b2192b" stroke="#b2192b" d="M293.56 344.66l6.14 3.63v7.26l-6.14 3.63l-6.14 -3.63v-7.26zM404.06 344.66l6.14 3.63v7.26l-6.14 3.63l-6.14 -3.63v-7.26zM293.56 366.45l6.14 3.63v7.26l-6.14 3.63l-6.14 -3.63v-7.26zM404.06 366.45l6.14 3.63v7.26l-6.14 3.63l-6.14 -3.63v-7.26zM293.56 388.24l6.14 3.63v7.26l-6.14 3.63l-6.14 -3.63v-7.26zM404.06 388.24l6.14 3.63v7.26l-6.14 3.63l-6.14 -3.63v-7.26zM318.12 475.41l6.14 3.63v7.26l-6.14 3.63l-6.14 -3.63v-7.26z"/>
<path fill="#f6f9fc" stroke="#f6f9fc" d="M213.76 355.55l6.14 3.63v7.26l-6.14 3.63l-6.14 -3.63v-7.26zM508.42 420.93l6.14 3.63v7.26l-6.14 3.63l-6.14 -3.63v-7.26z"/>
<path fill="#b41f31" stroke="#b41f31" d="M262.87 355.55l6.14 3.63v7.26l-6.14 3.63l-6.14 -3.63v-7.26zM262.87 377.35l6.14 3.63v7.26l-6.14 3.63l-6.14 -3.63v-7.26zM262.87 399.14l6.14 3.63v7.26l-6.14 3.63l-6.14 -3.63v-7.26zM262.87 420.93l6.14 3.63v7.26l-6.14 3.63l-6.14 -3.63v-7.26zM262.87 442.72l6.14 3.63v7.26l-6.14 3.63l-6.14 -3.63v-7.26zM262.87 464.51l6.14 3.63v7.26l-6.14 3.63l-6.14 -3.63v-7.26zM434.75 486.31l6.14 3.63v7.26l-6.14 3.63l-6.14 -3.63v-7.26zM311.98 508.10l6.14 3.63v7.26l-6.14 3.63l-6.14 -3.63v-7.26zM324.26 508.10l6.14 3.63v7.26l-6.14 3.63l-6.14 -3.63v-7.26zM336.53 508.10l6.14 3.63v7.26l-6.14 3.63l-6.14 -3.63v-7.26zM348.81 508.10l6.14 3.63v7.26l-6.14 3.63l-6.14 -3.63v-7.26zM361.09 508.10l6.14 3.63v7.26l-6.14 3.63l-6.14 -3.63v-7.26zM373.37 508.10l6.14 3.63v7.26l-6.14 3.63l-6.14 -3.63v-7.26z"/>
<path fill="#e0eaf3" stroke="#e0eaf3" d="M508.42 355.55l6.14 3.63v7.26l-6.14 3.63l-6.14 -3.63v-7.26z"/>
<path fill="#3070b1" stroke="#3070b1" d="M545.25 355.55l6.14 3.63v7.26l-6.14 3.63l-6.14 -3.63v-7.26z"/>
<path fill="#b62335" stroke="#b62335" d="M256.73 366.45l6.14 3.63v7.26l-6.14 3.63l-6.14 -3.63v-7.26zM256.73 388.24l6.14 3.63v7.26l-6.14 3.63l-6.14 -3.63v-7.26zM256.73 410.03l6.14 3.63v7.26l-6.14 3.63l-6.14 -3.63v-7.26zM256.73 431.83l6.14 3.63v7.26l-6.14 3.63l-6.14 -3.63v-7.26zM256.73 453.62l6.14 3.63v7.26l-6.14 3.63l-6.14 -3.63v-7.26zM256.73 475.41l6.14 3.63v7.26l-6.14 3.63l-6.14 -3.63v-7.26z"/>
<path fill="#b3cbe3" stroke="#b3cbe3" d="M514.56 366.45l6.14 3.63v7.26l-6.14 3.63l-6.14 -3.63v-7.26zM514.56 388.24l6.14 3.63v7.26l-6.14 3.63l-6.14 -3.63v-7.26zM514.56 410.03l6.14 3.63v7.26l-6.14 3.63l-6.14 -3.63v-7.26zM514.56 475.41l6.14 3.63v7.26l-6.14 3.63l-6.14 -3.63v-7.26zM201.48 486.31l6.14 3.63v7.26l-6.14 3.63l-6.14 -3.63v-7.26zM496.14 551.68l6.14 3.63v7.26l-6.14 3.63l-6.14 -3.63v-7.26zM490.00 562.58l6.14 3.63v7.26l-6.14 3.63l-6.14 -3.63v-7.26z"/>
<path fill="#b82b3c" stroke="#b82b3c" d="M250.59 377.35l6.14 3.63v7.26l-6.14 3.63l-6.14 -3.63v-7.26zM299.70 529.89l6.14 3.63v7.26l-6.14 3.63l-6.14 -3.63v-7.26zM311.98 529.89l6.14 3.63v7.26l-6.14 3.63l-6.14 -3.63v-7.26zM324.26 529.89l6.14 3.63v7.26l-6.14 3.63l-6.14 -3.63v-7.26zM336.53 529.89l6.14 3.63v7.26l-6.14 3.63l-6.14 -3.63v-7.26zM348.81 529.89l6.14 3.63v7.26l-6.14 3.63l-6.14 -3.63v-7.26zM361.09 529.89l6.14 3.63v7.26l-6.14 3.63l-6.14 -3.63v-7.26zM373.37 529.89l6.14 3.63v7.26l-6.14 3.63l-6.14 -3.63v-7.26zM385.64 529.89l6.14 3.63v7.26l-6.14 3.63l-6.14 -3.63v-7.26z"/>
<path fill="#e9bec4" stroke="#e9bec4" d="M219.90 388.24l6.14 3.63v7.26l-6.14 3.63l-6.14 -3.63v-7.26zM219.90 431.83l6.14 3.63v7.26l-6.14 3.63l-6.14 -3.63v-7.26zM471.59 551.68l6.14 3.63v7.26l-6.14 3.63l-6.14 -3.63v-7.26zM447.03 573.47l6.14 3.63v7.26l-6.14 3.63l-6.14 -3.63v-7.26zM318.12 584.37l6.14 3.63v7.26l-6.14 3.63l-6.14 -3.63v-7.26z"/>
<path fill="#d78791" stroke="#d78791" d="M490.00 388.24l6.14 3.63v7.26l-6.14 3.63l-6.14 -3.63v-7.26zM465.45 540.79l6.14 3.63v7.26l-6.14 3.63l-6.14 -3.63v-7.26zM269.01 562.58l6.14 3.63v7.26l-6.14 3.63l-6.14 -3.63v-7.26zM379.50 562.58l6.14 3.63v7.26l-6.14 3.63l-6.14 -3.63v-7.26zM373.37 573.47l6.14 3.63v7.26l-6.14 3.63l-6.14 -3.63v-7.26z"/>
<path fill="#fdfafb" stroke="#fdfafb" d="M213.76 399.14l6.14 3.63v7.26l-6.14 3.63l-6.14 -3.63v-7.26z"/>
<path fill="#2a6db0" stroke="#2a6db0" d="M551.39 410.03l6.14 3.63v7.26l-6.14 3.63l-6.14 -3.63v-7.26zM164.65 442.72l6.14 3.63v7.26l-6.14 3.63l-6.14 -3.63v-7.26zM164.65 464.51l6.14 3.63v7.26l-6.14 3.63l-6.14 -3.63v-7.26zM164.65 508.10l6.14 3.63v7.26l-6.14 3.63l-6.14 -3.63v-7.26zM176.93 573.47l6.14 3.63v7.26l-6.14 3.63l-6.14 -3.63v-7.26z"/>
<path fill="#2a6cb0" stroke="#2a6cb0" d="M164.65 420.93l6.14 3.63v7.26l-6.14 3.63l-6.14 -3.63v-7.26zM551.39 431.83l6.14 3.63v7.26l-6.14 3.63l-6.14 -3.63v-7.26z"/>
<path fill="#bc3646" stroke="#bc3646" d="M244.45 431.83l6.14 3.63v7.26l-6.14 3.63l-6.14 -3.63v-7.26zM244.45 453.62l6.14 3.63v7.26l-6.14 3.63l-6.14 -3.63v-7.26zM244.45 475.41l6.14 3.63v7.26l-6.14 3.63l-6.14 -3.63v-7.26z"/>
<path fill="#c0d3e7" stroke="#c0d3e7" d="M514.56 431.83l6.14 3.63v7.26l-6.14 3.63l-6.14 -3.63v-7.26zM514.56 453.62l6.14 3.63v7.26l-6.14 3.63l-6.14 -3.63v-7.26z"/>
<path fill="#578bc0" stroke="#578bc0" d="M189.20 442.72l6.14 3.63v7.26l-6.14 3.63l-6.14 -3.63v-7.26zM416.34 606.16l6.14 3.63v7.26l-6.14 3.63l-6.14 -3.63v-7.26z"/>
<path fill="#f7e6e8" stroke="#f7e6e8" d="M213.76 442.72l6.14 3.63v7.26l-6.14 3.63l-6.14 -3.63v-7.26z"/>
<path fill="#b62436" stroke="#b62436" d="M447.03 442.72l6.14 3.63v7.26l-6.14 3.63l-6.14 -3.63v-7.26zM434.75 508.10l6.14 3.63v7.26l-6.14 3.63l-6.14 -3.63v-7.26zM293.56 519.00l6.14 3.63v7.26l-6.14 3.63l-6.14 -3.63v-7.26zM305.84 519.00l6.14 3.63v7.26l-6.14 3.63l-6.14 -3.63v-7.26zM318.12 519.00l6.14 3.63v7.26l-6.14 3.63l-6.14 -3.63v-7.26zM330.39 519.00l6.14 3.63v7.26l-6.14 3.63l-6.14 -3.63v-7.26zM342.67 519.00l6.14 3.63v7.26l-6.14 3.63l-6.14 -3.63v-7.26zM354.95 519.00l6.14 3.63v7.26l-6.14 3.63l-6.14 -3.63v-7.26zM367.23 519.00l6.14 3.63v7.26l-6.14 3.63l-6.14 -3.63v-7.26zM379.50 519.00l6.14 3.63v7.26l-6.14 3.63l-6.14 -3.63v-7.26z"/>
<path fill="#e7b7bd" stroke="#e7b7bd" d="M496.14 442.72l6.14 3.63v7.26l-6.14 3.63l-6.14 -3.63v-7.26z"/>
<path fill="#c24857" stroke="#c24857" d="M238.31 464.51l6.14 3.63v7.26l-6.14 3.63l-6.14 -3.63v-7.26z"/>
<path fill="#c44f5e" stroke="#c44f5e" d="M471.59 464.51l6.14 3.63v7.26l-6.14 3.63l-6.14 -3.63v-7.26zM281.28 540.79l6.14 3.63v7.26l-6.14 3.63l-6.14 -3.63v-7.26zM305.84 540.79l6.14 3.63v7.26l-6.14 3.63l-6.14 -3.63v-7.26z"/>
<path fill="#2f6fb1" stroke="#2f6fb1" d="M545.25 464.51l6.14 3.63v7.26l-6.14 3.63l-6.14 -3.63v-7.26zM483.86 595.27l6.14 3.63v7.26l-6.14 3.63l-6.14 -3.63v-7.26zM465.45 606.16l6.14 3.63v7.26l-6.14 3.63l-6.14 -3.63v-7.26zM232.18 627.96l6.14 3.63v7.26l-6.14 3.63l-6.14 -3.63v-7.26zM281.28 627.96l6.14 3.63v7.26l-6.14 3.63l-6.14 -3.63v-7.26zM416.34 627.96l6.14 3.63v7.26l-6.14 3.63l-6.14 -3.63v-7.26z"/>
<path fill="#598dc1" stroke="#598dc1" d="M189.20 486.31l6.14 3.63v7.26l-6.14 3.63l-6.14 -3.63v-7.26zM526.83 497.20l6.14 3.63v7.26l-6.14 3.63l-6.14 -3.63v-7.26z"/>
<path fill="#b92c3d" stroke="#b92c3d" d="M250.59 486.31l6.14 3.63v7.26l-6.14 3.63l-6.14 -3.63v-7.26z"/>
<path fill="#c34c5b" stroke="#c34c5b" d="M471.59 486.31l6.14 3.63v7.26l-6.14 3.63l-6.14 -3.63v-7.26z"/>
<path fill="#d47f8a" stroke="#d47f8a" d="M483.86 486.31l6.14 3.63v7.26l-6.14 3.63l-6.14 -3.63v-7.26z"/>
<path fill="#efcfd3" stroke="#efcfd3" d="M496.14 486.31l6.14 3.63v7.26l-6.14 3.63l-6.14 -3.63v-7.26z"/>
<path fill="#bd3a4a" stroke="#bd3a4a" d="M244.45 497.20l6.14 3.63v7.26l-6.14 3.63l-6.14 -3.63v-7.26z"/>
<path fill="#b72739" stroke="#b72739" d="M256.73 497.20l6.14 3.63v7.26l-6.14 3.63l-6.14 -3.63v-7.26zM269.01 519.00l6.14 3.63v7.26l-6.14 3.63l-6.14 -3.63v-7.26z"/>
<path fill="#b52033" stroke="#b52033" d="M269.01 497.20l6.14 3.63v7.26l-6.14 3.63l-6.14 -3.63v-7.26z"/>
<path fill="#b41e30" stroke="#b41e30" d="M416.34 497.20l6.14 3.63v7.26l-6.14 3.63l-6.14 -3.63v-7.26z"/>
<path fill="#cc6571" stroke="#cc6571" d="M477.72 497.20l6.14 3.63v7.26l-6.14 3.63l-6.14 -3.63v-7.26z"/>
<path fill="#e1a6ad" stroke="#e1a6ad" d="M490.00 497.20l6.14 3.63v7.26l-6.14 3.63l-6.14 -3.63v-7.26z"/>
<path fill="#ba3041" stroke="#ba3041" d="M250.59 508.10l6.14 3.63v7.26l-6.14 3.63l-6.14 -3.63v-7.26z"/>
<path fill="#b62537" stroke="#b62537" d="M262.87 508.10l6.14 3.63v7.26l-6.14 3.63l-6.14 -3.63v-7.26zM281.28 519.00l6.14 3.63v7.26l-6.14 3.63l-6.14 -3.63v-7.26z"/>
<path fill="#e1a5ac" stroke="#e1a5ac" d="M483.86 508.10l6.14 3.63v7.26l-6.14 3.63l-6.14 -3.63v-7.26zM459.31 551.68l6.14 3.63v7.26l-6.14 3.63l-6.14 -3.63v-7.26z"/>
<path fill="#bf4050" stroke="#bf4050" d="M244.45 519.00l6.14 3.63v7.26l-6.14 3.63l-6.14 -3.63v-7.26z"/>
<path fill="#b92e3f" stroke="#b92e3f" d="M256.73 519.00l6.14 3.63v7.26l-6.14 3.63l-6.14 -3.63v-7.26z"/>
<path fill="#d88993" stroke="#d88993" d="M477.72 519.00l6.14 3.63v7.26l-6.14 3.63l-6.14 -3.63v-7.26z"/>
<path fill="#f3dcdf" stroke="#f3dcdf" d="M490.00 519.00l6.14 3.63v7.26l-6.14 3.63l-6.14 -3.63v-7.26zM226.04 551.68l6.14 3.63v7.26l-6.14 3.63l-6.14 -3.63v-7.26zM391.78 584.37l6.14 3.63v7.26l-6.14 3.63l-6.14 -3.63v-7.26z"/>
<path fill="#7ba4ce" stroke="#7ba4ce" d="M514.56 519.00l6.14 3.63v7.26l-6.14 3.63l-6.14 -3.63v-7.26z"/>
<path fill="#be3c4c" stroke="#be3c4c" d="M250.59 529.89l6.14 3.63v7.26l-6.14 3.63l-6.14 -3.63v-7.26z"/>
<path fill="#9ab9d9" stroke="#9ab9d9" d="M508.42 529.89l6.14 3.63v7.26l-6.14 3.63l-6.14 -3.63v-7.26zM477.72 584.37l6.14 3.63v7.26l-6.14 3.63l-6.14 -3.63v-7.26z"/>
<path fill="#5d8fc2" stroke="#5d8fc2" d="M520.70 529.89l6.14 3.63v7.26l-6.14 3.63l-6.14 -3.63v-7.26zM201.48 573.47l6.14 3.63v7.26l-6.14 3.63l-6.14 -3.63v-7.26zM490.00 584.37l6.14 3.63v7.26l-6.14 3.63l-6.14 -3.63v-7.26zM262.87 595.27l6.14 3.63v7.26l-6.14 3.63l-6.14 -3.63v-7.26zM422.48 595.27l6.14 3.63v7.26l-6.14 3.63l-6.14 -3.63v-7.26zM293.56 606.16l6.14 3.63v7.26l-6.14 3.63l-6.14 -3.63v-7.26zM391.78 606.16l6.14 3.63v7.26l-6.14 3.63l-6.14 -3.63v-7.26z"/>
<path fill="#d27984" stroke="#d27984" d="M244.45 540.79l6.14 3.63v7.26l-6.14 3.63l-6.14 -3.63v-7.26z"/>
<path fill="#6b99c8" stroke="#6b99c8" d="M201.48 551.68l6.14 3.63v7.26l-6.14 3.63l-6.14 -3.63v-7.26z"/>
<path fill="#e6b3b9" stroke="#e6b3b9" d="M238.31 551.68l6.14 3.63v7.26l-6.14 3.63l-6.14 -3.63v-7.26z"/>
<path fill="#3473b3" stroke="#3473b3" d="M532.97 551.68l6.14 3.63v7.26l-6.14 3.63l-6.14 -3.63v-7.26z"/>
<path fill="#edf3f8" stroke="#edf3f8" d="M219.90 562.58l6.14 3.63v7.26l-6.14 3.63l-6.14 -3.63v-7.26z"/>
<path fill="#e3acb3" stroke="#e3acb3" d="M440.89 562.58l6.14 3.63v7.26l-6.14 3.63l-6.14 -3.63v-7.26z"/>
<path fill="#2c6db0" stroke="#2c6db0" d="M539.11 562.58l6.14 3.63v7.26l-6.14 3.63l-6.14 -3.63v-7.26zM532.97 573.47l6.14 3.63v7.26l-6.14 3.63l-6.14 -3.63v-7.26z"/>
<path fill="#87acd2" stroke="#87acd2" d="M213.76 573.47l6.14 3.63v7.26l-6.14 3.63l-6.14 -3.63v-7.26zM311.98 595.27l6.14 3.63v7.26l-6.14 3.63l-6.14 -3.63v-7.26zM324.26 595.27l6.14 3.63v7.26l-6.14 3.63l-6.14 -3.63v-7.26zM336.53 595.27l6.14 3.63v7.26l-6.14 3.63l-6.14 -3.63v-7.26zM361.09 595.27l6.14 3.63v7.26l-6.14 3.63l-6.14 -3.63v-7.26zM373.37 595.27l6.14 3.63v7.26l-6.14 3.63l-6.14 -3.63v-7.26z"/>
<path fill="#d1dfee" stroke="#d1dfee" d="M226.04 573.47l6.14 3.63v7.26l-6.14 3.63l-6.14 -3.63v-7.26zM465.45 584.37l6.14 3.63v7.26l-6.14 3.63l-6.14 -3.63v-7.26z"/>
<path fill="#e3aab1" stroke="#e3aab1" d="M410.20 573.47l6.14 3.63v7.26l-6.14 3.63l-6.14 -3.63v-7.26z"/>
<path fill="#6595c6" stroke="#6595c6" d="M496.14 573.47l6.14 3.63v7.26l-6.14 3.63l-6.14 -3.63v-7.26zM275.15 595.27l6.14 3.63v7.26l-6.14 3.63l-6.14 -3.63v-7.26zM305.84 606.16l6.14 3.63v7.26l-6.14 3.63l-6.14 -3.63v-7.26zM342.67 606.16l6.14 3.63v7.26l-6.14 3.63l-6.14 -3.63v-7.26zM367.23 606.16l6.14 3.63v7.26l-6.14 3.63l-6.14 -3.63v-7.26zM379.50 606.16l6.14 3.63v7.26l-6.14 3.63l-6.14 -3.63v-7.26z"/>
<path fill="#3d79b6" stroke="#3d79b6" d="M508.42 573.47l6.14 3.63v7.26l-6.14 3.63l-6.14 -3.63v-7.26zM226.04 595.27l6.14 3.63v7.26l-6.14 3.63l-6.14 -3.63v-7.26zM244.45 606.16l6.14 3.63v7.26l-6.14 3.63l-6.14 -3.63v-7.26zM440.89 606.16l6.14 3.63v7.26l-6.14 3.63l-6.14 -3.63v-7.26zM311.98 617.06l6.14 3.63v7.26l-6.14 3.63l-6.14 -3.63v-7.26z"/>
<path fill="#4881bb" stroke="#4881bb" d="M207.62 584.37l6.14 3.63v7.26l-6.14 3.63l-6.14 -3.63v-7.26zM238.31 595.27l6.14 3.63v7.26l-6.14 3.63l-6.14 -3.63v-7.26zM256.73 606.16l6.14 3.63v7.26l-6.14 3.63l-6.14 -3.63v-7.26zM428.62 606.16l6.14 3.63v7.26l-6.14 3.63l-6.14 -3.63v-7.26zM287.42 617.06l6.14 3.63v7.26l-6.14 3.63l-6.14 -3.63v-7.26zM299.70 617.06l6.14 3.63v7.26l-6.14 3.63l-6.14 -3.63v-7.26zM336.53 617.06l6.14 3.63v7.26l-6.14 3.63l-6.14 -3.63v-7.26z"/>
<path fill="#f1d5d9" stroke="#f1d5d9" d="M293.56 584.37l6.14 3.63v7.26l-6.14 3.63l-6.14 -3.63v-7.26z"/>
<path fill="#f2d8db" stroke="#f2d8db" d="M305.84 584.37l6.14 3.63v7.26l-6.14 3.63l-6.14 -3.63v-7.26z"/>
<path fill="#f9fbfd" stroke="#f9fbfd" d="M453.17 584.37l6.14 3.63v7.26l-6.14 3.63l-6.14 -3.63v-7.26z"/>
<path fill="#2d6eb1" stroke="#2d6eb1" d="M526.83 584.37l6.14 3.63v7.26l-6.14 3.63l-6.14 -3.63v-7.26z"/>
<path fill="#76a1cc" stroke="#76a1cc" d="M287.42 595.27l6.14 3.63v7.26l-6.14 3.63l-6.14 -3.63v-7.26z"/>
<path fill="#7da5ce" stroke="#7da5ce" d="M397.92 595.27l6.14 3.63v7.26l-6.14 3.63l-6.14 -3.63v-7.26z"/>
<path fill="#598cc1" stroke="#598cc1" d="M281.28 606.16l6.14 3.63v7.26l-6.14 3.63l-6.14 -3.63v-7.26zM404.06 606.16l6.14 3.63v7.26l-6.14 3.63l-6.14 -3.63v-7.26z"/>
<path fill="#7aa4cd" stroke="#7aa4cd" d="M318.12 606.16l6.14 3.63v7.26l-6.14 3.63l-6.14 -3.63v-7.26z"/>
<path fill="#407bb7" stroke="#407bb7" d="M490.00 606.16l6.14 3.63v7.26l-6.14 3.63l-6.14 -3.63v-7.26zM238.31 617.06l6.14 3.63v7.26l-6.14 3.63l-6.14 -3.63v-7.26z"/>
<path fill="#457fb9" stroke="#457fb9" d="M250.59 617.06l6.14 3.63v7.26l-6.14 3.63l-6.14 -3.63v-7.26z"/>
<path fill="#4881ba" stroke="#4881ba" d="M275.15 617.06l6.14 3.63v7.26l-6.14 3.63l-6.14 -3.63v-7.26zM422.48 617.06l6.14 3.63v7.26l-6.14 3.63l-6.14 -3.63v-7.26z"/>
<path fill="#437db9" stroke="#437db9" d="M459.31 617.06l6.14 3.63v7.26l-6.14 3.63l-6.14 -3.63v-7.26z"/>
<path fill="#286aae" stroke="#286aae" d="M502.28 627.96l6.14 3.63v7.26l-6.14 3.63l-6.14 -3.63v-7.26zM483.86 638.85l6.14 3.63v7.26l-6.14 3.63l-6.14 -3.63v-7.26z"/>
</g><path d="M103.26 152.16l6.14 -3.63l6.14 3.63l6.14 -3.63l6.14 3.63l6.14 -3.63l6.14 3.63l6.14 -3.63l6.14 3.63l6.14 -3.63l6.14 3.63l6.14 -3.63l6.14 3.63l6.14 -3.63l6.14 3.63l6.14 -3.63l6.14 3.63l6.14 -3.63l6.14 3.63l6.14 -3.63l6.14 3.63l6.14 -3.63l6.14 3.63l6.14 -3.63l6.14 3.63l6.14 -3.63l6.14 3.63l6.14 -3.63l6.14 3.63l6.14 -3.63l6.14 3.63l6.14 -3.63l6.14 3.63l6.14 -3.63l6.14 3.63l6.14 -3.63l6.14 3.63l6.14 -3.63l6.14 3.63l6.14 -3.63l6.14 3.63l6.14 -3.63l6.14 3.63l6.14 -3.63l6.14 3.63l6.14 -3.63l6.14 3.63l6.14 -3.63l6.14 3.63l6.14 -3.63l6.14 3.63l6.14 -3.63l6.14 3.63l6.14 -3.63l6.14 3.63l6.14 -3.63l6.14 3.63l6.14 -3.63l6.14 3.63l6.14 -3.63l6.14 3.63l6.14 -3.63l6.14 3.63l6.14 -3.63l6.14 3.63l6.14 -3.63l6.14 3.63l6.14 -3.63l6.14 3.63l6.14 -3.63l6.14 3.63l6.14 -3.63l6.14 3.63l6.14 -3.63l6.14 3.63l6.14 -3.63l6.14 3.63l6.14 -3.63l6.14 3.63l6.14 -3.63l6.14 3.63l6.14 -3.63l6.14 3.63M103.26 159.43l6.14 3.63l6.14 -3.63l6.14 3.63l6.14 -3.63l6.14 3.63l6.14 -3.63l6.14 3.63l6.14 -3.63l6.14 3.63l6.14 -3.63l6.14 3.63l6.14 -3.63l6.14 3.63l6.14 -3.63l6.14 3.63l6.14 -3.63l6.14 3.63l6.14 -3.63l6.14 3.63l6.14 -3.63l6.14 3.63l6.14 -3.63l6.14 3.63l6.14 -3.63l6.14 3.63l6.14 -3.63l6.14 3.63l6.14 -3.63l6.14 3.63l6.14 -3.63l6.14 3.63l6.14 -3.63l6.14 3.63l6.14 -3.63l6.14 3.63l6.14 -3.63l6.14 3.63l6.14 -3.63l6.14 3.63l6.14 -3.63l6.14 3.63l6.14 -3.63l6.14 3.63l6.14 -3.63l6.14 3.63l6.14 -3.63l6.14 3.63l6.14 -3.63l6.14 3.63l6.14 -3.63l6.14 3.63l6.14 -3.63l6.14 3.63l6.14 -3.63l6.14 3.63l6.14 -3.63l6.14 3.63l6.14 -3.63l6.14 3.63l6.14 -3.63l6.14 3.63l6.14 -3.63l6.14 3.63l6.14 -3.63l6.14 3.63l6.14 -3.63l6.14 3.63l6.14 -3.63l6.14 3.63l6.14 -3.63l6.14 3.63l6.14 -3.63l6.14 3.63l6.14 -3.63l6.14 3.63l6.14 -3.63l6.14 3.63l6.14 -3.63l6.14 3.63l6.14 -3.63l6.14 3.63l6.14 -3.63l6.14 3.63M103.26 173.95l6.14 -3.63l6.14 3.63l6.14 -3.63l6.14 3.63l6.14 -3.63l6.14 3.63l6.14 -3.63l6.14 3.63l6.14 -3.63l6.14 3.63l6.14 -3.63l6.14 3.63l6.14 -3.63l6.14 3.63l6.14 -3.63l6.14 3.63l6.14 -3.63l6.14 3.63l6.14 -3.63l6.14 3.63l6.14 -3.63l6.14 3.63l6.14 -3.63l6.14 3.63l6.14 -3.63l6.14 3.63l6.14 -3.63l6.14 3.63l6.14 -3.63l6.14 3.63l6.14 -3.63l6.14 3.63l6.14 -3.63l6.14 3.63l6.14 -3.63l6.14 3.63l6.14 -3.63l6.14 3.63l6.14 -3.63l6.14 3.63l6.14 -3.63l6.14 3.63l6.14 -3.63l6.14 3.63l6.14 -3.63l6.14 3.63l6.14 -3.63l6.14 3.63l6.14 -3.63l6.14 3.63l6.14 -3.63l6.14 3.63l6.14 -3.63l6.14 3.63l6.14 -3.63l6.14 3.63l6.14 -3.63l6.14 3.63l6.14 -3.63l6.14 3.63l6.14 -3.63l6.14 3.63l6.14 -3.63l6.14 3.63l6.14 -3.63l6.14 3.63l6.14 -3.63l6.14 3.63l6.14 -3.63l6.14 3.63l6.14 -3.63l6.14 3.63l6.14 -3.63l6.14 3.63l6.14 -3.63l6.14 3.63l6.14 -3.63l6.14 3.63l6.14 -3.63l6.14 3.63l6.14 -3.63l6.14 3.63l6.14 -3.63M103.26 181.22l6.14 3.63l6.14 -3.63l6.14 3.63l6.14 -3.63l6.14 3.63l6.14 -3.63l6.14 3.63l6.14 -3.63l6.14 3.63l6.14 -3.63l6.14 3.63l6.14 -3.63l6.14 3.63l6.14 -3.63l6.14 3.63l6.14 -3.63l6.14 3.63l6.14 -3.63l6.14 3.63l6.14 -3.63l6.14 3.63l6.14 -3.63l6.14 3.63l6.14 -3.63l6.14 3.63l6.14 -3.63l6.14 3.63l6.14 -3.63l6.14 3.63l6.14 -3.63l6.14 3.63l6.14 -3.63l6.14 3.63l6.14 -3.63l6.14 3.63l6.14 -3.63l6.14 3.63l6.14 -3.63l6.14 3.63l6.14 -3.63l6.14 3.63l6.14 -3.63l6.14 3.63l6.14 -3.63l6.14 3.63l6.14 -3.63l6.14 3.63l6.14 -3.63l6.14 3.63l6.14 -3.63l6.14 3.63l6.14 -3.63l6.14 3.63l6.14 -3.63l6.14 3.63l6.14 -3.63l6.14 3.63l6.14 -3.63l6.14 3.63l6.14 -3.63l6.14 3.63l6.14 -3.63l6.14 3.63l6.14 -3.63l6.14 3.63l6.14 -3.63l6.14 3.63l6.14 -3.63l6.14 3.63l6.14 -3.63l6.14 3.63l6.14 -3.63l6.14 3.63l6.14 -3.63l6.14 3.63l6.14 -3.63l6.14 3.63l6.14 -3.63l6.14 3.63l6.14 -3.63l6.14 3.63l6.14 -3.63l6.14 3.63M103.26 195.75l6.14 -3.63l6.14 3.63l6.14 -3.63l6.14 3.63l6.14 -3.63l6.14 3.63l6.14 -3.63l6.14 3.63l6.14 -3.63l6.14 3.63l6.14 -3.63l6.14 3.63l6.14 -3.63l6.14 3.63l6.14 -3.63l6.14 3.63l6.14 -3.63l6.14 3.63l6.14 -3.63l6.14 3.63l6.14 -3.63l6.14 3.63l6.14 -3.63l6.14 3.63l6.14 -3.63l6.14 3.63l6.14 -3.63l6.14 3.63l6.14 -3.63l6.14 3.63l6.14 -3.63l6.14 3.63l6.14 -3.63l6.14 3.63l6.14 -3.63l6.14 3.63l6.14 -3.63l6.14 3.63l6.14 -3.63l6.14 3.63l6.14 -3.63l6.14 3.63l6.14 -3.63l6.14 3.63l6.14 -3.63l6.14 3.63l6.14 -3.63l6.14 3.63l6.14 -3.63l6.14 3.63l6.14 -3.63l6.14 3.63l6.14 -3.63l6.14 3.63l6.14 -3.63l6.14 3.63l6.14 -3.63l6.14 3.63l6.14 -3.63l6.14 3.63l6.14 -3.63l6.14 3.63l6.14 -3.63l6.14 3.63l6.14 -3.63l6.14 3.63l6.14 -3.63l6.14 3.63l6.14 -3.63l6.14 3.63l6.14 -3.63l6.14 3.63l6.14 -3.63l6.14 3.63l6.14 -3.63l6.14 3.63l6.14 -3.63l6.14 3.63l6.14 -3.63l6.14 3.63l6.14 -3.63l6.14 3.63l6.14 -3.63M103.26 203.01l6.14 3.63l6.14 -3.63l6.14 3.63l6.14 -3.63l6.14 3.63l6.14 -3.63l6.14 3.63l6.14 -3.63l6.14 3.63l6.14 -3.63l6.14 3.63l6.14 -3.63l6.14 3.63l6.14 -3.63l6.14 3.63l6.14 -3.63l6.14 3.63l6.14 -3.63l6.14 3.63l6.14 -3.63l6.14 3.63l6.14 -3.63l6.14 3.63l6.14 -3.63l6.14 3.63l6.14 -3.63l6.14 3.63l6.14 -3.63l6.14 3.63l6.14 -3.63l6.14 3.63l6.14 -3.63l6.14 3.63l6.14 -3.63l6.14 3.63l6.14 -3.63l6.14 3.63l6.14 -3.63l6.14 3.63l6.14 -3.63l6.14 3.63l6.14 -3.63l6.14 3.63l6.14 -3.63l6.14 3.63l6.14 -3.63l6.14 3.63l6.14 -3.63l6.14 3.63l6.14 -3.63l6.14 3.63l6.14 -3.63l6.14 3.63l6.14 -3.63l6.14 3.63l6.14 -3.63l6.14 3.63l6.14 -3.63l6.14 3.63l6.14 -3.63l6.14 3.63l6.14 -3.63l6.14 3.63l6.14 -3.63l6.14 3.63l6.14 -3.63l6.14 3.63l6.14 -3.63l6.14 3.63l6.14 -3.63l6.14 3.63l6.14 -3.63l6.14 3.63l6.14 -3.63l6.14 3.63l6.14 -3.63l6.14 3.63l6.14 -3.63l6.14 3.63l6.14 -3.63l6.14 3.63l6.14 -3.63l6.14 3.63M103.26 217.54l6.14 -3.63l6.14 3.63l6.14 -3.63l6.14 3.63l6.14 -3.63l6.14 3.63l6.14 -3.63l6.14 3.63l6.14 -3.63l6.14 3.63l6.14 -3.63l6.14 3.63l6.14 -3.63l6.14 3.63l6.14 -3.63l6.14 3.63l6.14 -3.63l6.14 3.63l6.14 -3.63l6.14 3.63l6.14 -3.63l6.14 3.63l6.14 -3.63l6.14 3.63l6.14 -3.63l6.14 3.63l6.14 -3.63l6.14 3.63l6.14 -3.63l6.14 3.63l6.14 -3.63l6.14 3.63l6.14 -3.63l6.14 3.63l6.14 -3.63l6.14 3.63l6.14 -3.63l6.14 3.63l6.14 -3.63l6.14 3.63l6.14 -3.63l6.14 3.63l6.14 -3.63l6.14 3.63l6.14 -3.63l6.14 3.63l6.14 -3.63l6.14 3.63l6.14 -3.63l6.14 3.63l6.14 -3.63l6.14 3.63l6.14 -3.63l6.14 3.63l6.14 -3.63l6.14 3.63l6.14 -3.63l6.14 3.63l6.14 -3.63l6.14 3.63l6.14 -3.63l6.14 3.63l6.14 -3.63l6.14 3.63l6.14 -3.63l6.14 3.63l6.14 -3.63l6.14 3.63l6.14 -3.63l6.14 3.63l6.14 -3.63l6.14 3.63l6.14 -3.63l6.14 3.63l6.14 -3.63l6.14 3.63l6.14 -3.63l6.14 3.63l6.14 -3.63l6.14 3.63l6.14 -3.63l6.14 3.63l6.14 -3.63M103.26 224.80l6.14 3.63l6.14 -3.63l6.14 3.63l6.14 -3.63l6.14 3.63l6.14 -3.63l6.14 3.63l6.14 -3.63l6.14 3.63l6.14 -3.63l6.14 3.63l6.14 -3.63l6.14 3.63l6.14 -3.63l6.14 3.63l6.14 -3.63l6.14 3.63l6.14 -3.63l6.14 3.63l6.14 -3.63l6.14 3.63l6.14 -3.63l6.14 3.63l6.14 -3.63l6.14 3.63l6.14 -3.63l6.14 3.63l6.14 -3.63l6.14 3.63l6.14 -3.63l6.14 3.63l6.14 -3.63l6.14 3.63l6.14 -3.63l6.14 3.63l6.14 -3.63l6.14 3.63l6.14 -3.63l6.14 3.63l6.14 -3.63l6.14 3.63l6.14 -3.63l6.14 3.63l6.14 -3.63l6.14 3.63l6.14 -3.63l6.14 3.63l6.14 -3.63l6.14 3.63l6.14 -3.63l6.14 3.63l6.14 -3.63l6.14 3.63l6.14 -3.63l6.14 3.63l6.14 -3.63l6.14 3.63l6.14 -3.63l6.14 3.63l6.14 -3.63l6.14 3.63l6.14 -3.63l6.14 3.63l6.14 -3.63l6.14 3.63l6.14 -3.63l6.14 3.63l6.14 -3.63l6.14 3.63l6.14 -3.63l6.14 3.63l6.14 -3.63l6.14 3.63l6.14 -3.63l6.14 3.63l6.14 -3.63l6.14 3.63l6.14 -3.63l6.14 3.63l6.14 -3.63l6.14 3.63l6.14 -3.63l6.14 3.63M103.26 239.33l6.14 -3.63l6.14 3.63l6.14 -3.63l6.14 3.63l6.14 -3.63l6.14 3.63l6.14 -3.63l6.14 3.63l6.14 -3.63l6.14 3.63l6.14 -3.63l6.14 3.63l6.14 -3.63l6.14 3.63l6.14 -3.63l6.14 3.63l6.14 -3.63l6.14 3.63l6.14 -3.63l6.14 3.63l6.14 -3.63l6.14 3.63l6.14 -3.63l6.14 3.63l6.14 -3.63l6.14 3.63l6.14 -3.63l6.14 3.63l6.14 -3.63l6.14 3.63l6.14 -3.63l6.14 3.63l6.14 -3.63l6.14 3.63l6.14 -3.63l6.14 3.63l6.14 -3.63l6.14 3.63l6.14 -3.63l6.14 3.63l6.14 -3.63l6.14 3.63l6.14 -3.63l6.14 3.63l6.14 -3.63l6.14 3.63l6.14 -3.63l6.14 3.63l6.14 -3.63l6.14 3.63l6.14 -3.63l6.14 3.63l6.14 -3.63l6.14 3.63l6.14 -3.63l6.14 3.63l6.14 -3.63l6.14 3.63l6.14 -3.63l6.14 3.63l6.14 -3.63l6.14 3.63l6.14 -3.63l6.14 3.63l6.14 -3.63l6.14 3.63l6.14 -3.63l6.14 3.63l6.14 -3.63l6.14 3.63l6.14 -3.63l6.14 3.63l6.14 -3.63l6.14 3.63l6.14 -3.63l6.14 3.63l6.14 -3.63l6.14 3.63l6.14 -3.63l6.14 3.63l6.14 -3.63l6.14 3.63l6.14 -3.63M103.26 246.59l6.14 3.63l6.14 -3.63l6.14 3.63l6.14 -3.63l6.14 3.63l6.14 -3.63l6.14 3.63l6.14 -3.63l6.14 3.63l6.14 -3.63l6.14 3.63l6.14 -3.63l6.14 3.63l6.14 -3.63l6.14 3.63l6.14 -3.63l6.14 3.63l6.14 -3.63l6.14 3.63l6.14 -3.63l6.14 3.63l6.14 -3.63l6.14 3.63l6.14 -3.63l6.14 3.63l6.14 -3.63l6.14 3.63l6.14 -3.63l6.14 3.63l6.14 -3.63l6.14 3.63l6.14 -3.63l6.14 3.63l6.14 -3.63l6.14 3.63l6.14 -3.63l6.14 3.63l6.14 -3.63l6.14 3.63l6.14 -3.63l6.14 3.63l6.14 -3.63l6.14 3.63l6.14 -3.63l6.14 3.63l6.14 -3.63l6.14 3.63l6.14 -3.63l6.14 3.63l6.14 -3.63l6.14 3.63l6.14 -3.63l6.14 3.63l6.14 -3.63l6.14 3.63l6.14 -3.63l6.14 3.63l6.14 -3.63l6.14 3.63l6.14 -3.63l6.14 3.63l6.14 -3.63l6.14 3.63l6.14 -3.63l6.14 3.63l6.14 -3.63l6.14 3.63l6.14 -3.63l6.14 3.63l6.14 -3.63l6.14 3.63l6.14 -3.63l6.14 3.63l6.14 -3.63l6.14 3.63l6.14 -3.63l6.14 3.63l6.14 -3.63l6.14 3.63l6.14 -3.63l6.14 3.63l6.14 -3.63l6.14 3.63M103.26 261.12l6.14 -3.63l6.14 3.63l6.14 -3.63l6.14 3.63l6.14 -3.63l6.14 3.63l6.14 -3.63l6.14 3.63l6.14 -3.63l6.14 3.63l6.14 -3.63l6.14 3.63l6.14 -3.63l6.14 3.63l6.14 -3.63l6.14 3.63l6.14 -3.63l6.14 3.63l6.14 -3.63l6.14 3.63l6.14 -3.63l6.14 3.63l6.14 -3.63l6.14 3.63l6.14 -3.63l6.14 3.63l6.14 -3.63l6.14 3.63l6.14 -3.63l6.14 3.63l6.14 -3.63l6.14 3.63l6.14 -3.63l6.14 3.63l6.14 -3.63l6.14 3.63l6.14 -3.63l6.14 3.63l6.14 -3.63l6.14 3.63l6.14 -3.63l6.14 3.63l6.14 -3.63l6.14 3.63l6.14 -3.63l6.14 3.63l6.14 -3.63l6.14 3.63l6.14 -3.63l6.14 3.63l6.14 -3.63l6.14 3.63l6.14 -3.63l6.14 3.63l6.14 -3.63l6.14 3.63l6.14 -3.63l6.14 3.63l6.14 -3.63l6.14 3.63l6.14 -3.63l6.14 3.63l6.14 -3.63l6.14 3.63l6.14 -3.63l6.14 3.63l6.14 -3.63l6.14 3.63l6.14 -3.63l6.14 3.63l6.14 -3.63l6.14 3.63l6.14 -3.63l6.14 3.63l6.14 -3.63l6.14 3.63l6.14 -3.63l6.14 3.63l6.14 -3.63l6.14 3.63l6.14 -3.63l6.14 3.63l6.14 -3.63M103.26 268.39l6.14 3.63l6.14 -3.63l6.14 3.63l6.14 -3.63l6.14 3.63l6.14 -3.63l6.14 3.63l6.14 -3.63l6.14 3.63l6.14 -3.63l6.14 3.63l6.14 -3.63l6.14 3.63l6.14 -3.63l6.14 3.63l6.14 -3.63l6.14 3.63l6.14 -3.63l6.14 3.63l6.14 -3.63l6.14 3.63l6.14 -3.63l6.14 3.63l6.14 -3.63l6.14 3.63l6.14 -3.63l6.14 3.63l6.14 -3.63l6.14 3.63l6.14 -3.63l6.14 3.63l6.14 -3.63l6.14 3.63l6.14 -3.63l6.14 3.63l6.14 -3.63l6.14 3.63l6.14 -3.63l6.14 3.63l6.14 -3.63l6.14 3.63l6.14 -3.63l6.14 3.63l6.14 -3.63l6.14 3.63l6.14 -3.63l6.14 3.63l6.14 -3.63l6.14 3.63l6.14 -3.63l6.14 3.63l6.14 -3.63l6.14 3.63l6.14 -3.63l6.14 3.63l6.14 -3.63l6.14 3.63l6.14 -3.63l6.14 3.63l6.14 -3.63l6.14 3.63l6.14 -3.63l6.14 3.63l6.14 -3.63l6.14 3.63l6.14 -3.63l6.14 3.63l6.14 -3.63l6.14 3.63l6.14 -3.63l6.14 3.63l6.14 -3.63l6.14 3.63l6.14 -3.63l6.14 3.63l6.14 -3.63l6.14 3.63l6.14 -3.63l6.14 3.63l6.14 -3.63l6.14 3.63l6.14 -3.63l6.14 3.63M103.26 282.91l6.14 -3.63l6.14 3.63l6.14 -3.63l6.14 3.63l6.14 -3.63l6.14 3.63l6.14 -3.63l6.14 3.63l6.14 -3.63l6.14 3.63l6.14 -3.63l6.14 3.63l6.14 -3.63l6.14 3.63l6.14 -3.63l6.14 3.63l6.14 -3.63l6.14 3.63l6.14 -3.63l6.14 3.63l6.14 -3.63l6.14 3.63l6.14 -3.63l6.14 3.63l6.14 -3.63l6.14 3.63l6.14 -3.63l6.14 3.63l6.14 -3.63l6.14 3.63l6.14 -3.63l6.14 3.63l6.14 -3.63l6.14 3.63l6.14 -3.63l6.14 3.63l6.14 -3.63l6.14 3.63l6.14 -3.63l6.14 3.63l6.14 -3.63l6.14 3.63l6.14 -3.63l6.14 3.63l6.14 -3.63l6.14 3.63l6.14 -3.63l6.14 3.63l6.14 -3.63l6.14 3.63l6.14 -3.63l6.14 3.63l6.14 -3.63l6.14 3.63l6.14 -3.63l6.14 3.63l6.14 -3.63l6.14 3.63l6.14 -3.63l6.14 3.63l6.14 -3.63l6.14 3.63l6.14 -3.63l6.14 3.63l6.14 -3.63l6.14 3.63l6.14 -3.63l6.14 3.63l6.14 -3.63l6.14 3.63l6.14 -3.63l6.14 3.63l6.14 -3.63l6.14 3.63l6.14 -3.63l6.14 3.63l6.14 -3.63l6.14 3.63l6.14 -3.63l6.14 3.63l6.14 -3.63l6.14 3.63l6.14 -3.63M103.26 290.18l6.14 3.63l6.14 -3.63l6.14 3.63l6.14 -3.63l6.14 3.63l6.14 -3.63l6.14 3.63l6.14 -3.63l6.14 3.63l6.14 -3.63l6.14 3.63l6.14 -3.63l6.14 3.63l6.14 -3.63l6.14 3.63l6.14 -3.63l6.14 3.63l6.14 -3.63l6.14 3.63l6.14 -3.63l6.14 3.63l6.14 -3.63l6.14 3.63l6.14 -3.63l6.14 3.63l6.14 -3.63l6.14 3.63l6.14 -3.63l6.14 3.63l6.14 -3.63l6.14 3.63l6.14 -3.63l6.14 3.63l6.14 -3.63l6.14 3.63l6.14 -3.63l6.14 3.63l6.14 -3.63l6.14 3.63l6.14 -3.63l6.14 3.63l6.14 -3.63l6.14 3.63l6.14 -3.63l6.14 3.63l6.14 -3.63l6.14 3.63l6.14 -3.63l6.14 3.63l6.14 -3.63l6.14 3.63l6.14 -3.63l6.14 3.63l6.14 -3.63l6.14 3.63l6.14 -3.63l6.14 3.63l6.14 -3.63l6.14 3.63l6.14 -3.63l6.14 3.63l6.14 -3.63l6.14 3.63l6.14 -3.63l6.14 3.63l6.14 -3.63l6.14 3.63l6.14 -3.63l6.14 3.63l6.14 -3.63l6.14 3.63l6.14 -3.63l6.14 3.63l6.14 -3.63l6.14 3.63l6.14 -3.63l6.14 3.63l6.14 -3.63l6.14 3.63l6.14 -3.63l6.14 3.63l6.14 -3.63l6.14 3.63M103.26 304.71l6.14 -3.63l6.14 3.63l6.14 -3.63l6.14 3.63l6.14 -3.63l6.14 3.63l6.14 -3.63l6.14 3.63l6.14 -3.63l6.14 3.63l6.14 -3.63l6.14 3.63l6.14 -3.63l6.14 3.63l6.14 -3.63l6.14 3.63l6.14 -3.63l6.14 3.63l6.14 -3.63l6.14 3.63l6.14 -3.63l6.14 3.63l6.14 -3.63l6.14 3.63l6.14 -3.63l6.14 3.63l6.14 -3.63l6.14 3.63l6.14 -3.63l6.14 3.63l6.14 -3.63l6.14 3.63l6.14 -3.63l6.14 3.63l6.14 -3.63l6.14 3.63l6.14 -3.63l6.14 3.63l6.14 -3.63l6.14 3.63l6.14 -3.63l6.14 3.63l6.14 -3.63l6.14 3.63l6.14 -3.63l6.14 3.63l6.14 -3.63l6.14 3.63l6.14 -3.63l6.14 3.63l6.14 -3.63l6.14 3.63l6.14 -3.63l6.14 3.63l6.14 -3.63l6.14 3.63l6.14 -3.63l6.14 3.63l6.14 -3.63l6.14 3.63l6.14 -3.63l6.14 3.63l6.14 -3.63l6.14 3.63l6.14 -3.63l6.14 3.63l6.14 -3.63l6.14 3.63l6.14 -3.63l6.14 3.63l6.14 -3.63l6.14 3.63l6.14 -3.63l6.14 3.63l6.14 -3.63l6.14 3.63l6.14 -3.63l6.14 3.63l6.14 -3.63l6.14 3.63l6.14 -3.63l6.14 3.63l6.14 -3.63M103.26 311.97l6.14 3.63l6.14 -3.63l6.14 3.63l6.14 -3.63l6.14 3.63l6.14 -3.63l6.14 3.63l6.14 -3.63l6.14 3.63l6.14 -3.63l6.14 3.63l6.14 -3.63l6.14 3.63l6.14 -3.63l6.14 3.63l6.14 -3.63l6.14 3.63l6.14 -3.63l6.14 3.63l6.14 -3.63l6.14 3.63l6.14 -3.63l6.14 3.63l6.14 -3.63l6.14 3.63l6.14 -3.63l6.14 3.63l6.14 -3.63l6.14 3.63l6.14 -3.63l6.14 3.63l6.14 -3.63l6.14 3.63l6.14 -3.63l6.14 3.63l6.14 -3.63l6.14 3.63l6.14 -3.63l6.14 3.63l6.14 -3.63l6.14 3.63l6.14 -3.63l6.14 3.63l6.14 -3.63l6.14 3.63l6.14 -3.63l6.14 3.63l6.14 -3.63l6.14 3.63l6.14 -3.63l6.14 3.63l6.14 -3.63l6.14 3.63l6.14 -3.63l6.14 3.63l6.14 -3.63l6.14 3.63l6.14 -3.63l6.14 3.63l6.14 -3.63l6.14 3.63l6.14 -3.63l6.14 3.63l6.14 -3.63l6.14 3.63l6.14 -3.63l6.14 3.63l6.14 -3.63l6.14 3.63l6.14 -3.63l6.14 3.63l6.14 -3.63l6.14 3.63l6.14 -3.63l6.14 3.63l6.14 -3.63l6.14 3.63l6.14 -3.63l6.14 3.63l6.14 -3.63l6.14 3.63l6.14 -3.63l6.14 3.63M103.26 326.50l6.14 -3.63l6.14 3.63l6.14 -3.63l6.14 3.63l6.14 -3.63l6.14 3.63l6.14 -3.63l6.14 3.63l6.14 -3.63l6.14 3.63l6.14 -3.63l6.14 3.63l6.14 -3.63l6.14 3.63l6.14 -3.63l6.14 3.63l6.14 -3.63l6.14 3.63l6.14 -3.63l6.14 3.63l6.14 -3.63l6.14 3.63l6.14 -3.63l6.14 3.63l6.14 -3.63l6.14 3.63l6.14 -3.63l6.14 3.63l6.14 -3.63l6.14 3.63l6.14 -3.63l6.14 3.63l6.14 -3.63l6.14 3.63l6.14 -3.63l6.14 3.63l6.14 -3.63l6.14 3.63l6.14 -3.63l6.14 3.63l6.14 -3.63l6.14 3.63l6.14 -3.63l6.14 3.63l6.14 -3.63l6.14 3.63l6.14 -3.63l6.14 3.63l6.14 -3.63l6.14 3.63l6.14 -3.63l6.14 3.63l6.14 -3.63l6.14 3.63l6.14 -3.63l6.14 3.63l6.14 -3.63l6.14 3.63l6.14 -3.63l6.14 3.63l6.14 -3.63l6.14 3.63l6.14 -3.63l6.14 3.63l6.14 -3.63l6.14 3.63l6.14 -3.63l6.14 3.63l6.14 -3.63l6.14 3.63l6.14 -3.63l6.14 3.63l6.14 -3.63l6.14 3.63l6.14 -3.63l6.14 3.63l6.14 -3.63l6.14 3.63l6.14 -3.63l6.14 3.63l6.14 -3.63l6.14 3.63l6.14 -3.63M103.26 333.76l6.14 3.63l6.14 -3.63l6.14 3.63l6.14 -3.63l6.14 3.63l6.14 -3.63l6.14 3.63l6.14 -3.63l6.14 3.63l6.14 -3.63l6.14 3.63l6.14 -3.63l6.14 3.63l6.14 -3.63l6.14 3.63l6.14 -3.63l6.14 3.63l6.14 -3.63l6.14 3.63l6.14 -3.63l6.14 3.63l6.14 -3.63l6.14 3.63l6.14 -3.63l6.14 3.63l6.14 -3.63l6.14 3.63l6.14 -3.63l6.14 3.63l6.14 -3.63l6.14 3.63l6.14 -3.63l6.14 3.63l6.14 -3.63l6.14 3.63l6.14 -3.63l6.14 3.63l6.14 -3.63l6.14 3.63l6.14 -3.63l6.14 3.63l6.14 -3.63l6.14 3.63l6.14 -3.63l6.14 3.63l6.14 -3.63l6.14 3.63l6.14 -3.63l6.14 3.63l6.14 -3.63l6.14 3.63l6.14 -3.63l6.14 3.63l6.14 -3.63l6.14 3.63l6.14 -3.63l6.14 3.63l6.14 -3.63l6.14 3.63l6.14 -3.63l6.14 3.63l6.14 -3.63l6.14 3.63l6.14 -3.63l6.14 3.63l6.14 -3.63l6.14 3.63l6.14 -3.63l6.14 3.63l6.14 -3.63l6.14 3.63l6.14 -3.63l6.14 3.63l6.14 -3.63l6.14 3.63l6.14 -3.63l6.14 3.63l6.14 -3.63l6.14 3.63l6.14 -3.63l6.14 3.63l6.14 -3.63l6.14 3.63M103.26 348.29l6.14 -3.63l6.14 3.63l6.14 -3.63l6.14 3.63l6.14 -3.63l6.14 3.63l6.14 -3.63l6.14 3.63l6.14 -3.63l6.14 3.63l6.14 -3.63l6.14 3.63l6.14 -3.63l6.14 3.63l6.14 -3.63l6.14 3.63l6.14 -3.63l6.14 3.63l6.14 -3.63l6.14 3.63l6.14 -3.63l6.14 3.63l6.14 -3.63l6.14 3.63l6.14 -3.63l6.14 3.63l6.14 -3.63l6.14 3.63l6.14 -3.63l6.14 3.63l6.14 -3.63l6.14 3.63l6.14 -3.63l6.14 3.63l6.14 -3.63l6.14 3.63l6.14 -3.63l6.14 3.63l6.14 -3.63l6.14 3.63l6.14 -3.63l6.14 3.63l6.14 -3.63l6.14 3.63l6.14 -3.63l6.14 3.63l6.14 -3.63l6.14 3.63l6.14 -3.63l6.14 3.63l6.14 -3.63l6.14 3.63l6.14 -3.63l6.14 3.63l6.14 -3.63l6.14 3.63l6.14 -3.63l6.14 3.63l6.14 -3.63l6.14 3.63l6.14 -3.63l6.14 3.63l6.14 -3.63l6.14 3.63l6.14 -3.63l6.14 3.63l6.14 -3.63l6.14 3.63l6.14 -3.63l6.14 3.63l6.14 -3.63l6.14 3.63l6.14 -3.63l6.14 3.63l6.14 -3.63l6.14 3.63l6.14 -3.63l6.14 3.63l6.14 -3.63l6.14 3.63l6.14 -3.63l6.14 3.63l6.14 -3.63M103.26 355.56l6.14 3.63l6.14 -3.63l6.14 3.63l6.14 -3.63l6.14 3.63l6.14 -3.63l6.14 3.63l6.14 -3.63l6.14 3.63l6.14 -3.63l6.14 3.63l6.14 -3.63l6.14 3.63l6.14 -3.63l6.14 3.63l6.14 -3.63l6.14 3.63l6.14 -3.63l6.14 3.63l6.14 -3.63l6.14 3.63l6.14 -3.63l6.14 3.63l6.14 -3.63l6.14 3.63l6.14 -3.63l6.14 3.63l6.14 -3.63l6.14 3.63l6.14 -3.63l6.14 3.63l6.14 -3.63l6.14 3.63l6.14 -3.63l6.14 3.63l6.14 -3.63l6.14 3.63l6.14 -3.63l6.14 3.63l6.14 -3.63l6.14 3.63l6.14 -3.63l6.14 3.63l6.14 -3.63l6.14 3.63l6.14 -3.63l6.14 3.63l6.14 -3.63l6.14 3.63l6.14 -3.63l6.14 3.63l6.14 -3.63l6.14 3.63l6.14 -3.63l6.14 3.63l6.14 -3.63l6.14 3.63l6.14 -3.63l6.14 3.63l6.14 -3.63l6.14 3.63l6.14 -3.63l6.14 3.63l6.14 -3.63l6.14 3.63l6.14 -3.63l6.14 3.63l6.14 -3.63l6.14 3.63l6.14 -3.63l6.14 3.63l6.14 -3.63l6.14 3.63l6.14 -3.63l6.14 3.63l6.14 -3.63l6.14 3.63l6.14 -3.63l6.14 3.63l6.14 -3.63l6.14 3.63l6.14 -3.63l6.14 3.63M103.26 370.08l6.14 -3.63l6.14 3.63l6.14 -3.63l6.14 3.63l6.14 -3.63l6.14 3.63l6.14 -3.63l6.14 3.63l6.14 -3.63l6.14 3.63l6.14 -3.63l6.14 3.63l6.14 -3.63l6.14 3.63l6.14 -3.63l6.14 3.63l6.14 -3.63l6.14 3.63l6.14 -3.63l6.14 3.63l6.14 -3.63l6.14 3.63l6.14 -3.63l6.14 3.63l6.14 -3.63l6.14 3.63l6.14 -3.63l6.14 3.63l6.14 -3.63l6.14 3.63l6.14 -3.63l6.14 3.63l6.14 -3.63l6.14 3.63l6.14 -3.63l6.14 3.63l6.14 -3.63l6.14 3.63l6.14 -3.63l6.14 3.63l6.14 -3.63l6.14 3.63l6.14 -3.63l6.14 3.63l6.14 -3.63l6.14 3.63l6.14 -3.63l6.14 3.63l6.14 -3.63l6.14 3.63l6.14 -3.63l6.14 3.63l6.14 -3.63l6.14 3.63l6.14 -3.63l6.14 3.63l6.14 -3.63l6.14 3.63l6.14 -3.63l6.14 3.63l6.14 -3.63l6.14 3.63l6.14 -3.63l6.14 3.63l6.14 -3.63l6.14 3.63l6.14 -3.63l6.14 3.63l6.14 -3.63l6.14 3.63l6.14 -3.63l6.14 3.63l6.14 -3.63l6.14 3.63l6.14 -3.63l6.14 3.63l6.14 -3.63l6.14 3.63l6.14 -3.63l6.14 3.63l6.14 -3.63l6.14 3.63l6.14 -3.63M103.26 377.35l6.14 3.63l6.14 -3.63l6.14 3.63l6.14 -3.63l6.14 3.63l6.14 -3.63l6.14 3.63l6.14 -3.63l6.14 3.63l6.14 -3.63l6.14 3.63l6.14 -3.63l6.14 3.63l6.14 -3.63l6.14 3.63l6.14 -3.63l6.14 3.63l6.14 -3.63l6.14 3.63l6.14 -3.63l6.14 3.63l6.14 -3.63l6.14 3.63l6.14 -3.63l6.14 3.63l6.14 -3.63l6.14 3.63l6.14 -3.63l6.14 3.63l6.14 -3.63l6.14 3.63l6.14 -3.63l6.14 3.63l6.14 -3.63l6.14 3.63l6.14 -3.63l6.14 3.63l6.14 -3.63l6.14 3.63l6.14 -3.63l6.14 3.63l6.14 -3.63l6.14 3.63l6.14 -3.63l6.14 3.63l6.14 -3.63l6.14 3.63l6.14 -3.63l6.14 3.63l6.14 -3.63l6.14 3.63l6.14 -3.63l6.14 3.63l6.14 -3.63l6.14 3.63l6.14 -3.63l6.14 3.63l6.14 -3.63l6.14 3.63l6.14 -3.63l6.14 3.63l6.14 -3.63l6.14 3.63l6.14 -3.63l6.14 3.63l6.14 -3.63l6.14 3.63l6.14 -3.63l6.14 3.63l6.14 -3.63l6.14 3.63l6.14 -3.63l6.14 3.63l6.14 -3.63l6.14 3.63l6.14 -3.63l6.14 3.63l6.14 -3.63l6.14 3.63l6.14 -3.63l6.14 3.63l6.14 -3.63l6.14 3.63M103.26 391.88l6.14 -3.63l6.14 3.63l6.14 -3.63l6.14 3.63l6.14 -3.63l6.14 3.63l6.14 -3.63l6.14 3.63l6.14 -3.63l6.14 3.63l6.14 -3.63l6.14 3.63l6.14 -3.63l6.14 3.63l6.14 -3.63l6.14 3.63l6.14 -3.63l6.14 3.63l6.14 -3.63l6.14 3.63l6.14 -3.63l6.14 3.63l6.14 -3.63l6.14 3.63l6.14 -3.63l6.14 3.63l6.14 -3.63l6.14 3.63l6.14 -3.63l6.14 3.63l6.14 -3.63l6.14 3.63l6.14 -3.63l6.14 3.63l6.14 -3.63l6.14 3.63l6.14 -3.63l6.14 3.63l6.14 -3.63l6.14 3.63l6.14 -3.63l6.14 3.63l6.14 -3.63l6.14 3.63l6.14 -3.63l6.14 3.63l6.14 -3.63l6.14 3.63l6.14 -3.63l6.14 3.63l6.14 -3.63l6.14 3.63l6.14 -3.63l6.14 3.63l6.14 -3.63l6.14 3.63l6.14 -3.63l6.14 3.63l6.14 -3.63l6.14 3.63l6.14 -3.63l6.14 3.63l6.14 -3.63l6.14 3.63l6.14 -3.63l6.14 3.63l6.14 -3.63l6.14 3.63l6.14 -3.63l6.14 3.63l6.14 -3.63l6.14 3.63l6.14 -3.63l6.14 3.63l6.14 -3.63l6.14 3.63l6.14 -3.63l6.14 3.63l6.14 -3.63l6.14 3.63l6.14 -3.63l6.14 3.63l6.14 -3.63M103.26 399.14l6.14 3.63l6.14 -3.63l6.14 3.63l6.14 -3.63l6.14 3.63l6.14 -3.63l6.14 3.63l6.14 -3.63l6.14 3.63l6.14 -3.63l6.14 3.63l6.14 -3.63l6.14 3.63l6.14 -3.63l6.14 3.63l6.14 -3.63l6.14 3.63l6.14 -3.63l6.14 3.63l6.14 -3.63l6.14 3.63l6.14 -3.63l6.14 3.63l6.14 -3.63l6.14 3.63l6.14 -3.63l6.14 3.63l6.14 -3.63l6.14 3.63l6.14 -3.63l6.14 3.63l6.14 -3.63l6.14 3.63l6.14 -3.63l6.14 3.63l6.14 -3.63l6.14 3.63l6.14 -3.63l6.14 3.63l6.14 -3.63l6.14 3.63l6.14 -3.63l6.14 3.63l6.14 -3.63l6.14 3.63l6.14 -3.63l6.14 3.63l6.14 -3.63l6.14 3.63l6.14 -3.63l6.14 3.63l6.14 -3.63l6.14 3.63l6.14 -3.63l6.14 3.63l6.14 -3.63l6.14 3.63l6.14 -3.63l6.14 3.63l6.14 -3.63l6.14 3.63l6.14 -3.63l6.14 3.63l6.14 -3.63l6.14 3.63l6.14 -3.63l6.14 3.63l6.14 -3.63l6.14 3.63l6.14 -3.63l6.14 3.63l6.14 -3.63l6.14 3.63l6.14 -3.63l6.14 3.63l6.14 -3.63l6.14 3.63l6.14 -3.63l6.14 3.63l6.14 -3.63l6.14 3.63l6.14 -3.63l6.14 3.63M103.26 413.67l6.14 -3.63l6.14 3.63l6.14 -3.63l6.14 3.63l6.14 -3.63l6.14 3.63l6.14 -3.63l6.14 3.63l6.14 -3.63l6.14 3.63l6.14 -3.63l6.14 3.63l6.14 -3.63l6.14 3.63l6.14 -3.63l6.14 3.63l6.14 -3.63l6.14 3.63l6.14 -3.63l6.14 3.63l6.14 -3.63l6.14 3.63l6.14 -3.63l6.14 3.63l6.14 -3.63l6.14 3.63l6.14 -3.63l6.14 3.63l6.14 -3.63l6.14 3.63l6.14 -3.63l6.14 3.63l6.14 -3.63l6.14 3.63l6.14 -3.63l6.14 3.63l6.14 -3.63l6.14 3.63l6.14 -3.63l6.14 3.63l6.14 -3.63l6.14 3.63l6.14 -3.63l6.14 3.63l6.14 -3.63l6.14 3.63l6.14 -3.63l6.14 3.63l6.14 -3.63l6.14 3.63l6.14 -3.63l6.14 3.63l6.14 -3.63l6.14 3.63l6.14 -3.63l6.14 3.63l6.14 -3.63l6.14 3.63l6.14 -3.63l6.14 3.63l6.14 -3.63l6.14 3.63l6.14 -3.63l6.14 3.63l6.14 -3.63l6.14 3.63l6.14 -3.63l6.14 3.63l6.14 -3.63l6.14 3.63l6.14 -3.63l6.14 3.63l6.14 -3.63l6.14 3.63l6.14 -3.63l6.14 3.63l6.14 -3.63l6.14 3.63l6.14 -3.63l6.14 3.63l6.14 -3.63l6.14 3.63l6.14 -3.63M103.26 420.93l6.14 3.63l6.14 -3.63l6.14 3.63l6.14 -3.63l6.14 3.63l6.14 -3.63l6.14 3.63l6.14 -3.63l6.14 3.63l6.14 -3.63l6.14 3.63l6.14 -3.63l6.14 3.63l6.14 -3.63l6.14 3.63l6.14 -3.63l6.14 3.63l6.14 -3.63l6.14 3.63l6.14 -3.63l6.14 3.63l6.14 -3.63l6.14 3.63l6.14 -3.63l6.14 3.63l6.14 -3.63l6.14 3.63l6.14 -3.63l6.14 3.63l6.14 -3.63l6.14 3.63l6.14 -3.63l6.14 3.63l6.14 -3.63l6.14 3.63l6.14 -3.63l6.14 3.63l6.14 -3.63l6.14 3.63l6.14 -3.63l6.14 3.63l6.14 -3.63l6.14 3.63l6.14 -3.63l6.14 3.63l6.14 -3.63l6.14 3.63l6.14 -3.63l6.14 3.63l6.14 -3.63l6.14 3.63l6.14 -3.63l6.14 3.63l6.14 -3.63l6.14 3.63l6.14 -3.63l6.14 3.63l6.14 -3.63l6.14 3.63l6.14 -3.63l6.14 3.63l6.14 -3.63l6.14 3.63l6.14 -3.63l6.14 3.63l6.14 -3.63l6.14 3.63l6.14 -3.63l6.14 3.63l6.14 -3.63l6.14 3.63l6.14 -3.63l6.14 3.63l6.14 -3.63l6.14 3.63l6.14 -3.63l6.14 3.63l6.14 -3.63l6.14 3.63l6.14 -3.63l6.14 3.63l6.14 -3.63l6.14 3.63M103.26 435.46l6.14 -3.63l6.14 3.63l6.14 -3.63l6.14 3.63l6.14 -3.63l6.14 3.63l6.14 -3.63l6.14 3.63l6.14 -3.63l6.14 3.63l6.14 -3.63l6.14 3.63l6.14 -3.63l6.14 3.63l6.14 -3.63l6.14 3.63l6.14 -3.63l6.14 3.63l6.14 -3.63l6.14 3.63l6.14 -3.63l6.14 3.63l6.14 -3.63l6.14 3.63l6.14 -3.63l6.14 3.63l6.14 -3.63l6.14 3.63l6.14 -3.63l6.14 3.63l6.14 -3.63l6.14 3.63l6.14 -3.63l6.14 3.63l6.14 -3.63l6.14 3.63l6.14 -3.63l6.14 3.63l6.14 -3.63l6.14 3.63l6.14 -3.63l6.14 3.63l6.14 -3.63l6.14 3.63l6.14 -3.63l6.14 3.63l6.14 -3.63l6.14 3.63l6.14 -3.63l6.14 3.63l6.14 -3.63l6.14 3.63l6.14 -3.63l6.14 3.63l6.14 -3.63l6.14 3.63l6.14 -3.63l6.14 3.63l6.14 -3.63l6.14 3.63l6.14 -3.63l6.14 3.63l6.14 -3.63l6.14 3.63l6.14 -3.63l6.14 3.63l6.14 -3.63l6.14 3.63l6.14 -3.63l6.14 3.63l6.14 -3.63l6.14 3.63l6.14 -3.63l6.14 3.63l6.14 -3.63l6.14 3.63l6.14 -3.63l6.14 3.63l6.14 -3.63l6.14 3.63l6.14 -3.63l6.14 3.63l6.14 -3.63M103.26 442.72l6.14 3.63l6.14 -3.63l6.14 3.63l6.14 -3.63l6.14 3.63l6.14 -3.63l6.14 3.63l6.14 -3.63l6.14 3.63l6.14 -3.63l6.14 3.63l6.14 -3.63l6.14 3.63l6.14 -3.63l6.14 3.63l6.14 -3.63l6.14 3.63l6.14 -3.63l6.14 3.63l6.14 -3.63l6.14 3.63l6.14 -3.63l6.14 3.63l6.14 -3.63l6.14 3.63l6.14 -3.63l6.14 3.63l6.14 -3.63l6.14 3.63l6.14 -3.63l6.14 3.63l6.14 -3.63l6.14 3.63l6.14 -3.63l6.14 3.63l6.14 -3.63l6.14 3.63l6.14 -3.63l6.14 3.63l6.14 -3.63l6.14 3.63l6.14 -3.63l6.14 3.63l6.14 -3.63l6.14 3.63l6.14 -3.63l6.14 3.63l6.14 -3.63l6.14 3.63l6.14 -3.63l6.14 3.63l6.14 -3.63l6.14 3.63l6.14 -3.63l6.14 3.63l6.14 -3.63l6.14 3.63l6.14 -3.63l6.14 3.63l6.14 -3.63l6.14 3.63l6.14 -3.63l6.14 3.63l6.14 -3.63l6.14 3.63l6.14 -3.63l6.14 3.63l6.14 -3.63l6.14 3.63l6.14 -3.63l6.14 3.63l6.14 -3.63l6.14 3.63l6.14 -3.63l6.14 3.63l6.14 -3.63l6.14 3.63l6.14 -3.63l6.14 3.63l6.14 -3.63l6.14 3.63l6.14 -3.63l6.14 3.63M103.26 457.25l6.14 -3.63l6.14 3.63l6.14 -3.63l6.14 3.63l6.14 -3.63l6.14 3.63l6.14 -3.63l6.14 3.63l6.14 -3.63l6.14 3.63l6.14 -3.63l6.14 3.63l6.14 -3.63l6.14 3.63l6.14 -3.63l6.14 3.63l6.14 -3.63l6.14 3.63l6.14 -3.63l6.14 3.63l6.14 -3.63l6.14 3.63l6.14 -3.63l6.14 3.63l6.14 -3.63l6.14 3.63l6.14 -3.63l6.14 3.63l6.14 -3.63l6.14 3.63l6.14 -3.63l6.14 3.63l6.14 -3.63l6.14 3.63l6.14 -3.63l6.14 3.63l6.14 -3.63l6.14 3.63l6.14 -3.63l6.14 3.63l6.14 -3.63l6.14 3.63l6.14 -3.63l6.14 3.63l6.14 -3.63l6.14 3.63l6.14 -3.63l6.14 3.63l6.14 -3.63l6.14 3.63l6.14 -3.63l6.14 3.63l6.14 -3.63l6.14 3.63l6.14 -3.63l6.14 3.63l6.14 -3.63l6.14 3.63l6.14 -3.63l6.14 3.63l6.14 -3.63l6.14 3.63l6.14 -3.63l6.14 3.63l6.14 -3.63l6.14 3.63l6.14 -3.63l6.14 3.63l6.14 -3.63l6.14 3.63l6.14 -3.63l6.14 3.63l6.14 -3.63l6.14 3.63l6.14 -3.63l6.14 3.63l6.14 -3.63l6.14 3.63l6.14 -3.63l6.14 3.63l6.14 -3.63l6.14 3.63l6.14 -3.63M103.26 464.51l6.14 3.63l6.14 -3.63l6.14 3.63l6.14 -3.63l6.14 3.63l6.14 -3.63l6.14 3.63l6.14 -3.63l6.14 3.63l6.14 -3.63l6.14 3.63l6.14 -3.63l6.14 3.63l6.14 -3.63l6.14 3.63l6.14 -3.63l6.14 3.63l6.14 -3.63l6.14 3.63l6.14 -3.63l6.14 3.63l6.14 -3.63l6.14 3.63l6.14 -3.63l6.14 3.63l6.14 -3.63l6.14 3.63l6.14 -3.63l6.14 3.63l6.14 -3.63l6.14 3.63l6.14 -3.63l6.14 3.63l6.14 -3.63l6.14 3.63l6.14 -3.63l6.14 3.63l6.14 -3.63l6.14 3.63l6.14 -3.63l6.14 3.63l6.14 -3.63l6.14 3.63l6.14 -3.63l6.14 3.63l6.14 -3.63l6.14 3.63l6.14 -3.63l6.14 3.63l6.14 -3.63l6.14 3.63l6.14 -3.63l6.14 3.63l6.14 -3.63l6.14 3.63l6.14 -3.63l6.14 3.63l6.14 -3.63l6.14 3.63l6.14 -3.63l6.14 3.63l6.14 -3.63l6.14 3.63l6.14 -3.63l6.14 3.63l6.14 -3.63l6.14 3.63l6.14 -3.63l6.14 3.63l6.14 -3.63l6.14 3.63l6.14 -3.63l6.14 3.63l6.14 -3.63l6.14 3.63l6.14 -3.63l6.14 3.63l6.14 -3.63l6.14 3.63l6.14 -3.63l6.14 3.63l6.14 -3.63l6.14 3.63M103.26 479.04l6.14 -3.63l6.14 3.63l6.14 -3.63l6.14 3.63l6.14 -3.63l6.14 3.63l6.14 -3.63l6.14 3.63l6.14 -3.63l6.14 3.63l6.14 -3.63l6.14 3.63l6.14 -3.63l6.14 3.63l6.14 -3.63l6.14 3.63l6.14 -3.63l6.14 3.63l6.14 -3.63l6.14 3.63l6.14 -3.63l6.14 3.63l6.14 -3.63l6.14 3.63l6.14 -3.63l6.14 3.63l6.14 -3.63l6.14 3.63l6.14 -3.63l6.14 3.63l6.14 -3.63l6.14 3.63l6.14 -3.63l6.14 3.63l6.14 -3.63l6.14 3.63l6.14 -3.63l6.14 3.63l6.14 -3.63l6.14 3.63l6.14 -3.63l6.14 3.63l6.14 -3.63l6.14 3.63l6.14 -3.63l6.14 3.63l6.14 -3.63l6.14 3.63l6.14 -3.63l6.14 3.63l6.14 -3.63l6.14 3.63l6.14 -3.63l6.14 3.63l6.14 -3.63l6.14 3.63l6.14 -3.63l6.14 3.63l6.14 -3.63l6.14 3.63l6.14 -3.63l6.14 3.63l6.14 -3.63l6.14 3.63l6.14 -3.63l6.14 3.63l6.14 -3.63l6.14 3.63l6.14 -3.63l6.14 3.63l6.14 -3.63l6.14 3.63l6.14 -3.63l6.14 3.63l6.14 -3.63l6.14 3.63l6.14 -3.63l6.14 3.63l6.14 -3.63l6.14 3.63l6.14 -3.63l6.14 3.63l6.14 -3.63M103.26 486.31l6.14 3.63l6.14 -3.63l6.14 3.63l6.14 -3.63l6.14 3.63l6.14 -3.63l6.14 3.63l6.14 -3.63l6.14 3.63l6.14 -3.63l6.14 3.63l6.14 -3.63l6.14 3.63l6.14 -3.63l6.14 3.63l6.14 -3.63l6.14 3.63l6.14 -3.63l6.14 3.63l6.14 -3.63l6.14 3.63l6.14 -3.63l6.14 3.63l6.14 -3.63l6.14 3.63l6.14 -3.63l6.14 3.63l6.14 -3.63l6.14 3.63l6.14 -3.63l6.14 3.63l6.14 -3.63l6.14 3.63l6.14 -3.63l6.14 3.63l6.14 -3.63l6.14 3.63l6.14 -3.63l6.14 3.63l6.14 -3.63l6.14 3.63l6.14 -3.63l6.14 3.63l6.14 -3.63l6.14 3.63l6.14 -3.63l6.14 3.63l6.14 -3.63l6.14 3.63l6.14 -3.63l6.14 3.63l6.14 -3.63l6.14 3.63l6.14 -3.63l6.14 3.63l6.14 -3.63l6.14 3.63l6.14 -3.63l6.14 3.63l6.14 -3.63l6.14 3.63l6.14 -3.63l6.14 3.63l6.14 -3.63l6.14 3.63l6.14 -3.63l6.14 3.63l6.14 -3.63l6.14 3.63l6.14 -3.63l6.14 3.63l6.14 -3.63l6.14 3.63l6.14 -3.63l6.14 3.63l6.14 -3.63l6.14 3.63l6.14 -3.63l6.14 3.63l6.14 -3.63l6.14 3.63l6.14 -3.63l6.14 3.63M103.26 500.83l6.14 -3.63l6.14 3.63l6.14 -3.63l6.14 3.63l6.14 -3.63l6.14 3.63l6.14 -3.63l6.14 3.63l6.14 -3.63l6.14 3.63l6.14 -3.63l6.14 3.63l6.14 -3.63l6.14 3.63l6.14 -3.63l6.14 3.63l6.14 -3.63l6.14 3.63l6.14 -3.63l6.14 3.63l6.14 -3.63l6.14 3.63l6.14 -3.63l6.14 3.63l6.14 -3.63l6.14 3.63l6.14 -3.63l6.14 3.63l6.14 -3.63l6.14 3.63l6.14 -3.63l6.14 3.63l6.14 -3.63l6.14 3.63l6.14 -3.63l6.14 3.63l6.14 -3.63l6.14 3.63l6.14 -3.63l6.14 3.63l6.14 -3.63l6.14 3.63l6.14 -3.63l6.14 3.63l6.14 -3.63l6.14 3.63l6.14 -3.63l6.14 3.63l6.14 -3.63l6.14 3.63l6.14 -3.63l6.14 3.63l6.14 -3.63l6.14 3.63l6.14 -3.63l6.14 3.63l6.14 -3.63l6.14 3.63l6.14 -3.63l6.14 3.63l6.14 -3.63l6.14 3.63l6.14 -3.63l6.14 3.63l6.14 -3.63l6.14 3.63l6.14 -3.63l6.14 3.63l6.14 -3.63l6.14 3.63l6.14 -3.63l6.14 3.63l6.14 -3.63l6.14 3.63l6.14 -3.63l6.14 3.63l6.14 -3.63l6.14 3.63l6.14 -3.63l6.14 3.63l6.14 -3.63l6.14 3.63l6.14 -3.63M103.26 508.10l6.14 3.63l6.14 -3.63l6.14 3.63l6.14 -3.63l6.14 3.63l6.14 -3.63l6.14 3.63l6.14 -3.63l6.14 3.63l6.14 -3.63l6.14 3.63l6.14 -3.63l6.14 3.63l6.14 -3.63l6.14 3.63l6.14 -3.63l6.14 3.63l6.14 -3.63l6.14 3.63l6.14 -3.63l6.14 3.63l6.14 -3.63l6.14 3.63l6.14 -3.63l6.14 3.63l6.14 -3.63l6.14 3.63l6.14 -3.63l6.14 3.63l6.14 -3.63l6.14 3.63l6.14 -3.63l6.14 3.63l6.14 -3.63l6.14 3.63l6.14 -3.63l6.14 3.63l6.14 -3.63l6.14 3.63l6.14 -3.63l6.14 3.63l6.14 -3.63l6.14 3.63l6.14 -3.63l6.14 3.63l6.14 -3.63l6.14 3.63l6.14 -3.63l6.14 3.63l6.14 -3.63l6.14 3.63l6.14 -3.63l6.14 3.63l6.14 -3.63l6.14 3.63l6.14 -3.63l6.14 3.63l6.14 -3.63l6.14 3.63l6.14 -3.63l6.14 3.63l6.14 -3.63l6.14 3.63l6.14 -3.63l6.14 3.63l6.14 -3.63l6.14 3.63l6.14 -3.63l6.14 3.63l6.14 -3.63l6.14 3.63l6.14 -3.63l6.14 3.63l6.14 -3.63l6.14 3.63l6.14 -3.63l6.14 3.63l6.14 -3.63l6.14 3.63l6.14 -3.63l6.14 3.63l6.14 -3.63l6.14 3.63M103.26 522.63l6.14 -3.63l6.14 3.63l6.14 -3.63l6.14 3.63l6.14 -3.63l6.14 3.63l6.14 -3.63l6.14 3.63l6.14 -3.63l6.14 3.63l6.14 -3.63l6.14 3.63l6.14 -3.63l6.14 3.63l6.14 -3.63l6.14 3.63l6.14 -3.63l6.14 3.63l6.14 -3.63l6.14 3.63l6.14 -3.63l6.14 3.63l6.14 -3.63l6.14 3.63l6.14 -3.63l6.14 3.63l6.14 -3.63l6.14 3.63l6.14 -3.63l6.14 3.63l6.14 -3.63l6.14 3.63l6.14 -3.63l6.14 3.63l6.14 -3.63l6.14 3.63l6.14 -3.63l6.14 3.63l6.14 -3.63l6.14 3.63l6.14 -3.63l6.14 3.63l6.14 -3.63l6.14 3.63l6.14 -3.63l6.14 3.63l6.14 -3.63l6.14 3.63l6.14 -3.63l6.14 3.63l6.14 -3.63l6.14 3.63l6.14 -3.63l6.14 3.63l6.14 -3.63l6.14 3.63l6.14 -3.63l6.14 3.63l6.14 -3.63l6.14 3.63l6.14 -3.63l6.14 3.63l6.14 -3.63l6.14 3.63l6.14 -3.63l6.14 3.63l6.14 -3.63l6.14 3.63l6.14 -3.63l6.14 3.63l6.14 -3.63l6.14 3.63l6.14 -3.63l6.14 3.63l6.14 -3.63l6.14 3.63l6.14 -3.63l6.14 3.63l6.14 -3.63l6.14 3.63l6.14 -3.63l6.14 3.63l6.14 -3.63M103.26 529.89l6.14 3.63l6.14 -3.63l6.14 3.63l6.14 -3.63l6.14 3.63l6.14 -3.63l6.14 3.63l6.14 -3.63l6.14 3.63l6.14 -3.63l6.14 3.63l6.14 -3.63l6.14 3.63l6.14 -3.63l6.14 3.63l6.14 -3.63l6.14 3.63l6.14 -3.63l6.14 3.63l6.14 -3.63l6.14 3.63l6.14 -3.63l6.14 3.63l6.14 -3.63l6.14 3.63l6.14 -3.63l6.14 3.63l6.14 -3.63l6.14 3.63l6.14 -3.63l6.14 3.63l6.14 -3.63l6.14 3.63l6.14 -3.63l6.14 3.63l6.14 -3.63l6.14 3.63l6.14 -3.63l6.14 3.63l6.14 -3.63l6.14 3.63l6.14 -3.63l6.14 3.63l6.14 -3.63l6.14 3.63l6.14 -3.63l6.14 3.63l6.14 -3.63l6.14 3.63l6.14 -3.63l6.14 3.63l6.14 -3.63l6.14 3.63l6.14 -3.63l6.14 3.63l6.14 -3.63l6.14 3.63l6.14 -3.63l6.14 3.63l6.14 -3.63l6.14 3.63l6.14 -3.63l6.14 3.63l6.14 -3.63l6.14 3.63l6.14 -3.63l6.14 3.63l6.14 -3.63l6.14 3.63l6.14 -3.63l6.14 3.63l6.14 -3.63l6.14 3.63l6.14 -3.63l6.14 3.63l6.14 -3.63l6.14 3.63l6.14 -3.63l6.14 3.63l6.14 -3.63l6.14 3.63l6.14 -3.63l6.14 3.63M103.26 544.42l6.14 -3.63l6.14 3.63l6.14 -3.63l6.14 3.63l6.14 -3.63l6.14 3.63l6.14 -3.63l6.14 3.63l6.14 -3.63l6.14 3.63l6.14 -3.63l6.14 3.63l6.14 -3.63l6.14 3.63l6.14 -3.63l6.14 3.63l6.14 -3.63l6.14 3.63l6.14 -3.63l6.14 3.63l6.14 -3.63l6.14 3.63l6.14 -3.63l6.14 3.63l6.14 -3.63l6.14 3.63l6.14 -3.63l6.14 3.63l6.14 -3.63l6.14 3.63l6.14 -3.63l6.14 3.63l6.14 -3.63l6.14 3.63l6.14 -3.63l6.14 3.63l6.14 -3.63l6.14 3.63l6.14 -3.63l6.14 3.63l6.14 -3.63l6.14 3.63l6.14 -3.63l6.14 3.63l6.14 -3.63l6.14 3.63l6.14 -3.63l6.14 3.63l6.14 -3.63l6.14 3.63l6.14 -3.63l6.14 3.63l6.14 -3.63l6.14 3.63l6.14 -3.63l6.14 3.63l6.14 -3.63l6.14 3.63l6.14 -3.63l6.14 3.63l6.14 -3.63l6.14 3.63l6.14 -3.63l6.14 3.63l6.14 -3.63l6.14 3.63l6.14 -3.63l6.14 3.63l6.14 -3.63l6.14 3.63l6.14 -3.63l6.14 3.63l6.14 -3.63l6.14 3.63l6.14 -3.63l6.14 3.63l6.14 -3.63l6.14 3.63l6.14 -3.63l6.14 3.63l6.14 -3.63l6.14 3.63l6.14 -3.63M103.26 551.68l6.14 3.63l6.14 -3.63l6.14 3.63l6.14 -3.63l6.14 3.63l6.14 -3.63l6.14 3.63l6.14 -3.63l6.14 3.63l6.14 -3.63l6.14 3.63l6.14 -3.63l6.14 3.63l6.14 -3.63l6.14 3.63l6.14 -3.63l6.14 3.63l6.14 -3.63l6.14 3.63l6.14 -3.63l6.14 3.63l6.14 -3.63l6.14 3.63l6.14 -3.63l6.14 3.63l6.14 -3.63l6.14 3.63l6.14 -3.63l6.14 3.63l6.14 -3.63l6.14 3.63l6.14 -3.63l6.14 3.63l6.14 -3.63l6.14 3.63l6.14 -3.63l6.14 3.63l6.14 -3.63l6.14 3.63l6.14 -3.63l6.14 3.63l6.14 -3.63l6.14 3.63l6.14 -3.63l6.14 3.63l6.14 -3.63l6.14 3.63l6.14 -3.63l6.14 3.63l6.14 -3.63l6.14 3.63l6.14 -3.63l6.14 3.63l6.14 -3.63l6.14 3.63l6.14 -3.63l6.14 3.63l6.14 -3.63l6.14 3.63l6.14 -3.63l6.14 3.63l6.14 -3.63l6.14 3.63l6.14 -3.63l6.14 3.63l6.14 -3.63l6.14 3.63l6.14 -3.63l6.14 3.63l6.14 -3.63l6.14 3.63l6.14 -3.63l6.14 3.63l6.14 -3.63l6.14 3.63l6.14 -3.63l6.14 3.63l6.14 -3.63l6.14 3.63l6.14 -3.63l6.14 3.63l6.14 -3.63l6.14 3.63M103.26 566.21l6.14 -3.63l6.14 3.63l6.14 -3.63l6.14 3.63l6.14 -3.63l6.14 3.63l6.14 -3.63l6.14 3.63l6.14 -3.63l6.14 3.63l6.14 -3.63l6.14 3.63l6.14 -3.63l6.14 3.63l6.14 -3.63l6.14 3.63l6.14 -3.63l6.14 3.63l6.14 -3.63l6.14 3.63l6.14 -3.63l6.14 3.63l6.14 -3.63l6.14 3.63l6.14 -3.63l6.14 3.63l6.14 -3.63l6.14 3.63l6.14 -3.63l6.14 3.63l6.14 -3.63l6.14 3.63l6.14 -3.63l6.14 3.63l6.14 -3.63l6.14 3.63l6.14 -3.63l6.14 3.63l6.14 -3.63l6.14 3.63l6.14 -3.63l6.14 3.63l6.14 -3.63l6.14 3.63l6.14 -3.63l6.14 3.63l6.14 -3.63l6.14 3.63l6.14 -3.63l6.14 3.63l6.14 -3.63l6.14 3.63l6.14 -3.63l6.14 3.63l6.14 -3.63l6.14 3.63l6.14 -3.63l6.14 3.63l6.14 -3.63l6.14 3.63l6.14 -3.63l6.14 3.63l6.14 -3.63l6.14 3.63l6.14 -3.63l6.14 3.63l6.14 -3.63l6.14 3.63l6.14 -3.63l6.14 3.63l6.14 -3.63l6.14 3.63l6.14 -3.63l6.14 3.63l6.14 -3.63l6.14 3.63l6.14 -3.63l6.14 3.63l6.14 -3.63l6.14 3.63l6.14 -3.63l6.14 3.63l6.14 -3.63M103.26 573.47l6.14 3.63l6.14 -3.63l6.14 3.63l6.14 -3.63l6.14 3.63l6.14 -3.63l6.14 3.63l6.14 -3.63l6.14 3.63l6.14 -3.63l6.14 3.63l6.14 -3.63l6.14 3.63l6.14 -3.63l6.14 3.63l6.14 -3.63l6.14 3.63l6.14 -3.63l6.14 3.63l6.14 -3.63l6.14 3.63l6.14 -3.63l6.14 3.63l6.14 -3.63l6.14 3.63l6.14 -3.63l6.14 3.63l6.14 -3.63l6.14 3.63l6.14 -3.63l6.14 3.63l6.14 -3.63l6.14 3.63l6.14 -3.63l6.14 3.63l6.14 -3.63l6.14 3.63l6.14 -3.63l6.14 3.63l6.14 -3.63l6.14 3.63l6.14 -3.63l6.14 3.63l6.14 -3.63l6.14 3.63l6.14 -3.63l6.14 3.63l6.14 -3.63l6.14 3.63l6.14 -3.63l6.14 3.63l6.14 -3.63l6.14 3.63l6.14 -3.63l6.14 3.63l6.14 -3.63l6.14 3.63l6.14 -3.63l6.14 3.63l6.14 -3.63l6.14 3.63l6.14 -3.63l6.14 3.63l6.14 -3.63l6.14 3.63l6.14 -3.63l6.14 3.63l6.14 -3.63l6.14 3.63l6.14 -3.63l6.14 3.63l6.14 -3.63l6.14 3.63l6.14 -3.63l6.14 3.63l6.14 -3.63l6.14 3.63l6.14 -3.63l6.14 3.63l6.14 -3.63l6.14 3.63l6.14 -3.63l6.14 3.63M103.26 588.00l6.14 -3.63l6.14 3.63l6.14 -3.63l6.14 3.63l6.14 -3.63l6.14 3.63l6.14 -3.63l6.14 3.63l6.14 -3.63l6.14 3.63l6.14 -3.63l6.14 3.63l6.14 -3.63l6.14 3.63l6.14 -3.63l6.14 3.63l6.14 -3.63l6.14 3.63l6.14 -3.63l6.14 3.63l6.14 -3.63l6.14 3.63l6.14 -3.63l6.14 3.63l6.14 -3.63l6.14 3.63l6.14 -3.63l6.14 3.63l6.14 -3.63l6.14 3.63l6.14 -3.63l6.14 3.63l6.14 -3.63l6.14 3.63l6.14 -3.63l6.14 3.63l6.14 -3.63l6.14 3.63l6.14 -3.63l6.14 3.63l6.14 -3.63l6.14 3.63l6.14 -3.63l6.14 3.63l6.14 -3.63l6.14 3.63l6.14 -3.63l6.14 3.63l6.14 -3.63l6.14 3.63l6.14 -3.63l6.14 3.63l6.14 -3.63l6.14 3.63l6.14 -3.63l6.14 3.63l6.14 -3.63l6.14 3.63l6.14 -3.63l6.14 3.63l6.14 -3.63l6.14 3.63l6.14 -3.63l6.14 3.63l6.14 -3.63l6.14 3.63l6.14 -3.63l6.14 3.63l6.14 -3.63l6.14 3.63l6.14 -3.63l6.14 3.63l6.14 -3.63l6.14 3.63l6.14 -3.63l6.14 3.63l6.14 -3.63l6.14 3.63l6.14 -3.63l6.14 3.63l6.14 -3.63l6.14 3.63l6.14 -3.63M103.26 595.27l6.14 3.63l6.14 -3.63l6.14 3.63l6.14 -3.63l6.14 3.63l6.14 -3.63l6.14 3.63l6.14 -3.63l6.14 3.63l6.14 -3.63l6.14 3.63l6.14 -3.63l6.14 3.63l6.14 -3.63l6.14 3.63l6.14 -3.63l6.14 3.63l6.14 -3.63l6.14 3.63l6.14 -3.63l6.14 3.63l6.14 -3.63l6.14 3.63l6.14 -3.63l6.14 3.63l6.14 -3.63l6.14 3.63l6.14 -3.63l6.14 3.63l6.14 -3.63l6.14 3.63l6.14 -3.63l6.14 3.63l6.14 -3.63l6.14 3.63l6.14 -3.63l6.14 3.63l6.14 -3.63l6.14 3.63l6.14 -3.63l6.14 3.63l6.14 -3.63l6.14 3.63l6.14 -3.63l6.14 3.63l6.14 -3.63l6.14 3.63l6.14 -3.63l6.14 3.63l6.14 -3.63l6.14 3.63l6.14 -3.63l6.14 3.63l6.14 -3.63l6.14 3.63l6.14 -3.63l6.14 3.63l6.14 -3.63l6.14 3.63l6.14 -3.63l6.14 3.63l6.14 -3.63l6.14 3.63l6.14 -3.63l6.14 3.63l6.14 -3.63l6.14 3.63l6.14 -3.63l6.14 3.63l6.14 -3.63l6.14 3.63l6.14 -3.63l6.14 3.63l6.14 -3.63l6.14 3.63l6.14 -3.63l6.14 3.63l6.14 -3.63l6.14 3.63l6.14 -3.63l6.14 3.63l6.14 -3.63l6.14 3.63M103.26 609.79l6.14 -3.63l6.14 3.63l6.14 -3.63l6.14 3.63l6.14 -3.63l6.14 3.63l6.14 -3.63l6.14 3.63l6.14 -3.63l6.14 3.63l6.14 -3.63l6.14 3.63l6.14 -3.63l6.14 3.63l6.14 -3.63l6.14 3.63l6.14 -3.63l6.14 3.63l6.14 -3.63l6.14 3.63l6.14 -3.63l6.14 3.63l6.14 -3.63l6.14 3.63l6.14 -3.63l6.14 3.63l6.14 -3.63l6.14 3.63l6.14 -3.63l6.14 3.63l6.14 -3.63l6.14 3.63l6.14 -3.63l6.14 3.63l6.14 -3.63l6.14 3.63l6.14 -3.63l6.14 3.63l6.14 -3.63l6.14 3.63l6.14 -3.63l6.14 3.63l6.14 -3.63l6.14 3.63l6.14 -3.63l6.14 3.63l6.14 -3.63l6.14 3.63l6.14 -3.63l6.14 3.63l6.14 -3.63l6.14 3.63l6.14 -3.63l6.14 3.63l6.14 -3.63l6.14 3.63l6.14 -3.63l6.14 3.63l6.14 -3.63l6.14 3.63l6.14 -3.63l6.14 3.63l6.14 -3.63l6.14 3.63l6.14 -3.63l6.14 3.63l6.14 -3.63l6.14 3.63l6.14 -3.63l6.14 3.63l6.14 -3.63l6.14 3.63l6.14 -3.63l6.14 3.63l6.14 -3.63l6.14 3.63l6.14 -3.63l6.14 3.63l6.14 -3.63l6.14 3.63l6.14 -3.63l6.14 3.63l6.14 -3.63M103.26 617.06l6.14 3.63l6.14 -3.63l6.14 3.63l6.14 -3.63l6.14 3.63l6.14 -3.63l6.14 3.63l6.14 -3.63l6.14 3.63l6.14 -3.63l6.14 3.63l6.14 -3.63l6.14 3.63l6.14 -3.63l6.14 3.63l6.14 -3.63l6.14 3.63l6.14 -3.63l6.14 3.63l6.14 -3.63l6.14 3.63l6.14 -3.63l6.14 3.63l6.14 -3.63l6.14 3.63l6.14 -3.63l6.14 3.63l6.14 -3.63l6.14 3.63l6.14 -3.63l6.14 3.63l6.14 -3.63l6.14 3.63l6.14 -3.63l6.14 3.63l6.14 -3.63l6.14 3.63l6.14 -3.63l6.14 3.63l6.14 -3.63l6.14 3.63l6.14 -3.63l6.14 3.63l6.14 -3.63l6.14 3.63l6.14 -3.63l6.14 3.63l6.14 -3.63l6.14 3.63l6.14 -3.63l6.14 3.63l6.14 -3.63l6.14 3.63l6.14 -3.63l6.14 3.63l6.14 -3.63l6.14 3.63l6.14 -3.63l6.14 3.63l6.14 -3.63l6.14 3.63l6.14 -3.63l6.14 3.63l6.14 -3.63l6.14 3.63l6.14 -3.63l6.14 3.63l6.14 -3.63l6.14 3.63l6.14 -3.63l6.14 3.63l6.14 -3.63l6.14 3.63l6.14 -3.63l6.14 3.63l6.14 -3.63l6.14 3.63l6.14 -3.63l6.14 3.63l6.14 -3.63l6.14 3.63l6.14 -3.63l6.14 3.63M103.26 631.59l6.14 -3.63l6.14 3.63l6.14 -3.63l6.14 3.63l6.14 -3.63l6.14 3.63l6.14 -3.63l6.14 3.63l6.14 -3.63l6.14 3.63l6.14 -3.63l6.14 3.63l6.14 -3.63l6.14 3.63l6.14 -3.63l6.14 3.63l6.14 -3.63l6.14 3.63l6.14 -3.63l6.14 3.63l6.14 -3.63l6.14 3.63l6.14 -3.63l6.14 3.63l6.14 -3.63l6.14 3.63l6.14 -3.63l6.14 3.63l6.14 -3.63l6.14 3.63l6.14 -3.63l6.14 3.63l6.14 -3.63l6.14 3.63l6.14 -3.63l6.14 3.63l6.14 -3.63l6.14 3.63l6.14 -3.63l6.14 3.63l6.14 -3.63l6.14 3.63l6.14 -3.63l6.14 3.63l6.14 -3.63l6.14 3.63l6.14 -3.63l6.14 3.63l6.14 -3.63l6.14 3.63l6.14 -3.63l6.14 3.63l6.14 -3.63l6.14 3.63l6.14 -3.63l6.14 3.63l6.14 -3.63l6.14 3.63l6.14 -3.63l6.14 3.63l6.14 -3.63l6.14 3.63l6.14 -3.63l6.14 3.63l6.14 -3.63l6.14 3.63l6.14 -3.63l6.14 3.63l6.14 -3.63l6.14 3.63l6.14 -3.63l6.14 3.63l6.14 -3.63l6.14 3.63l6.14 -3.63l6.14 3.63l6.14 -3.63l6.14 3.63l6.14 -3.63l6.14 3.63l6.14 -3.63l6.14 3.63l6.14 -3.63M103.26 638.85l6.14 3.63l6.14 -3.63l6.14 3.63l6.14 -3.63l6.14 3.63l6.14 -3.63l6.14 3.63l6.14 -3.63l6.14 3.63l6.14 -3.63l6.14 3.63l6.14 -3.63l6.14 3.63l6.14 -3.63l6.14 3.63l6.14 -3.63l6.14 3.63l6.14 -3.63l6.14 3.63l6.14 -3.63l6.14 3.63l6.14 -3.63l6.14 3.63l6.14 -3.63l6.14 3.63l6.14 -3.63l6.14 3.63l6.14 -3.63l6.14 3.63l6.14 -3.63l6.14 3.63l6.14 -3.63l6.14 3.63l6.14 -3.63l6.14 3.63l6.14 -3.63l6.14 3.63l6.14 -3.63l6.14 3.63l6.14 -3.63l6.14 3.63l6.14 -3.63l6.14 3.63l6.14 -3.63l6.14 3.63l6.14 -3.63l6.14 3.63l6.14 -3.63l6.14 3.63l6.14 -3.63l6.14 3.63l6.14 -3.63l6.14 3.63l6.14 -3.63l6.14 3.63l6.14 -3.63l6.14 3.63l6.14 -3.63l6.14 3.63l6.14 -3.63l6.14 3.63l6.14 -3.63l6.14 3.63l6.14 -3.63l6.14 3.63l6.14 -3.63l6.14 3.63l6.14 -3.63l6.14 3.63l6.14 -3.63l6.14 3.63l6.14 -3.63l6.14 3.63l6.14 -3.63l6.14 3.63l6.14 -3.63l6.14 3.63l6.14 -3.63l6.14 3.63l6.14 -3.63l6.14 3.63l6.14 -3.63l6.14 3.63M103.26 653.38l6.14 -3.63l6.14 3.63l6.14 -3.63l6.14 3.63l6.14 -3.63l6.14 3.63l6.14 -3.63l6.14 3.63l6.14 -3.63l6.14 3.63l6.14 -3.63l6.14 3.63l6.14 -3.63l6.14 3.63l6.14 -3.63l6.14 3.63l6.14 -3.63l6.14 3.63l6.14 -3.63l6.14 3.63l6.14 -3.63l6.14 3.63l6.14 -3.63l6.14 3.63l6.14 -3.63l6.14 3.63l6.14 -3.63l6.14 3.63l6.14 -3.63l6.14 3.63l6.14 -3.63l6.14 3.63l6.14 -3.63l6.14 3.63l6.14 -3.63l6.14 3.63l6.14 -3.63l6.14 3.63l6.14 -3.63l6.14 3.63l6.14 -3.63l6.14 3.63l6.14 -3.63l6.14 3.63l6.14 -3.63l6.14 3.63l6.14 -3.63l6.14 3.63l6.14 -3.63l6.14 3.63l6.14 -3.63l6.14 3.63l6.14 -3.63l6.14 3.63l6.14 -3.63l6.14 3.63l6.14 -3.63l6.14 3.63l6.14 -3.63l6.14 3.63l6.14 -3.63l6.14 3.63l6.14 -3.63l6.14 3.63l6.14 -3.63l6.14 3.63l6.14 -3.63l6.14 3.63l6.14 -3.63l6.14 3.63l6.14 -3.63l6.14 3.63l6.14 -3.63l6.14 3.63l6.14 -3.63l6.14 3.63l6.14 -3.63l6.14 3.63l6.14 -3.63l6.14 3.63l6.14 -3.63l6.14 3.63l6.14 -3.63M103.26 660.64l6.14 3.63l6.14 -3.63l6.14 3.63l6.14 -3.63l6.14 3.63l6.14 -3.63l6.14 3.63l6.14 -3.63l6.14 3.63l6.14 -3.63l6.14 3.63l6.14 -3.63l6.14 3.63l6.14 -3.63l6.14 3.63l6.14 -3.63l6.14 3.63l6.14 -3.63l6.14 3.63l6.14 -3.63l6.14 3.63l6.14 -3.63l6.14 3.63l6.14 -3.63l6.14 3.63l6.14 -3.63l6.14 3.63l6.14 -3.63l6.14 3.63l6.14 -3.63l6.14 3.63l6.14 -3.63l6.14 3.63l6.14 -3.63l6.14 3.63l6.14 -3.63l6.14 3.63l6.14 -3.63l6.14 3.63l6.14 -3.63l6.14 3.63l6.14 -3.63l6.14 3.63l6.14 -3.63l6.14 3.63l6.14 -3.63l6.14 3.63l6.14 -3.63l6.14 3.63l6.14 -3.63l6.14 3.63l6.14 -3.63l6.14 3.63l6.14 -3.63l6.14 3.63l6.14 -3.63l6.14 3.63l6.14 -3.63l6.14 3.63l6.14 -3.63l6.14 3.63l6.14 -3.63l6.14 3.63l6.14 -3.63l6.14 3.63l6.14 -3.63l6.14 3.63l6.14 -3.63l6.14 3.63l6.14 -3.63l6.14 3.63l6.14 -3.63l6.14 3.63l6.14 -3.63l6.14 3.63l6.14 -3.63l6.14 3.63l6.14 -3.63l6.14 3.63l6.14 -3.63l6.14 3.63l6.14 -3.63M103.26 152.16v7.26m12.28 -7.26v7.26m12.28 -7.26v7.26m12.28 -7.26v7.26m12.28 -7.26v7.26m12.28 -7.26v7.26m12.28 -7.26v7.26m12.28 -7.26v7.26m12.28 -7.26v7.26m12.28 -7.26v7.26m12.28 -7.26v7.26m12.28 -7.26v7.26m12.28 -7.26v7.26m12.28 -7.26v7.26m12.28 -7.26v7.26m12.28 -7.26v7.26m12.28 -7.26v7.26m12.28 -7.26v7.26m12.28 -7.26v7.26m12.28 -7.26v7.26m12.28 -7.26v7.26m12.28 -7.26v7.26m12.28 -7.26v7.26m12.28 -7.26v7.26m12.28 -7.26v7.26m12.28 -7.26v7.26m12.28 -7.26v7.26m12.28 -7.26v7.26m12.28 -7.26v7.26m12.28 -7.26v7.26m12.28 -7.26v7.26m12.28 -7.26v7.26m12.28 -7.26v7.26m12.28 -7.26v7.26m12.28 -7.26v7.26m12.28 -7.26v7.26m12.28 -7.26v7.26m12.28 -7.26v7.26m12.28 -7.26v7.26m12.28 -7.26v7.26m12.28 -7.26v7.26m12.28 -7.26v7.26M109.40 163.06v7.26m12.28 -7.26v7.26m12.28 -7.26v7.26m12.28 -7.26v7.26m12.28 -7.26v7.26m12.28 -7.26v7.26m12.28 -7.26v7.26m12.28 -7.26v7.26m12.28 -7.26v7.26m12.28 -7.26v7.26m12.28 -7.26v7.26m12.28 -7.26v7.26m12.28 -7.26v7.26m12.28 -7.26v7.26m12.28 -7.26v7.26m12.28 -7.26v7.26m12.28 -7.26v7.26m12.28 -7.26v7.26m12.28 -7.26v7.26m12.28 -7.26v7.26m12.28 -7.26v7.26m12.28 -7.26v7.26m12.28 -7.26v7.26m12.28 -7.26v7.26m12.28 -7.26v7.26m12.28 -7.26v7.26m12.28 -7.26v7.26m12.28 -7.26v7.26m12.28 -7.26v7.26m12.28 -7.26v7.26m12.28 -7.26v7.26m12.28 -7.26v7.26m12.28 -7.26v7.26m12.28 -7.26v7.26m12.28 -7.26v7.26m12.28 -7.26v7.26m12.28 -7.26v7.26m12.28 -7.26v7.26m12.28 -7.26v7.26m12.28 -7.26v7.26m12.28 -7.26v7.26m12.28 -7.26v7.26M103.26 173.95v7.26m12.28 -7.26v7.26m12.28 -7.26v7.26m12.28 -7.26v7.26m12.28 -7.26v7.26m12.28 -7.26v7.26m12.28 -7.26v7.26m12.28 -7.26v7.26m12.28 -7.26v7.26m12.28 -7.26v7.26m12.28 -7.26v7.26m12.28 -7.26v7.26m12.28 -7.26v7.26m12.28 -7.26v7.26m12.28 -7.26v7.26m12.28 -7.26v7.26m12.28 -7.26v7.26m12.28 -7.26v7.26m12.28 -7.26v7.26m12.28 -7.26v7.26m12.28 -7.26v7.26m12.28 -7.26v7.26m12.28 -7.26v7.26m12.28 -7.26v7.26m12.28 -7.26v7.26m12.28 -7.26v7.26m12.28 -7.26v7.26m12.28 -7.26v7.26m12.28 -7.26v7.26m12.28 -7.26v7.26m12.28 -7.26v7.26m12.28 -7.26v7.26m12.28 -7.26v7.26m12.28 -7.26v7.26m12.28 -7.26v7.26m12.28 -7.26v7.26m12.28 -7.26v7.26m12.28 -7.26v7.26m12.28 -7.26v7.26m12.28 -7.26v7.26m12.28 -7.26v7.26m12.28 -7.26v7.26M109.40 184.85v7.26m12.28 -7.26v7.26m12.28 -7.26v7.26m12.28 -7.26v7.26m12.28 -7.26v7.26m12.28 -7.26v7.26m12.28 -7.26v7.26m12.28 -7.26v7.26m12.28 -7.26v7.26m12.28 -7.26v7.26m12.28 -7.26v7.26m12.28 -7.26v7.26m12.28 -7.26v7.26m12.28 -7.26v7.26m12.28 -7.26v7.26m12.28 -7.26v7.26m12.28 -7.26v7.26m12.28 -7.26v7.26m12.28 -7.26v7.26m12.28 -7.26v7.26m12.28 -7.26v7.26m12.28 -7.26v7.26m12.28 -7.26v7.26m12.28 -7.26v7.26m12.28 -7.26v7.26m12.28 -7.26v7.26m12.28 -7.26v7.26m12.28 -7.26v7.26m12.28 -7.26v7.26m12.28 -7.26v7.26m12.28 -7.26v7.26m12.28 -7.26v7.26m12.28 -7.26v7.26m12.28 -7.26v7.26m12.28 -7.26v7.26m12.28 -7.26v7.26m12.28 -7.26v7.26m12.28 -7.26v7.26m12.28 -7.26v7.26m12.28 -7.26v7.26m12.28 -7.26v7.26m12.28 -7.26v7.26M103.26 195.75v7.26m12.28 -7.26v7.26m12.28 -7.26v7.26m12.28 -7.26v7.26m12.28 -7.26v7.26m12.28 -7.26v7.26m12.28 -7.26v7.26m12.28 -7.26v7.26m12.28 -7.26v7.26m12.28 -7.26v7.26m12.28 -7.26v7.26m12.28 -7.26v7.26m12.28 -7.26v7.26m12.28 -7.26v7.26m12.28 -7.26v7.26m12.28 -7.26v7.26m12.28 -7.26v7.26m12.28 -7.26v7.26m12.28 -7.26v7.26m12.28 -7.26v7.26m12.28 -7.26v7.26m12.28 -7.26v7.26m12.28 -7.26v7.26m12.28 -7.26v7.26m12.28 -7.26v7.26m12.28 -7.26v7.26m12.28 -7.26v7.26m12.28 -7.26v7.26m12.28 -7.26v7.26m12.28 -7.26v7.26m12.28 -7.26v7.26m12.28 -7.26v7.26m12.28 -7.26v7.26m12.28 -7.26v7.26m12.28 -7.26v7.26m12.28 -7.26v7.26m12.28 -7.26v7.26m12.28 -7.26v7.26m12.28 -7.26v7.26m12.28 -7.26v7.26m12.28 -7.26v7.26m12.28 -7.26v7.26M109.40 206.64v7.26m12.28 -7.26v7.26m12.28 -7.26v7.26m12.28 -7.26v7.26m12.28 -7.26v7.26m12.28 -7.26v7.26m12.28 -7.26v7.26m12.28 -7.26v7.26m12.28 -7.26v7.26m12.28 -7.26v7.26m12.28 -7.26v7.26m12.28 -7.26v7.26m12.28 -7.26v7.26m12.28 -7.26v7.26m12.28 -7.26v7.26m12.28 -7.26v7.26m12.28 -7.26v7.26m12.28 -7.26v7.26m12.28 -7.26v7.26m12.28 -7.26v7.26m12.28 -7.26v7.26m12.28 -7.26v7.26m12.28 -7.26v7.26m12.28 -7.26v7.26m12.28 -7.26v7.26m12.28 -7.26v7.26m12.28 -7.26v7.26m12.28 -7.26v7.26m12.28 -7.26v7.26m12.28 -7.26v7.26m12.28 -7.26v7.26m12.28 -7.26v7.26m12.28 -7.26v7.26m12.28 -7.26v7.26m12.28 -7.26v7.26m12.28 -7.26v7.26m12.28 -7.26v7.26m12.28 -7.26v7.26m12.28 -7.26v7.26m12.28 -7.26v7.26m12.28 -7.26v7.26m12.28 -7.26v7.26M103.26 217.54v7.26m12.28 -7.26v7.26m12.28 -7.26v7.26m12.28 -7.26v7.26m12.28 -7.26v7.26m12.28 -7.26v7.26m12.28 -7.26v7.26m12.28 -7.26v7.26m12.28 -7.26v7.26m12.28 -7.26v7.26m12.28 -7.26v7.26m12.28 -7.26v7.26m12.28 -7.26v7.26m12.28 -7.26v7.26m12.28 -7.26v7.26m12.28 -7.26v7.26m12.28 -7.26v7.26m12.28 -7.26v7.26m12.28 -7.26v7.26m12.28 -7.26v7.26m12.28 -7.26v7.26m12.28 -7.26v7.26m12.28 -7.26v7.26m12.28 -7.26v7.26m12.28 -7.26v7.26m12.28 -7.26v7.26m12.28 -7.26v7.26m12.28 -7.26v7.26m12.28 -7.26v7.26m12.28 -7.26v7.26m12.28 -7.26v7.26m12.28 -7.26v7.26m12.28 -7.26v7.26m12.28 -7.26v7.26m12.28 -7.26v7.26m12.28 -7.26v7.26m12.28 -7.26v7.26m12.28 -7.26v7.26m12.28 -7.26v7.26m12.28 -7.26v7.26m12.28 -7.26v7.26m12.28 -7.26v7.26M109.40 228.43v7.26m12.28 -7.26v7.26m12.28 -7.26v7.26m12.28 -7.26v7.26m12.28 -7.26v7.26m12.28 -7.26v7.26m12.28 -7.26v7.26m12.28 -7.26v7.26m12.28 -7.26v7.26m12.28 -7.26v7.26m12.28 -7.26v7.26m12.28 -7.26v7.26m12.28 -7.26v7.26m12.28 -7.26v7.26m12.28 -7.26v7.26m12.28 -7.26v7.26m12.28 -7.26v7.26m12.28 -7.26v7.26m12.28 -7.26v7.26m12.28 -7.26v7.26m12.28 -7.26v7.26m12.28 -7.26v7.26m12.28 -7.26v7.26m12.28 -7.26v7.26m12.28 -7.26v7.26m12.28 -7.26v7.26m12.28 -7.26v7.26m12.28 -7.26v7.26m12.28 -7.26v7.26m12.28 -7.26v7.26m12.28 -7.26v7.26m12.28 -7.26v7.26m12.28 -7.26v7.26m12.28 -7.26v7.26m12.28 -7.26v7.26m12.28 -7.26v7.26m12.28 -7.26v7.26m12.28 -7.26v7.26m12.28 -7.26v7.26m12.28 -7.26v7.26m12.28 -7.26v7.26m12.28 -7.26v7.26M103.26 239.33v7.26m12.28 -7.26v7.26m12.28 -7.26v7.26m12.28 -7.26v7.26m12.28 -7.26v7.26m12.28 -7.26v7.26m12.28 -7.26v7.26m12.28 -7.26v7.26m12.28 -7.26v7.26m12.28 -7.26v7.26m12.28 -7.26v7.26m12.28 -7.26v7.26m12.28 -7.26v7.26m12.28 -7.26v7.26m12.28 -7.26v7.26m12.28 -7.26v7.26m12.28 -7.26v7.26m12.28 -7.26v7.26m12.28 -7.26v7.26m12.28 -7.26v7.26m12.28 -7.26v7.26m12.28 -7.26v7.26m12.28 -7.26v7.26m12.28 -7.26v7.26m12.28 -7.26v7.26m12.28 -7.26v7.26m12.28 -7.26v7.26m12.28 -7.26v7.26m12.28 -7.26v7.26m12.28 -7.26v7.26m12.28 -7.26v7.26m12.28 -7.26v7.26m12.28 -7.26v7.26m12.28 -7.26v7.26m12.28 -7.26v7.26m12.28 -7.26v7.26m12.28 -7.26v7.26m12.28 -7.26v7.26m12.28 -7.26v7.26m12.28 -7.26v7.26m12.28 -7.26v7.26m12.28 -7.26v7.26M109.40 250.23v7.26m12.28 -7.26v7.26m12.28 -7.26v7.26m12.28 -7.26v7.26m12.28 -7.26v7.26m12.28 -7.26v7.26m12.28 -7.26v7.26m12.28 -7.26v7.26m12.28 -7.26v7.26m12.28 -7.26v7.26m12.28 -7.26v7.26m12.28 -7.26v7.26m12.28 -7.26v7.26m12.28 -7.26v7.26m12.28 -7.26v7.26m12.28 -7.26v7.26m12.28 -7.26v7.26m12.28 -7.26v7.26m12.28 -7.26v7.26m12.28 -7.26v7.26m12.28 -7.26v7.26m12.28 -7.26v7.26m12.28 -7.26v7.26m12.28 -7.26v7.26m12.28 -7.26v7.26m12.28 -7.26v7.26m12.28 -7.26v7.26m12.28 -7.26v7.26m12.28 -7.26v7.26m12.28 -7.26v7.26m12.28 -7.26v7.26m12.28 -7.26v7.26m12.28 -7.26v7.26m12.28 -7.26v7.26m12.28 -7.26v7.26m12.28 -7.26v7.26m12.28 -7.26v7.26m12.28 -7.26v7.26m12.28 -7.26v7.26m12.28 -7.26v7.26m12.28 -7.26v7.26m12.28 -7.26v7.26M103.26 261.12v7.26m12.28 -7.26v7.26m12.28 -7.26v7.26m12.28 -7.26v7.26m12.28 -7.26v7.26m12.28 -7.26v7.26m12.28 -7.26v7.26m12.28 -7.26v7.26m12.28 -7.26v7.26m12.28 -7.26v7.26m12.28 -7.26v7.26m12.28 -7.26v7.26m12.28 -7.26v7.26m12.28 -7.26v7.26m12.28 -7.26v7.26m12.28 -7.26v7.26m12.28 -7.26v7.26m12.28 -7.26v7.26m12.28 -7.26v7.26m12.28 -7.26v7.26m12.28 -7.26v7.26m12.28 -7.26v7.26m12.28 -7.26v7.26m12.28 -7.26v7.26m12.28 -7.26v7.26m12.28 -7.26v7.26m12.28 -7.26v7.26m12.28 -7.26v7.26m12.28 -7.26v7.26m12.28 -7.26v7.26m12.28 -7.26v7.26m12.28 -7.26v7.26m12.28 -7.26v7.26m12.28 -7.26v7.26m12.28 -7.26v7.26m12.28 -7.26v7.26m12.28 -7.26v7.26m12.28 -7.26v7.26m12.28 -7.26v7.26m12.28 -7.26v7.26m12.28 -7.26v7.26m12.28 -7.26v7.26M109.40 272.02v7.26m12.28 -7.26v7.26m12.28 -7.26v7.26m12.28 -7.26v7.26m12.28 -7.26v7.26m12.28 -7.26v7.26m12.28 -7.26v7.26m12.28 -7.26v7.26m12.28 -7.26v7.26m12.28 -7.26v7.26m12.28 -7.26v7.26m12.28 -7.26v7.26m12.28 -7.26v7.26m12.28 -7.26v7.26m12.28 -7.26v7.26m12.28 -7.26v7.26m12.28 -7.26v7.26m12.28 -7.26v7.26m12.28 -7.26v7.26m12.28 -7.26v7.26m12.28 -7.26v7.26m12.28 -7.26v7.26m12.28 -7.26v7.26m12.28 -7.26v7.26m12.28 -7.26v7.26m12.28 -7.26v7.26m12.28 -7.26v7.26m12.28 -7.26v7.26m12.28 -7.26v7.26m12.28 -7.26v7.26m12.28 -7.26v7.26m12.28 -7.26v7.26m12.28 -7.26v7.26m12.28 -7.26v7.26m12.28 -7.26v7.26m12.28 -7.26v7.26m12.28 -7.26v7.26m12.28 -7.26v7.26m12.28 -7.26v7.26m12.28 -7.26v7.26m12.28 -7.26v7.26m12.28 -7.26v7.26M103.26 282.91v7.26m12.28 -7.26v7.26m12.28 -7.26v7.26m12.28 -7.26v7.26m12.28 -7.26v7.26m12.28 -7.26v7.26m12.28 -7.26v7.26m12.28 -7.26v7.26m12.28 -7.26v7.26m12.28 -7.26v7.26m12.28 -7.26v7.26m12.28 -7.26v7.26m12.28 -7.26v7.26m12.28 -7.26v7.26m12.28 -7.26v7.26m12.28 -7.26v7.26m12.28 -7.26v7.26m12.28 -7.26v7.26m12.28 -7.26v7.26m12.28 -7.26v7.26m12.28 -7.26v7.26m12.28 -7.26v7.26m12.28 -7.26v7.26m12.28 -7.26v7.26m12.28 -7.26v7.26m12.28 -7.26v7.26m12.28 -7.26v7.26m12.28 -7.26v7.26m12.28 -7.26v7.26m12.28 -7.26v7.26m12.28 -7.26v7.26m12.28 -7.26v7.26m12.28 -7.26v7.26m12.28 -7.26v7.26m12.28 -7.26v7.26m12.28 -7.26v7.26m12.28 -7.26v7.26m12.28 -7.26v7.26m12.28 -7.26v7.26m12.28 -7.26v7.26m12.28 -7.26v7.26m12.28 -7.26v7.26M109.40 293.81v7.26m12.28 -7.26v7.26m12.28 -7.26v7.26m12.28 -7.26v7.26m12.28 -7.26v7.26m12.28 -7.26v7.26m12.28 -7.26v7.26m12.28 -7.26v7.26m12.28 -7.26v7.26m12.28 -7.26v7.26m12.28 -7.26v7.26m12.28 -7.26v7.26m12.28 -7.26v7.26m12.28 -7.26v7.26m12.28 -7.26v7.26m12.28 -7.26v7.26m12.28 -7.26v7.26m12.28 -7.26v7.26m12.28 -7.26v7.26m12.28 -7.26v7.26m12.28 -7.26v7.26m12.28 -7.26v7.26m12.28 -7.26v7.26m12.28 -7.26v7.26m12.28 -7.26v7.26m12.28 -7.26v7.26m12.28 -7.26v7.26m12.28 -7.26v7.26m12.28 -7.26v7.26m12.28 -7.26v7.26m12.28 -7.26v7.26m12.28 -7.26v7.26m12.28 -7.26v7.26m12.28 -7.26v7.26m12.28 -7.26v7.26m12.28 -7.26v7.26m12.28 -7.26v7.26m12.28 -7.26v7.26m12.28 -7.26v7.26m12.28 -7.26v7.26m12.28 -7.26v7.26m12.28 -7.26v7.26M103.26 304.71v7.26m12.28 -7.26v7.26m12.28 -7.26v7.26m12.28 -7.26v7.26m12.28 -7.26v7.26m12.28 -7.26v7.26m12.28 -7.26v7.26m12.28 -7.26v7.26m12.28 -7.26v7.26m12.28 -7.26v7.26m12.28 -7.26v7.26m12.28 -7.26v7.26m12.28 -7.26v7.26m12.28 -7.26v7.26m12.28 -7.26v7.26m12.28 -7.26v7.26m12.28 -7.26v7.26m12.28 -7.26v7.26m12.28 -7.26v7.26m12.28 -7.26v7.26m12.28 -7.26v7.26m12.28 -7.26v7.26m12.28 -7.26v7.26m12.28 -7.26v7.26m12.28 -7.26v7.26m12.28 -7.26v7.26m12.28 -7.26v7.26m12.28 -7.26v7.26m12.28 -7.26v7.26m12.28 -7.26v7.26m12.28 -7.26v7.26m12.28 -7.26v7.26m12.28 -7.26v7.26m12.28 -7.26v7.26m12.28 -7.26v7.26m12.28 -7.26v7.26m12.28 -7.26v7.26m12.28 -7.26v7.26m12.28 -7.26v7.26m12.28 -7.26v7.26m12.28 -7.26v7.26m12.28 -7.26v7.26M109.40 315.60v7.26m12.28 -7.26v7.26m12.28 -7.26v7.26m12.28 -7.26v7.26m12.28 -7.26v7.26m12.28 -7.26v7.26m12.28 -7.26v7.26m12.28 -7.26v7.26m12.28 -7.26v7.26m12.28 -7.26v7.26m12.28 -7.26v7.26m12.28 -7.26v7.26m12.28 -7.26v7.26m12.28 -7.26v7.26m12.28 -7.26v7.26m12.28 -7.26v7.26m12.28 -7.26v7.26m12.28 -7.26v7.26m12.28 -7.26v7.26m12.28 -7.26v7.26m12.28 -7.26v7.26m12.28 -7.26v7.26m12.28 -7.26v7.26m12.28 -7.26v7.26m12.28 -7.26v7.26m12.28 -7.26v7.26m12.28 -7.26v7.26m12.28 -7.26v7.26m12.28 -7.26v7.26m12.28 -7.26v7.26m12.28 -7.26v7.26m12.28 -7.26v7.26m12.28 -7.26v7.26m12.28 -7.26v7.26m12.28 -7.26v7.26m12.28 -7.26v7.26m12.28 -7.26v7.26m12.28 -7.26v7.26m12.28 -7.26v7.26m12.28 -7.26v7.26m12.28 -7.26v7.26m12.28 -7.26v7.26M103.26 326.50v7.26m12.28 -7.26v7.26m12.28 -7.26v7.26m12.28 -7.26v7.26m12.28 -7.26v7.26m12.28 -7.26v7.26m12.28 -7.26v7.26m12.28 -7.26v7.26m12.28 -7.26v7.26m12.28 -7.26v7.26m12.28 -7.26v7.26m12.28 -7.26v7.26m12.28 -7.26v7.26m12.28 -7.26v7.26m12.28 -7.26v7.26m12.28 -7.26v7.26m12.28 -7.26v7.26m12.28 -7.26v7.26m12.28 -7.26v7.26m12.28 -7.26v7.26m12.28 -7.26v7.26m12.28 -7.26v7.26m12.28 -7.26v7.26m12.28 -7.26v7.26m12.28 -7.26v7.26m12.28 -7.26v7.26m12.28 -7.26v7.26m12.28 -7.26v7.26m12.28 -7.26v7.26m12.28 -7.26v7.26m12.28 -7.26v7.26m12.28 -7.26v7.26m12.28 -7.26v7.26m12.28 -7.26v7.26m12.28 -7.26v7.26m12.28 -7.26v7.26m12.28 -7.26v7.26m12.28 -7.26v7.26m12.28 -7.26v7.26m12.28 -7.26v7.26m12.28 -7.26v7.26m12.28 -7.26v7.26M109.40 337.39v7.26m12.28 -7.26v7.26m12.28 -7.26v7.26m12.28 -7.26v7.26m12.28 -7.26v7.26m12.28 -7.26v7.26m12.28 -7.26v7.26m12.28 -7.26v7.26m12.28 -7.26v7.26m12.28 -7.26v7.26m12.28 -7.26v7.26m12.28 -7.26v7.26m12.28 -7.26v7.26m12.28 -7.26v7.26m12.28 -7.26v7.26m12.28 -7.26v7.26m12.28 -7.26v7.26m12.28 -7.26v7.26m12.28 -7.26v7.26m12.28 -7.26v7.26m12.28 -7.26v7.26m12.28 -7.26v7.26m12.28 -7.26v7.26m12.28 -7.26v7.26m12.28 -7.26v7.26m12.28 -7.26v7.26m12.28 -7.26v7.26m12.28 -7.26v7.26m12.28 -7.26v7.26m12.28 -7.26v7.26m12.28 -7.26v7.26m12.28 -7.26v7.26m12.28 -7.26v7.26m12.28 -7.26v7.26m12.28 -7.26v7.26m12.28 -7.26v7.26m12.28 -7.26v7.26m12.28 -7.26v7.26m12.28 -7.26v7.26m12.28 -7.26v7.26m12.28 -7.26v7.26m12.28 -7.26v7.26M103.26 348.29v7.26m12.28 -7.26v7.26m12.28 -7.26v7.26m12.28 -7.26v7.26m12.28 -7.26v7.26m12.28 -7.26v7.26m12.28 -7.26v7.26m12.28 -7.26v7.26m12.28 -7.26v7.26m12.28 -7.26v7.26m12.28 -7.26v7.26m12.28 -7.26v7.26m12.28 -7.26v7.26m12.28 -7.26v7.26m12.28 -7.26v7.26m12.28 -7.26v7.26m12.28 -7.26v7.26m12.28 -7.26v7.26m12.28 -7.26v7.26m12.28 -7.26v7.26m12.28 -7.26v7.26m12.28 -7.26v7.26m12.28 -7.26v7.26m12.28 -7.26v7.26m12.28 -7.26v7.26m12.28 -7.26v7.26m12.28 -7.26v7.26m12.28 -7.26v7.26m12.28 -7.26v7.26m12.28 -7.26v7.26m12.28 -7.26v7.26m12.28 -7.26v7.26m12.28 -7.26v7.26m12.28 -7.26v7.26m12.28 -7.26v7.26m12.28 -7.26v7.26m12.28 -7.26v7.26m12.28 -7.26v7.26m12.28 -7.26v7.26m12.28 -7.26v7.26m12.28 -7.26v7.26m12.28 -7.26v7.26M109.40 359.19v7.26m12.28 -7.26v7.26m12.28 -7.26v7.26m12.28 -7.26v7.26m12.28 -7.26v7.26m12.28 -7.26v7.26m12.28 -7.26v7.26m12.28 -7.26v7.26m12.28 -7.26v7.26m12.28 -7.26v7.26m12.28 -7.26v7.26m12.28 -7.26v7.26m12.28 -7.26v7.26m12.28 -7.26v7.26m12.28 -7.26v7.26m12.28 -7.26v7.26m12.28 -7.26v7.26m12.28 -7.26v7.26m12.28 -7.26v7.26m12.28 -7.26v7.26m12.28 -7.26v7.26m12.28 -7.26v7.26m12.28 -7.26v7.26m12.28 -7.26v7.26m12.28 -7.26v7.26m12.28 -7.26v7.26m12.28 -7.26v7.26m12.28 -7.26v7.26m12.28 -7.26v7.26m12.28 -7.26v7.26m12.28 -7.26v7.26m12.28 -7.26v7.26m12.28 -7.26v7.26m12.28 -7.26v7.26m12.28 -7.26v7.26m12.28 -7.26v7.26m12.28 -7.26v7.26m12.28 -7.26v7.26m12.28 -7.26v7.26m12.28 -7.26v7.26m12.28 -7.26v7.26m12.28 -7.26v7.26M103.26 370.08v7.26m12.28 -7.26v7.26m12.28 -7.26v7.26m12.28 -7.26v7.26m12.28 -7.26v7.26m12.28 -7.26v7.26m12.28 -7.26v7.26m12.28 -7.26v7.26m12.28 -7.26v7.26m12.28 -7.26v7.26m12.28 -7.26v7.26m12.28 -7.26v7.26m12.28 -7.26v7.26m12.28 -7.26v7.26m12.28 -7.26v7.26m12.28 -7.26v7.26m12.28 -7.26v7.26m12.28 -7.26v7.26m12.28 -7.26v7.26m12.28 -7.26v7.26m12.28 -7.26v7.26m12.28 -7.26v7.26m12.28 -7.26v7.26m12.28 -7.26v7.26m12.28 -7.26v7.26m12.28 -7.26v7.26m12.28 -7.26v7.26m12.28 -7.26v7.26m12.28 -7.26v7.26m12.28 -7.26v7.26m12.28 -7.26v7.26m12.28 -7.26v7.26m12.28 -7.26v7.26m12.28 -7.26v7.26m12.28 -7.26v7.26m12.28 -7.26v7.26m12.28 -7.26v7.26m12.28 -7.26v7.26m12.28 -7.26v7.26m12.28 -7.26v7.26m12.28 -7.26v7.26m12.28 -7.26v7.26M109.40 380.98v7.26m12.28 -7.26v7.26m12.28 -7.26v7.26m12.28 -7.26v7.26m12.28 -7.26v7.26m12.28 -7.26v7.26m12.28 -7.26v7.26m12.28 -7.26v7.26m12.28 -7.26v7.26m12.28 -7.26v7.26m12.28 -7.26v7.26m12.28 -7.26v7.26m12.28 -7.26v7.26m12.28 -7.26v7.26m12.28 -7.26v7.26m12.28 -7.26v7.26m12.28 -7.26v7.26m12.28 -7.26v7.26m12.28 -7.26v7.26m12.28 -7.26v7.26m12.28 -7.26v7.26m12.28 -7.26v7.26m12.28 -7.26v7.26m12.28 -7.26v7.26m12.28 -7.26v7.26m12.28 -7.26v7.26m12.28 -7.26v7.26m12.28 -7.26v7.26m12.28 -7.26v7.26m12.28 -7.26v7.26m12.28 -7.26v7.26m12.28 -7.26v7.26m12.28 -7.26v7.26m12.28 -7.26v7.26m12.28 -7.26v7.26m12.28 -7.26v7.26m12.28 -7.26v7.26m12.28 -7.26v7.26m12.28 -7.26v7.26m12.28 -7.26v7.26m12.28 -7.26v7.26m12.28 -7.26v7.26M103.26 391.88v7.26m12.28 -7.26v7.26m12.28 -7.26v7.26m12.28 -7.26v7.26m12.28 -7.26v7.26m12.28 -7.26v7.26m12.28 -7.26v7.26m12.28 -7.26v7.26m12.28 -7.26v7.26m12.28 -7.26v7.26m12.28 -7.26v7.26m12.28 -7.26v7.26m12.28 -7.26v7.26m12.28 -7.26v7.26m12.28 -7.26v7.26m12.28 -7.26v7.26m12.28 -7.26v7.26m12.28 -7.26v7.26m12.28 -7.26v7.26m12.28 -7.26v7.26m12.28 -7.26v7.26m12.28 -7.26v7.26m12.28 -7.26v7.26m12.28 -7.26v7.26m12.28 -7.26v7.26m12.28 -7.26v7.26m12.28 -7.26v7.26m12.28 -7.26v7.26m12.28 -7.26v7.26m12.28 -7.26v7.26m12.28 -7.26v7.26m12.28 -7.26v7.26m12.28 -7.26v7.26m12.28 -7.26v7.26m12.28 -7.26v7.26m12.28 -7.26v7.26m12.28 -7.26v7.26m12.28 -7.26v7.26m12.28 -7.26v7.26m12.28 -7.26v7.26m12.28 -7.26v7.26m12.28 -7.26v7.26M109.40 402.77v7.26m12.28 -7.26v7.26m12.28 -7.26v7.26m12.28 -7.26v7.26m12.28 -7.26v7.26m12.28 -7.26v7.26m12.28 -7.26v7.26m12.28 -7.26v7.26m12.28 -7.26v7.26m12.28 -7.26v7.26m12.28 -7.26v7.26m12.28 -7.26v7.26m12.28 -7.26v7.26m12.28 -7.26v7.26m12.28 -7.26v7.26m12.28 -7.26v7.26m12.28 -7.26v7.26m12.28 -7.26v7.26m12.28 -7.26v7.26m12.28 -7.26v7.26m12.28 -7.26v7.26m12.28 -7.26v7.26m12.28 -7.26v7.26m12.28 -7.26v7.26m12.28 -7.26v7.26m12.28 -7.26v7.26m12.28 -7.26v7.26m12.28 -7.26v7.26m12.28 -7.26v7.26m12.28 -7.26v7.26m12.28 -7.26v7.26m12.28 -7.26v7.26m12.28 -7.26v7.26m12.28 -7.26v7.26m12.28 -7.26v7.26m12.28 -7.26v7.26m12.28 -7.26v7.26m12.28 -7.26v7.26m12.28 -7.26v7.26m12.28 -7.26v7.26m12.28 -7.26v7.26m12.28 -7.26v7.26M103.26 413.67v7.26m12.28 -7.26v7.26m12.28 -7.26v7.26m12.28 -7.26v7.26m12.28 -7.26v7.26m12.28 -7.26v7.26m12.28 -7.26v7.26m12.28 -7.26v7.26m12.28 -7.26v7.26m12.28 -7.26v7.26m12.28 -7.26v7.26m12.28 -7.26v7.26m12.28 -7.26v7.26m12.28 -7.26v7.26m12.28 -7.26v7.26m12.28 -7.26v7.26m12.28 -7.26v7.26m12.28 -7.26v7.26m12.28 -7.26v7.26m12.28 -7.26v7.26m12.28 -7.26v7.26m12.28 -7.26v7.26m12.28 -7.26v7.26m12.28 -7.26v7.26m12.28 -7.26v7.26m12.28 -7.26v7.26m12.28 -7.26v7.26m12.28 -7.26v7.26m12.28 -7.26v7.26m12.28 -7.26v7.26m12.28 -7.26v7.26m12.28 -7.26v7.26m12.28 -7.26v7.26m12.28 -7.26v7.26m12.28 -7.26v7.26m12.28 -7.26v7.26m12.28 -7.26v7.26m12.28 -7.26v7.26m12.28 -7.26v7.26m12.28 -7.26v7.26m12.28 -7.26v7.26m12.28 -7.26v7.26M109.40 424.56v7.26m12.28 -7.26v7.26m12.28 -7.26v7.26m12.28 -7.26v7.26m12.28 -7.26v7.26m12.28 -7.26v7.26m12.28 -7.26v7.26m12.28 -7.26v7.26m12.28 -7.26v7.26m12.28 -7.26v7.26m12.28 -7.26v7.26m12.28 -7.26v7.26m12.28 -7.26v7.26m12.28 -7.26v7.26m12.28 -7.26v7.26m12.28 -7.26v7.26m12.28 -7.26v7.26m12.28 -7.26v7.26m12.28 -7.26v7.26m12.28 -7.26v7.26m12.28 -7.26v7.26m12.28 -7.26v7.26m12.28 -7.26v7.26m12.28 -7.26v7.26m12.28 -7.26v7.26m12.28 -7.26v7.26m12.28 -7.26v7.26m12.28 -7.26v7.26m12.28 -7.26v7.26m12.28 -7.26v7.26m12.28 -7.26v7.26m12.28 -7.26v7.26m12.28 -7.26v7.26m12.28 -7.26v7.26m12.28 -7.26v7.26m12.28 -7.26v7.26m12.28 -7.26v7.26m12.28 -7.26v7.26m12.28 -7.26v7.26m12.28 -7.26v7.26m12.28 -7.26v7.26m12.28 -7.26v7.26M103.26 435.46v7.26m12.28 -7.26v7.26m12.28 -7.26v7.26m12.28 -7.26v7.26m12.28 -7.26v7.26m12.28 -7.26v7.26m12.28 -7.26v7.26m12.28 -7.26v7.26m12.28 -7.26v7.26m12.28 -7.26v7.26m12.28 -7.26v7.26m12.28 -7.26v7.26m12.28 -7.26v7.26m12.28 -7.26v7.26m12.28 -7.26v7.26m12.28 -7.26v7.26m12.28 -7.26v7.26m12.28 -7.26v7.26m12.28 -7.26v7.26m12.28 -7.26v7.26m12.28 -7.26v7.26m12.28 -7.26v7.26m12.28 -7.26v7.26m12.28 -7.26v7.26m12.28 -7.26v7.26m12.28 -7.26v7.26m12.28 -7.26v7.26m12.28 -7.26v7.26m12.28 -7.26v7.26m12.28 -7.26v7.26m12.28 -7.26v7.26m12.28 -7.26v7.26m12.28 -7.26v7.26m12.28 -7.26v7.26m12.28 -7.26v7.26m12.28 -7.26v7.26m12.28 -7.26v7.26m12.28 -7.26v7.26m12.28 -7.26v7.26m12.28 -7.26v7.26m12.28 -7.26v7.26m12.28 -7.26v7.26M109.40 446.35v7.26m12.28 -7.26v7.26m12.28 -7.26v7.26m12.28 -7.26v7.26m12.28 -7.26v7.26m12.28 -7.26v7.26m12.28 -7.26v7.26m12.28 -7.26v7.26m12.28 -7.26v7.26m12.28 -7.26v7.26m12.28 -7.26v7.26m12.28 -7.26v7.26m12.28 -7.26v7.26m12.28 -7.26v7.26m12.28 -7.26v7.26m12.28 -7.26v7.26m12.28 -7.26v7.26m12.28 -7.26v7.26m12.28 -7.26v7.26m12.28 -7.26v7.26m12.28 -7.26v7.26m12.28 -7.26v7.26m12.28 -7.26v7.26m12.28 -7.26v7.26m12.28 -7.26v7.26m12.28 -7.26v7.26m12.28 -7.26v7.26m12.28 -7.26v7.26m12.28 -7.26v7.26m12.28 -7.26v7.26m12.28 -7.26v7.26m12.28 -7.26v7.26m12.28 -7.26v7.26m12.28 -7.26v7.26m12.28 -7.26v7.26m12.28 -7.26v7.26m12.28 -7.26v7.26m12.28 -7.26v7.26m12.28 -7.26v7.26m12.28 -7.26v7.26m12.28 -7.26v7.26m12.28 -7.26v7.26M103.26 457.25v7.26m12.28 -7.26v7.26m12.28 -7.26v7.26m12.28 -7.26v7.26m12.28 -7.26v7.26m12.28 -7.26v7.26m12.28 -7.26v7.26m12.28 -7.26v7.26m12.28 -7.26v7.26m12.28 -7.26v7.26m12.28 -7.26v7.26m12.28 -7.26v7.26m12.28 -7.26v7.26m12.28 -7.26v7.26m12.28 -7.26v7.26m12.28 -7.26v7.26m12.28 -7.26v7.26m12.28 -7.26v7.26m12.28 -7.26v7.26m12.28 -7.26v7.26m12.28 -7.26v7.26m12.28 -7.26v7.26m12.28 -7.26v7.26m12.28 -7.26v7.26m12.28 -7.26v7.26m12.28 -7.26v7.26m12.28 -7.26v7.26m12.28 -7.26v7.26m12.28 -7.26v7.26m12.28 -7.26v7.26m12.28 -7.26v7.26m12.28 -7.26v7.26m12.28 -7.26v7.26m12.28 -7.26v7.26m12.28 -7.26v7.26m12.28 -7.26v7.26m12.28 -7.26v7.26m12.28 -7.26v7.26m12.28 -7.26v7.26m12.28 -7.26v7.26m12.28 -7.26v7.26m12.28 -7.26v7.26M109.40 468.15v7.26m12.28 -7.26v7.26m12.28 -7.26v7.26m12.28 -7.26v7.26m12.28 -7.26v7.26m12.28 -7.26v7.26m12.28 -7.26v7.26m12.28 -7.26v7.26m12.28 -7.26v7.26m12.28 -7.26v7.26m12.28 -7.26v7.26m12.28 -7.26v7.26m12.28 -7.26v7.26m12.28 -7.26v7.26m12.28 -7.26v7.26m12.28 -7.26v7.26m12.28 -7.26v7.26m12.28 -7.26v7.26m12.28 -7.26v7.26m12.28 -7.26v7.26m12.28 -7.26v7.26m12.28 -7.26v7.26m12.28 -7.26v7.26m12.28 -7.26v7.26m12.28 -7.26v7.26m12.28 -7.26v7.26m12.28 -7.26v7.26m12.28 -7.26v7.26m12.28 -7.26v7.26m12.28 -7.26v7.26m12.28 -7.26v7.26m12.28 -7.26v7.26m12.28 -7.26v7.26m12.28 -7.26v7.26m12.28 -7.26v7.26m12.28 -7.26v7.26m12.28 -7.26v7.26m12.28 -7.26v7.26m12.28 -7.26v7.26m12.28 -7.26v7.26m12.28 -7.26v7.26m12.28 -7.26v7.26M103.26 479.04v7.26m12.28 -7.26v7.26m12.28 -7.26v7.26m12.28 -7.26v7.26m12.28 -7.26v7.26m12.28 -7.26v7.26m12.28 -7.26v7.26m12.28 -7.26v7.26m12.28 -7.26v7.26m12.28 -7.26v7.26m12.28 -7.26v7.26m12.28 -7.26v7.26m12.28 -7.26v7.26m12.28 -7.26v7.26m12.28 -7.26v7.26m12.28 -7.26v7.26m12.28 -7.26v7.26m12.28 -7.26v7.26m12.28 -7.26v7.26m12.28 -7.26v7.26m12.28 -7.26v7.26m12.28 -7.26v7.26m12.28 -7.26v7.26m12.28 -7.26v7.26m12.28 -7.26v7.26m12.28 -7.26v7.26m12.28 -7.26v7.26m12.28 -7.26v7.26m12.28 -7.26v7.26m12.28 -7.26v7.26m12.28 -7.26v7.26m12.28 -7.26v7.26m12.28 -7.26v7.26m12.28 -7.26v7.26m12.28 -7.26v7.26m12.28 -7.26v7.26m12.28 -7.26v7.26m12.28 -7.26v7.26m12.28 -7.26v7.26m12.28 -7.26v7.26m12.28 -7.26v7.26m12.28 -7.26v7.26M109.40 489.94v7.26m12.28 -7.26v7.26m12.28 -7.26v7.26m12.28 -7.26v7.26m12.28 -7.26v7.26m12.28 -7.26v7.26m12.28 -7.26v7.26m12.28 -7.26v7.26m12.28 -7.26v7.26m12.28 -7.26v7.26m12.28 -7.26v7.26m12.28 -7.26v7.26m12.28 -7.26v7.26m12.28 -7.26v7.26m12.28 -7.26v7.26m12.28 -7.26v7.26m12.28 -7.26v7.26m12.28 -7.26v7.26m12.28 -7.26v7.26m12.28 -7.26v7.26m12.28 -7.26v7.26m12.28 -7.26v7.26m12.28 -7.26v7.26m12.28 -7.26v7.26m12.28 -7.26v7.26m12.28 -7.26v7.26m12.28 -7.26v7.26m12.28 -7.26v7.26m12.28 -7.26v7.26m12.28 -7.26v7.26m12.28 -7.26v7.26m12.28 -7.26v7.26m12.28 -7.26v7.26m12.28 -7.26v7.26m12.28 -7.26v7.26m12.28 -7.26v7.26m12.28 -7.26v7.26m12.28 -7.26v7.26m12.28 -7.26v7.26m12.28 -7.26v7.26m12.28 -7.26v7.26m12.28 -7.26v7.26M103.26 500.83v7.26m12.28 -7.26v7.26m12.28 -7.26v7.26m12.28 -7.26v7.26m12.28 -7.26v7.26m12.28 -7.26v7.26m12.28 -7.26v7.26m12.28 -7.26v7.26m12.28 -7.26v7.26m12.28 -7.26v7.26m12.28 -7.26v7.26m12.28 -7.26v7.26m12.28 -7.26v7.26m12.28 -7.26v7.26m12.28 -7.26v7.26m12.28 -7.26v7.26m12.28 -7.26v7.26m12.28 -7.26v7.26m12.28 -7.26v7.26m12.28 -7.26v7.26m12.28 -7.26v7.26m12.28 -7.26v7.26m12.28 -7.26v7.26m12.28 -7.26v7.26m12.28 -7.26v7.26m12.28 -7.26v7.26m12.28 -7.26v7.26m12.28 -7.26v7.26m12.28 -7.26v7.26m12.28 -7.26v7.26m12.28 -7.26v7.26m12.28 -7.26v7.26m12.28 -7.26v7.26m12.28 -7.26v7.26m12.28 -7.26v7.26m12.28 -7.26v7.26m12.28 -7.26v7.26m12.28 -7.26v7.26m12.28 -7.26v7.26m12.28 -7.26v7.26m12.28 -7.26v7.26m12.28 -7.26v7.26M109.40 511.73v7.26m12.28 -7.26v7.26m12.28 -7.26v7.26m12.28 -7.26v7.26m12.28 -7.26v7.26m12.28 -7.26v7.26m12.28 -7.26v7.26m12.28 -7.26v7.26m12.28 -7.26v7.26m12.28 -7.26v7.26m12.28 -7.26v7.26m12.28 -7.26v7.26m12.28 -7.26v7.26m12.28 -7.26v7.26m12.28 -7.26v7.26m12.28 -7.26v7.26m12.28 -7.26v7.26m12.28 -7.26v7.26m12.28 -7.26v7.26m12.28 -7.26v7.26m12.28 -7.26v7.26m12.28 -7.26v7.26m12.28 -7.26v7.26m12.28 -7.26v7.26m12.28 -7.26v7.26m12.28 -7.26v7.26m12.28 -7.26v7.26m12.28 -7.26v7.26m12.28 -7.26v7.26m12.28 -7.26v7.26m12.28 -7.26v7.26m12.28 -7.26v7.26m12.28 -7.26v7.26m12.28 -7.26v7.26m12.28 -7.26v7.26m12.28 -7.26v7.26m12.28 -7.26v7.26m12.28 -7.26v7.26m12.28 -7.26v7.26m12.28 -7.26v7.26m12.28 -7.26v7.26m12.28 -7.26v7.26M103.26 522.63v7.26m12.28 -7.26v7.26m12.28 -7.26v7.26m12.28 -7.26v7.26m12.28 -7.26v7.26m12.28 -7.26v7.26m12.28 -7.26v7.26m12.28 -7.26v7.26m12.28 -7.26v7.26m12.28 -7.26v7.26m12.28 -7.26v7.26m12.28 -7.26v7.26m12.28 -7.26v7.26m12.28 -7.26v7.26m12.28 -7.26v7.26m12.28 -7.26v7.26m12.28 -7.26v7.26m12.28 -7.26v7.26m12.28 -7.26v7.26m12.28 -7.26v7.26m12.28 -7.26v7.26m12.28 -7.26v7.26m12.28 -7.26v7.26m12.28 -7.26v7.26m12.28 -7.26v7.26m12.28 -7.26v7.26m12.28 -7.26v7.26m12.28 -7.26v7.26m12.28 -7.26v7.26m12.28 -7.26v7.26m12.28 -7.26v7.26m12.28 -7.26v7.26m12.28 -7.26v7.26m12.28 -7.26v7.26m12.28 -7.26v7.26m12.28 -7.26v7.26m12.28 -7.26v7.26m12.28 -7.26v7.26m12.28 -7.26v7.26m12.28 -7.26v7.26m12.28 -7.26v7.26m12.28 -7.26v7.26M109.40 533.52v7.26m12.28 -7.26v7.26m12.28 -7.26v7.26m12.28 -7.26v7.26m12.28 -7.26v7.26m12.28 -7.26v7.26m12.28 -7.26v7.26m12.28 -7.26v7.26m12.28 -7.26v7.26m12.28 -7.26v7.26m12.28 -7.26v7.26m12.28 -7.26v7.26m12.28 -7.26v7.26m12.28 -7.26v7.26m12.28 -7.26v7.26m12.28 -7.26v7.26m12.28 -7.26v7.26m12.28 -7.26v7.26m12.28 -7.26v7.26m12.28 -7.26v7.26m12.28 -7.26v7.26m12.28 -7.26v7.26m12.28 -7.26v7.26m12.28 -7.26v7.26m12.28 -7.26v7.26m12.28 -7.26v7.26m12.28 -7.26v7.26m12.28 -7.26v7.26m12.28 -7.26v7.26m12.28 -7.26v7.26m12.28 -7.26v7.26m12.28 -7.26v7.26m12.28 -7.26v7.26m12.28 -7.26v7.26m12.28 -7.26v7.26m12.28 -7.26v7.26m12.28 -7.26v7.26m12.28 -7.26v7.26m12.28 -7.26v7.26m12.28 -7.26v7.26m12.28 -7.26v7.26m12.28 -7.26v7.26M103.26 544.42v7.26m12.28 -7.26v7.26m12.28 -7.26v7.26m12.28 -7.26v7.26m12.28 -7.26v7.26m12.28 -7.26v7.26m12.28 -7.26v7.26m12.28 -7.26v7.26m12.28 -7.26v7.26m12.28 -7.26v7.26m12.28 -7.26v7.26m12.28 -7.26v7.26m12.28 -7.26v7.26m12.28 -7.26v7.26m12.28 -7.26v7.26m12.28 -7.26v7.26m12.28 -7.26v7.26m12.28 -7.26v7.26m12.28 -7.26v7.26m12.28 -7.26v7.26m12.28 -7.26v7.26m12.28 -7.26v7.26m12.28 -7.26v7.26m12.28 -7.26v7.26m12.28 -7.26v7.26m12.28 -7.26v7.26m12.28 -7.26v7.26m12.28 -7.26v7.26m12.28 -7.26v7.26m12.28 -7.26v7.26m12.28 -7.26v7.26m12.28 -7.26v7.26m12.28 -7.26v7.26m12.28 -7.26v7.26m12.28 -7.26v7.26m12.28 -7.26v7.26m12.28 -7.26v7.26m12.28 -7.26v7.26m12.28 -7.26v7.26m12.28 -7.26v7.26m12.28 -7.26v7.26m12.28 -7.26v7.26M109.40 555.32v7.26m12.28 -7.26v7.26m12.28 -7.26v7.26m12.28 -7.26v7.26m12.28 -7.26v7.26m12.28 -7.26v7.26m12.28 -7.26v7.26m12.28 -7.26v7.26m12.28 -7.26v7.26m12.28 -7.26v7.26m12.28 -7.26v7.26m12.28 -7.26v7.26m12.28 -7.26v7.26m12.28 -7.26v7.26m12.28 -7.26v7.26m12.28 -7.26v7.26m12.28 -7.26v7.26m12.28 -7.26v7.26m12.28 -7.26v7.26m12.28 -7.26v7.26m12.28 -7.26v7.26m12.28 -7.26v7.26m12.28 -7.26v7.26m12.28 -7.26v7.26m12.28 -7.26v7.26m12.28 -7.26v7.26m12.28 -7.26v7.26m12.28 -7.26v7.26m12.28 -7.26v7.26m12.28 -7.26v7.26m12.28 -7.26v7.26m12.28 -7.26v7.26m12.28 -7.26v7.26m12.28 -7.26v7.26m12.28 -7.26v7.26m12.28 -7.26v7.26m12.28 -7.26v7.26m12.28 -7.26v7.26m12.28 -7.26v7.26m12.28 -7.26v7.26m12.28 -7.26v7.26m12.28 -7.26v7.26M103.26 566.21v7.26m12.28 -7.26v7.26m12.28 -7.26v7.26m12.28 -7.26v7.26m12.28 -7.26v7.26m12.28 -7.26v7.26m12.28 -7.26v7.26m12.28 -7.26v7.26m12.28 -7.26v7.26m12.28 -7.26v7.26m12.28 -7.26v7.26m12.28 -7.26v7.26m12.28 -7.26v7.26m12.28 -7.26v7.26m12.28 -7.26v7.26m12.28 -7.26v7.26m12.28 -7.26v7.26m12.28 -7.26v7.26m12.28 -7.26v7.26m12.28 -7.26v7.26m12.28 -7.26v7.26m12.28 -7.26v7.26m12.28 -7.26v7.26m12.28 -7.26v7.26m12.28 -7.26v7.26m12.28 -7.26v7.26m12.28 -7.26v7.26m12.28 -7.26v7.26m12.28 -7.26v7.26m12.28 -7.26v7.26m12.28 -7.26v7.26m12.28 -7.26v7.26m12.28 -7.26v7.26m12.28 -7.26v7.26m12.28 -7.26v7.26m12.28 -7.26v7.26m12.28 -7.26v7.26m12.28 -7.26v7.26m12.28 -7.26v7.26m12.28 -7.26v7.26m12.28 -7.26v7.26m12.28 -7.26v7.26M109.40 577.11v7.26m12.28 -7.26v7.26m12.28 -7.26v7.26m12.28 -7.26v7.26m12.28 -7.26v7.26m12.28 -7.26v7.26m12.28 -7.26v7.26m12.28 -7.26v7.26m12.28 -7.26v7.26m12.28 -7.26v7.26m12.28 -7.26v7.26m12.28 -7.26v7.26m12.28 -7.26v7.26m12.28 -7.26v7.26m12.28 -7.26v7.26m12.28 -7.26v7.26m12.28 -7.26v7.26m12.28 -7.26v7.26m12.28 -7.26v7.26m12.28 -7.26v7.26m12.28 -7.26v7.26m12.28 -7.26v7.26m12.28 -7.26v7.26m12.28 -7.26v7.26m12.28 -7.26v7.26m12.28 -7.26v7.26m12.28 -7.26v7.26m12.28 -7.26v7.26m12.28 -7.26v7.26m12.28 -7.26v7.26m12.28 -7.26v7.26m12.28 -7.26v7.26m12.28 -7.26v7.26m12.28 -7.26v7.26m12.28 -7.26v7.26m12.28 -7.26v7.26m12.28 -7.26v7.26m12.28 -7.26v7.26m12.28 -7.26v7.26m12.28 -7.26v7.26m12.28 -7.26v7.26m12.28 -7.26v7.26M103.26 588.00v7.26m12.28 -7.26v7.26m12.28 -7.26v7.26m12.28 -7.26v7.26m12.28 -7.26v7.26m12.28 -7.26v7.26m12.28 -7.26v7.26m12.28 -7.26v7.26m12.28 -7.26v7.26m12.28 -7.26v7.26m12.28 -7.26v7.26m12.28 -7.26v7.26m12.28 -7.26v7.26m12.28 -7.26v7.26m12.28 -7.26v7.26m12.28 -7.26v7.26m12.28 -7.26v7.26m12.28 -7.26v7.26m12.28 -7.26v7.26m12.28 -7.26v7.26m12.28 -7.26v7.26m12.28 -7.26v7.26m12.28 -7.26v7.26m12.28 -7.26v7.26m12.28 -7.26v7.26m12.28 -7.26v7.26m12.28 -7.26v7.26m12.28 -7.26v7.26m12.28 -7.26v7.26m12.28 -7.26v7.26m12.28 -7.26v7.26m12.28 -7.26v7.26m12.28 -7.26v7.26m12.28 -7.26v7.26m12.28 -7.26v7.26m12.28 -7.26v7.26m12.28 -7.26v7.26m12.28 -7.26v7.26m12.28 -7.26v7.26m12.28 -7.26v7.26m12.28 -7.26v7.26m12.28 -7.26v7.26M109.40 598.90v7.26m12.28 -7.26v7.26m12.28 -7.26v7.26m12.28 -7.26v7.26m12.28 -7.26v7.26m12.28 -7.26v7.26m12.28 -7.26v7.26m12.28 -7.26v7.26m12.28 -7.26v7.26m12.28 -7.26v7.26m12.28 -7.26v7.26m12.28 -7.26v7.26m12.28 -7.26v7.26m12.28 -7.26v7.26m12.28 -7.26v7.26m12.28 -7.26v7.26m12.28 -7.26v7.26m12.28 -7.26v7.26m12.28 -7.26v7.26m12.28 -7.26v7.26m12.28 -7.26v7.26m12.28 -7.26v7.26m12.28 -7.26v7.26m12.28 -7.26v7.26m12.28 -7.26v7.26m12.28 -7.26v7.26m12.28 -7.26v7.26m12.28 -7.26v7.26m12.28 -7.26v7.26m12.28 -7.26v7.26m12.28 -7.26v7.26m12.28 -7.26v7.26m12.28 -7.26v7.26m12.28 -7.26v7.26m12.28 -7.26v7.26m12.28 -7.26v7.26m12.28 -7.26v7.26m12.28 -7.26v7.26m12.28 -7.26v7.26m12.28 -7.26v7.26m12.28 -7.26v7.26m12.28 -7.26v7.26M103.26 609.80v7.26m12.28 -7.26v7.26m12.28 -7.26v7.26m12.28 -7.26v7.26m12.28 -7.26v7.26m12.28 -7.26v7.26m12.28 -7.26v7.26m12.28 -7.26v7.26m12.28 -7.26v7.26m12.28 -7.26v7.26m12.28 -7.26v7.26m12.28 -7.26v7.26m12.28 -7.26v7.26m12.28 -7.26v7.26m12.28 -7.26v7.26m12.28 -7.26v7.26m12.28 -7.26v7.26m12.28 -7.26v7.26m12.28 -7.26v7.26m12.28 -7.26v7.26m12.28 -7.26v7.26m12.28 -7.26v7.26m12.28 -7.26v7.26m12.28 -7.26v7.26m12.28 -7.26v7.26m12.28 -7.26v7.26m12.28 -7.26v7.26m12.28 -7.26v7.26m12.28 -7.26v7.26m12.28 -7.26v7.26m12.28 -7.26v7.26m12.28 -7.26v7.26m12.28 -7.26v7.26m12.28 -7.26v7.26m12.28 -7.26v7.26m12.28 -7.26v7.26m12.28 -7.26v7.26m12.28 -7.26v7.26m12.28 -7.26v7.26m12.28 -7.26v7.26m12.28 -7.26v7.26m12.28 -7.26v7.26M109.40 620.69v7.26m12.28 -7.26v7.26m12.28 -7.26v7.26m12.28 -7.26v7.26m12.28 -7.26v7.26m12.28 -7.26v7.26m12.28 -7.26v7.26m12.28 -7.26v7.26m12.28 -7.26v7.26m12.28 -7.26v7.26m12.28 -7.26v7.26m12.28 -7.26v7.26m12.28 -7.26v7.26m12.28 -7.26v7.26m12.28 -7.26v7.26m12.28 -7.26v7.26m12.28 -7.26v7.26m12.28 -7.26v7.26m12.28 -7.26v7.26m12.28 -7.26v7.26m12.28 -7.26v7.26m12.28 -7.26v7.26m12.28 -7.26v7.26m12.28 -7.26v7.26m12.28 -7.26v7.26m12.28 -7.26v7.26m12.28 -7.26v7.26m12.28 -7.26v7.26m12.28 -7.26v7.26m12.28 -7.26v7.26m12.28 -7.26v7.26m12.28 -7.26v7.26m12.28 -7.26v7.26m12.28 -7.26v7.26m12.28 -7.26v7.26m12.28 -7.26v7.26m12.28 -7.26v7.26m12.28 -7.26v7.26m12.28 -7.26v7.26m12.28 -7.26v7.26m12.28 -7.26v7.26m12.28 -7.26v7.26M103.26 631.59v7.26m12.28 -7.26v7.26m12.28 -7.26v7.26m12.28 -7.26v7.26m12.28 -7.26v7.26m12.28 -7.26v7.26m12.28 -7.26v7.26m12.28 -7.26v7.26m12.28 -7.26v7.26m12.28 -7.26v7.26m12.28 -7.26v7.26m12.28 -7.26v7.26m12.28 -7.26v7.26m12.28 -7.26v7.26m12.28 -7.26v7.26m12.28 -7.26v7.26m12.28 -7.26v7.26m12.28 -7.26v7.26m12.28 -7.26v7.26m12.28 -7.26v7.26m12.28 -7.26v7.26m12.28 -7.26v7.26m12.28 -7.26v7.26m12.28 -7.26v7.26m12.28 -7.26v7.26m12.28 -7.26v7.26m12.28 -7.26v7.26m12.28 -7.26v7.26m12.28 -7.26v7.26m12.28 -7.26v7.26m12.28 -7.26v7.26m12.28 -7.26v7.26m12.28 -7.26v7.26m12.28 -7.26v7.26m12.28 -7.26v7.26m12.28 -7.26v7.26m12.28 -7.26v7.26m12.28 -7.26v7.26m12.28 -7.26v7.26m12.28 -7.26v7.26m12.28 -7.26v7.26m12.28 -7.26v7.26M109.40 642.48v7.26m12.28 -7.26v7.26m12.28 -7.26v7.26m12.28 -7.26v7.26m12.28 -7.26v7.26m12.28 -7.26v7.26m12.28 -7.26v7.26m12.28 -7.26v7.26m12.28 -7.26v7.26m12.28 -7.26v7.26m12.28 -7.26v7.26m12.28 -7.26v7.26m12.28 -7.26v7.26m12.28 -7.26v7.26m12.28 -7.26v7.26m12.28 -7.26v7.26m12.28 -7.26v7.26m12.28 -7.26v7.26m12.28 -7.26v7.26m12.28 -7.26v7.26m12.28 -7.26v7.26m12.28 -7.26v7.26m12.28 -7.26v7.26m12.28 -7.26v7.26m12.28 -7.26v7.26m12.28 -7.26v7.26m12.28 -7.26v7.26m12.28 -7.26v7.26m12.28 -7.26v7.26m12.28 -7.26v7.26m12.28 -7.26v7.26m12.28 -7.26v7.26m12.28 -7.26v7.26m12.28 -7.26v7.26m12.28 -7.26v7.26m12.28 -7.26v7.26m12.28 -7.26v7.26m12.28 -7.26v7.26m12.28 -7.26v7.26m12.28 -7.26v7.26m12.28 -7.26v7.26m12.28 -7.26v7.26M103.26 653.38v7.26m12.28 -7.26v7.26m12.28 -7.26v7.26m12.28 -7.26v7.26m12.28 -7.26v7.26m12.28 -7.26v7.26m12.28 -7.26v7.26m12.28 -7.26v7.26m12.28 -7.26v7.26m12.28 -7.26v7.26m12.28 -7.26v7.26m12.28 -7.26v7.26m12.28 -7.26v7.26m12.28 -7.26v7.26m12.28 -7.26v7.26m12.28 -7.26v7.26m12.28 -7.26v7.26m12.28 -7.26v7.26m12.28 -7.26v7.26m12.28 -7.26v7.26m12.28 -7.26v7.26m12.28 -7.26v7.26m12.28 -7.26v7.26m12.28 -7.26v7.26m12.28 -7.26v7.26m12.28 -7.26v7.26m12.28 -7.26v7.26m12.28 -7.26v7.26m12.28 -7.26v7.26m12.28 -7.26v7.26m12.28 -7.26v7.26m12.28 -7.26v7.26m12.28 -7.26v7.26m12.28 -7.26v7.26m12.28 -7.26v7.26m12.28 -7.26v7.26m12.28 -7.26v7.26m12.28 -7.26v7.26m12.28 -7.26v7.26m12.28 -7.26v7.26m12.28 -7.26v7.26m12.28 -7.26v7.26" fill="none" stroke="#dcdcdc" stroke-opacity="0.24" stroke-width="1" stroke-linejoin="round"/><g>
</g>
<path d="M109.5 150V662M104 657.0H612M191.4 150V662M104 573.2H612M273.2 150V662M104 489.4H612M355.1 150V662M104 405.5H612M436.9 150V662M104 321.6H612M518.8 150V662M104 237.8H612M600.6 150V662M104 154.0H612" fill="none" stroke="#000" stroke-opacity="0.04" stroke-width="1.2"/>
<path d="M239.10 237.60H471.00V572.80H239.10Z" fill="none" stroke="#1e1e1e" stroke-width="2.8" stroke-dasharray="8.9 5.3" stroke-linecap="square"/>
<path d="M299.7 224.8L305.8 228.4M299.7 224.8L293.6 228.4M293.6 228.4L293.6 235.7M312.0 224.8L318.1 228.4M312.0 224.8L305.8 228.4M324.3 224.8L330.4 228.4M324.3 224.8L318.1 228.4M336.5 224.8L342.7 228.4M336.5 224.8L330.4 228.4M348.8 224.8L354.9 228.4M348.8 224.8L342.7 228.4M361.1 224.8L367.2 228.4M361.1 224.8L354.9 228.4M373.4 224.8L379.5 228.4M373.4 224.8L367.2 228.4M385.6 224.8L391.8 228.4M385.6 224.8L379.5 228.4M391.8 228.4L391.8 235.7M269.0 235.7L275.1 239.3M269.0 235.7L262.9 239.3M262.9 239.3L262.9 246.6M281.3 235.7L287.4 239.3M281.3 235.7L275.1 239.3M293.6 235.7L287.4 239.3M391.8 235.7L397.9 239.3M404.1 235.7L410.2 239.3M404.1 235.7L397.9 239.3M416.3 235.7L422.5 239.3M416.3 235.7L410.2 239.3M428.6 235.7L434.8 239.3M428.6 235.7L422.5 239.3M440.9 235.7L447.0 239.3M440.9 235.7L434.8 239.3M447.0 239.3L447.0 246.6M262.9 246.6L256.7 250.2M256.7 250.2L256.7 257.5M447.0 246.6L453.2 250.2M459.3 246.6L465.4 250.2M459.3 246.6L453.2 250.2M465.4 257.5L459.3 261.1M465.4 250.2L465.4 257.5M256.7 257.5L250.6 261.1M250.6 261.1L250.6 268.4M459.3 261.1L459.3 268.4M250.6 268.4L244.5 272.0M244.5 272.0L244.5 279.3M459.3 268.4L465.4 272.0M465.4 272.0L465.4 279.3M244.5 279.3L238.3 282.9M238.3 282.9L238.3 290.2M465.4 279.3L471.6 282.9M477.7 279.3L483.9 282.9M477.7 279.3L471.6 282.9M483.9 282.9L483.9 290.2M238.3 290.2L232.2 293.8M232.2 301.1L238.3 304.7M232.2 293.8L232.2 301.1M483.9 290.2L490.0 293.8M490.0 301.1L483.9 304.7M490.0 293.8L490.0 301.1M238.3 304.7L238.3 312.0M483.9 304.7L483.9 312.0M238.3 312.0L232.2 315.6M232.2 315.6L232.2 322.9M483.9 312.0L490.0 315.6M490.0 322.9L483.9 326.5M490.0 315.6L490.0 322.9M232.2 322.9L226.0 326.5M226.0 333.8L232.2 337.4M226.0 326.5L226.0 333.8M483.9 326.5L483.9 333.8M232.2 337.4L232.2 344.7M483.9 333.8L490.0 337.4M490.0 337.4L490.0 344.7M232.2 344.7L226.0 348.3M226.0 348.3L226.0 355.6M490.0 344.7L496.1 348.3M496.1 355.6L490.0 359.2M496.1 348.3L496.1 355.6M226.0 355.6L219.9 359.2M219.9 366.5L226.0 370.1M219.9 359.2L219.9 366.5M490.0 359.2L490.0 366.5M226.0 370.1L226.0 377.3M490.0 366.5L496.1 370.1M496.1 377.3L490.0 381.0M496.1 370.1L496.1 377.3M226.0 377.3L219.9 381.0M219.9 388.2L226.0 391.9M219.9 381.0L219.9 388.2M490.0 381.0L490.0 388.2M226.0 391.9L226.0 399.1M490.0 388.2L496.1 391.9M496.1 399.1L490.0 402.8M496.1 391.9L496.1 399.1M226.0 399.1L219.9 402.8M219.9 410.0L226.0 413.7M219.9 402.8L219.9 410.0M490.0 402.8L490.0 410.0M226.0 413.7L226.0 420.9M490.0 410.0L496.1 413.7M496.1 420.9L490.0 424.6M496.1 413.7L496.1 420.9M226.0 420.9L219.9 424.6M219.9 431.8L226.0 435.5M219.9 424.6L219.9 431.8M490.0 424.6L490.0 431.8M226.0 435.5L226.0 442.7M490.0 431.8L496.1 435.5M496.1 442.7L490.0 446.4M496.1 435.5L496.1 442.7M226.0 442.7L219.9 446.4M219.9 453.6L226.0 457.3M219.9 446.4L219.9 453.6M490.0 446.4L490.0 453.6M226.0 457.3L226.0 464.5M490.0 453.6L496.1 457.3M496.1 464.5L490.0 468.1M496.1 457.3L496.1 464.5M226.0 464.5L219.9 468.1M219.9 475.4L226.0 479.0M219.9 468.1L219.9 475.4M490.0 468.1L490.0 475.4M226.0 479.0L226.0 486.3M490.0 475.4L496.1 479.0M496.1 486.3L490.0 489.9M496.1 479.0L496.1 486.3M226.0 486.3L219.9 489.9M219.9 497.2L226.0 500.8M219.9 489.9L219.9 497.2M490.0 497.2L483.9 500.8M490.0 489.9L490.0 497.2M226.0 500.8L226.0 508.1M483.9 508.1L477.7 511.7M483.9 500.8L483.9 508.1M226.0 508.1L219.9 511.7M219.9 519.0L226.0 522.6M219.9 511.7L219.9 519.0M477.7 511.7L477.7 519.0M226.0 529.9L232.2 533.5M226.0 522.6L226.0 529.9M477.7 519.0L483.9 522.6M483.9 529.9L477.7 533.5M483.9 522.6L483.9 529.9M232.2 533.5L232.2 540.8M477.7 540.8L471.6 544.4M477.7 533.5L477.7 540.8M232.2 540.8L226.0 544.4M238.3 551.7L232.2 555.3M226.0 551.7L232.2 555.3M226.0 544.4L226.0 551.7M238.3 551.7L244.5 555.3M459.3 551.7L453.2 555.3M471.6 551.7L465.4 555.3M459.3 551.7L465.4 555.3M471.6 544.4L471.6 551.7M244.5 555.3L244.5 562.6M440.9 562.6L434.8 566.2M453.2 562.6L447.0 566.2M440.9 562.6L447.0 566.2M453.2 555.3L453.2 562.6M244.5 562.6L238.3 566.2M250.6 573.5L244.5 577.1M238.3 573.5L244.5 577.1M238.3 566.2L238.3 573.5M250.6 573.5L256.7 577.1M410.2 573.5L404.1 577.1M410.2 573.5L416.3 577.1M434.8 573.5L428.6 577.1M434.8 566.2L434.8 573.5M269.0 584.4L262.9 588.0M256.7 584.4L262.9 588.0M256.7 577.1L256.7 584.4M281.3 584.4L275.1 588.0M269.0 584.4L275.1 588.0M293.6 584.4L287.4 588.0M281.3 584.4L287.4 588.0M305.8 584.4L299.7 588.0M293.6 584.4L299.7 588.0M318.1 584.4L312.0 588.0M305.8 584.4L312.0 588.0M330.4 584.4L324.3 588.0M318.1 584.4L324.3 588.0M342.7 584.4L336.5 588.0M330.4 584.4L336.5 588.0M354.9 584.4L348.8 588.0M342.7 584.4L348.8 588.0M367.2 584.4L361.1 588.0M354.9 584.4L361.1 588.0M379.5 584.4L373.4 588.0M367.2 584.4L373.4 588.0M391.8 584.4L385.6 588.0M379.5 584.4L385.6 588.0M404.1 584.4L397.9 588.0M391.8 584.4L397.9 588.0M404.1 577.1L404.1 584.4M428.6 584.4L422.5 588.0M416.3 584.4L422.5 588.0M428.6 577.1L428.6 584.4M416.3 577.1L416.3 584.4" fill="none" stroke="#ffc30b" stroke-width="3.3" stroke-linecap="round"/>
<circle cx="484.3" cy="496.8" r="19.3" fill="#fff" stroke="#1e1e1e" stroke-width="2.3"/>

<path d="M250.7 96.6L253.9 100L261.3 92" fill="none" stroke="#fff" stroke-width="2.6" stroke-linecap="round" stroke-linejoin="round"/>
<g stroke-linecap="round" fill="none"><path d="M956.1 96.8L986.2 127M986.2 96.8L956.1 127" stroke="#f0426b" stroke-width="8.4"/><path d="M956.1 96.8L986.2 127M986.2 96.8L956.1 127" stroke="#f95482" stroke-width="5.6"/><path d="M956.1 96.8L986.2 127M986.2 96.8L956.1 127" stroke="#fd6490" stroke-width="2.8"/></g>
</svg>
<div id="lg"></div>
<div id="bar"><div id="fill"></div></div><div id="mark"></div><div id="hr"></div>
<div class="t" style="left:211.5px;top:24.6px;font-size:17.4px;font-weight:700;color:#33688d;letter-spacing:-0.491px">Select Pitch Location to Evaluate</div>
<div class="t" style="left:200.0px;top:59.0px;font-size:13px;font-weight:400;color:#999999;letter-spacing:-0.152px">Catcher's Perspective</div>
<div class="t" style="left:352.0px;top:58.9px;font-size:13px;font-weight:700;color:#ffffff;letter-spacing:-0.487px">Catcher</div>
<div class="t" style="left:424.7px;top:58.9px;font-size:13px;font-weight:700;color:#555555;letter-spacing:-0.396px">Pitcher</div>
<div class="t" style="left:271.3px;top:89.5px;font-size:13.3px;font-weight:700;color:#505050;letter-spacing:-0.162px">Show challenge boundary</div>
<div class="t" style="left:261.0px;top:693.0px;font-size:13px;font-weight:700;color:#4a4a4a;letter-spacing:0.171px">plate_x (feet from center)</div>
<div class="t" style="left:174.4px;top:722.3px;font-size:12.3px;font-weight:400;color:#555555;letter-spacing:-0.022px">100% Ball</div>
<div class="t" style="left:439.2px;top:722.3px;font-size:12.3px;font-weight:400;color:#555555;letter-spacing:0.189px">100% Strike</div>
<div class="t" style="left:849.6px;top:24.8px;font-size:17.4px;font-weight:700;color:#33688d;letter-spacing:-0.473px">Challenge Evaluation</div>
<div class="t" style="left:1006.7px;top:96.8px;font-size:31.2px;font-weight:700;color:#c62828;transform-origin:0 0;transform:scaleX(1.1276)"><span style="-webkit-text-stroke:1.4px #c62828">BAD</span></div>
<div class="t" style="left:906.6px;top:142.9px;font-size:31.2px;font-weight:700;color:#c62828;transform-origin:0 0;transform:scaleX(1.1141)"><span style="-webkit-text-stroke:1.4px #c62828">CHALLENGE</span></div>
<div class="t" style="left:867.5px;top:192.2px;font-size:14.2px;font-weight:400;color:#555555;letter-spacing:0.260px">This pitch is called a strike <b>75.3%</b> of the time,</div>
<div class="t" style="left:851.7px;top:216.9px;font-size:14.2px;font-weight:400;color:#555555;letter-spacing:0.400px">indicating that confidence that this was actually a</div>
<div class="t" style="left:858.6px;top:241.5px;font-size:14.2px;font-weight:400;color:#555555;letter-spacing:0.354px">ball is <b>24.7%.</b> The break-even threshold for this</div>
<div class="t" style="left:878.3px;top:266.1px;font-size:14.2px;font-weight:400;color:#555555;letter-spacing:0.219px">situation is <b>28.9%</b>, meaning a challenge is</div>
<div class="t" style="left:861.2px;top:290.8px;font-size:14.2px;font-weight:400;color:#555555;letter-spacing:0.333px">advisable if you are more than 28.9% certain it</div>
<div class="t" style="left:854.8px;top:315.4px;font-size:14.2px;font-weight:400;color:#555555;letter-spacing:0.213px">will be successful. The break-even is <b>higher</b> than</div>
<div class="t" style="left:858.0px;top:340.0px;font-size:14.2px;font-weight:400;color:#555555;letter-spacing:0.279px">the confidence score for calls in this location, so</div>
<div class="t" style="left:900.7px;top:364.7px;font-size:14.2px;font-weight:400;color:#555555;letter-spacing:-0.205px"><b>challenging here is a bad decision.</b></div>
<div class="t" style="left:967.8px;top:404.6px;font-size:14px;font-weight:700;color:#555555;letter-spacing:-0.394px">Margin:</div>
<div class="t" style="left:1019.8px;top:404.6px;font-size:14px;font-weight:700;color:#c62828;letter-spacing:-0.404px">-4.2 pp</div>
<div class="t" style="left:850.0px;top:472.1px;font-size:14px;font-weight:400;color:#777777;letter-spacing:-0.240px">Called Strike %:</div>
<div class="t" style="left:850.0px;top:492.6px;font-size:14px;font-weight:400;color:#777777;letter-spacing:-0.072px">Confidence:</div>
<div class="t" style="left:850.0px;top:513.1px;font-size:14px;font-weight:400;color:#777777;letter-spacing:-0.105px">Break-Even:</div>
<div class="t" style="left:850.0px;top:533.6px;font-size:14px;font-weight:400;color:#777777;letter-spacing:-0.379px">Zone Sample:</div>
<div class="t" style="left:1142.0px;top:472.1px;font-size:14px;font-weight:700;color:#555555;letter-spacing:-0.176px">75.3%</div>
<div class="t" style="left:1142.0px;top:492.6px;font-size:14px;font-weight:700;color:#555555;letter-spacing:-0.176px">24.7%</div>
<div class="t" style="left:1142.0px;top:513.1px;font-size:14px;font-weight:700;color:#555555;letter-spacing:-0.176px">28.9%</div>
<div class="t" style="left:1107.5px;top:533.6px;font-size:14px;font-weight:700;color:#555555;letter-spacing:-0.277px">385 pitches</div>
<div class="t" style="left:89.4px;top:668.3px;width:40px;text-align:center;font-size:11.5px;color:#999999">-1.5</div>
<div class="t" style="left:61.7px;top:651.9px;width:40px;text-align:right;font-size:11.5px;color:#999999">-1.5</div>
<div class="t" style="left:171.2px;top:668.3px;width:40px;text-align:center;font-size:11.5px;color:#999999">-1.0</div>
<div class="t" style="left:61.7px;top:568.1px;width:40px;text-align:right;font-size:11.5px;color:#999999">-1.0</div>
<div class="t" style="left:253.1px;top:668.3px;width:40px;text-align:center;font-size:11.5px;color:#999999">-0.5</div>
<div class="t" style="left:61.7px;top:484.2px;width:40px;text-align:right;font-size:11.5px;color:#999999">-0.5</div>
<div class="t" style="left:334.9px;top:668.3px;width:40px;text-align:center;font-size:11.5px;color:#999999">0.0</div>
<div class="t" style="left:61.7px;top:400.4px;width:40px;text-align:right;font-size:11.5px;color:#999999">0.0</div>
<div class="t" style="left:416.8px;top:668.3px;width:40px;text-align:center;font-size:11.5px;color:#999999">0.5</div>
<div class="t" style="left:61.7px;top:316.5px;width:40px;text-align:right;font-size:11.5px;color:#999999">0.5</div>
<div class="t" style="left:498.6px;top:668.3px;width:40px;text-align:center;font-size:11.5px;color:#999999">1.0</div>
<div class="t" style="left:61.7px;top:232.7px;width:40px;text-align:right;font-size:11.5px;color:#999999">1.0</div>
<div class="t" style="left:580.5px;top:668.3px;width:40px;text-align:center;font-size:11.5px;color:#999999">1.5</div>
<div class="t" style="left:61.7px;top:148.8px;width:40px;text-align:right;font-size:11.5px;color:#999999">1.5</div>
<div class="t" style="left:-45px;top:407.5px;width:200px;text-align:center;font-size:13px;font-weight:700;color:#555555;transform:rotate(-90deg);letter-spacing:-0.07px">plate_z_scaled (&plusmn;1 = zone edge)</div>
</body></html>
